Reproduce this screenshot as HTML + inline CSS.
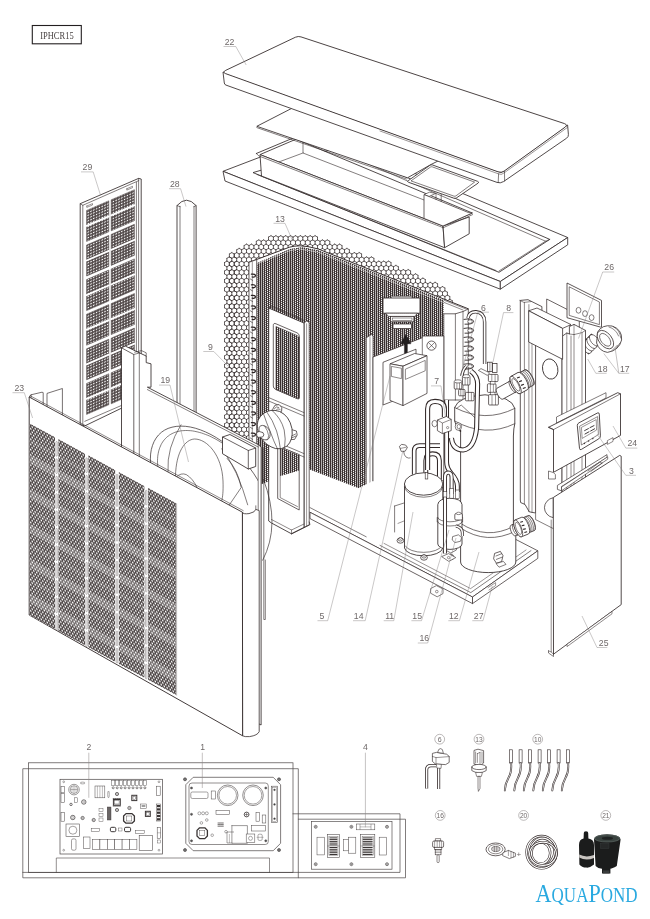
<!DOCTYPE html>
<html><head><meta charset="utf-8"><title>IPHCR15</title>
<style>
html,body{margin:0;padding:0;background:#fff;}
body{width:650px;height:919px;overflow:hidden;font-family:"Liberation Sans",sans-serif;}
svg{display:block;will-change:transform;}
svg text{font-family:"Liberation Sans",sans-serif;}
</style></head><body>
<svg width="650" height="919" viewBox="0 0 650 919">
<defs>
<pattern id="hex" width="4.9" height="8.487" patternUnits="userSpaceOnUse" patternTransform="translate(226,233)">
<path d="M2.45,0 L4.9,1.415 L4.9,4.244 L2.45,5.658 L0,4.244 L0,1.415 Z M2.45,5.658 L2.45,8.487" fill="none" stroke="#3a3131" stroke-width="0.62"/>
</pattern>
<pattern id="meshL" width="2" height="2" patternUnits="userSpaceOnUse" patternTransform="skewY(-23)">
<rect width="2" height="2" fill="#3d3434"/><rect x="0.55" y="0.55" width="0.95" height="0.95" fill="#fff"/>
</pattern>
<pattern id="meshR" width="2" height="2" patternUnits="userSpaceOnUse" patternTransform="skewY(21)">
<rect width="2" height="2" fill="#3d3434"/><rect x="0.55" y="0.55" width="0.95" height="0.95" fill="#fff"/>
</pattern>
<pattern id="grillF" width="3" height="5.2" patternUnits="userSpaceOnUse" patternTransform="skewY(28.6)">
<rect width="3" height="5.2" fill="#4f4848"/>
<circle cx="0.75" cy="1.3" r="0.9" fill="#fff"/><circle cx="2.25" cy="3.9" r="0.9" fill="#fff"/>
</pattern>
<pattern id="grillS" width="2.8" height="2.8" patternUnits="userSpaceOnUse" patternTransform="skewY(-23.4)">
<rect width="2.8" height="2.8" fill="#524a4a"/>
<ellipse cx="1.4" cy="1.4" rx="0.9" ry="0.7" fill="#fff"/>
</pattern>
</defs>
<rect width="650" height="919" fill="#fff"/>
<rect x="32.3" y="25.5" width="49.0" height="18.3" rx="0" fill="#fff" stroke="#231f20" stroke-width="1.1" />
<text x="40.2" y="38.6" font-family="Liberation Serif" font-size="10.6" fill="#4a4444" textLength="33.5" lengthAdjust="spacingAndGlyphs" style="font-family:'Liberation Serif',serif">IPHCR15</text>
<polygon points="223.0,171.3 320.7,134.0 567.7,237.5 500.3,281.5" fill="#fff" stroke="#332a2a" stroke-width="0.85" stroke-linejoin="round" />
<polygon points="223.0,171.3 500.3,281.5 500.3,289.2 225.0,181.0" fill="#fff" stroke="#332a2a" stroke-width="0.85" stroke-linejoin="round" />
<polygon points="500.3,281.5 567.7,237.5 567.7,244.8 500.3,289.2" fill="#fff" stroke="#332a2a" stroke-width="0.85" stroke-linejoin="round" />
<polygon points="253.0,172.6 338.0,147.5 549.8,239.4 499.0,272.3" fill="#fff" stroke="#332a2a" stroke-width="0.85" stroke-linejoin="round" />
<polyline points="257.0,174.5 496.0,270.5" fill="none" stroke="#332a2a" stroke-width="0.61" stroke-linejoin="round" stroke-linecap="round" />
<polyline points="341.0,152.0 545.5,241.2 499.0,271.0" fill="none" stroke="#332a2a" stroke-width="0.61" stroke-linejoin="round" stroke-linecap="round" />
<polyline points="545.5,241.2 549.8,239.4" fill="none" stroke="#332a2a" stroke-width="0.61" stroke-linejoin="round" stroke-linecap="round" />
<polygon points="260.0,154.6 296.0,139.2 472.3,213.0 443.0,226.0" fill="#fff" stroke="#332a2a" stroke-width="0.85" stroke-linejoin="round" />
<polyline points="303.0,141.5 303.0,153.0 455.0,212.0" fill="none" stroke="#332a2a" stroke-width="0.61" stroke-linejoin="round" stroke-linecap="round" />
<polyline points="303.0,153.0 268.0,166.0" fill="none" stroke="#332a2a" stroke-width="0.61" stroke-linejoin="round" stroke-linecap="round" />
<polygon points="260.0,154.6 443.0,226.0 444.6,247.7 261.5,176.0" fill="#fff" stroke="#332a2a" stroke-width="0.85" stroke-linejoin="round" />
<polygon points="443.0,226.0 469.2,217.0 469.2,233.8 444.6,247.7" fill="#fff" stroke="#332a2a" stroke-width="0.85" stroke-linejoin="round" />
<polyline points="256.3,153.5 259.0,156.0 443.0,227.6" fill="none" stroke="#332a2a" stroke-width="0.61" stroke-linejoin="round" stroke-linecap="round" />
<polyline points="256.3,153.5 292.0,138.5" fill="none" stroke="#332a2a" stroke-width="0.85" stroke-linejoin="round" stroke-linecap="round" />
<polyline points="443.0,227.8 472.6,214.6" fill="none" stroke="#332a2a" stroke-width="0.61" stroke-linejoin="round" stroke-linecap="round" />
<polygon points="424.0,194.6 429.5,192.2 435.7,193.4 429.0,196.5" fill="#fff" stroke="#332a2a" stroke-width="0.61" stroke-linejoin="round" />
<polygon points="424.0,194.6 429.0,196.5 468.3,212.5 472.3,213.0 443.0,226.0 424.0,218.4" fill="#fff" stroke="#332a2a" stroke-width="0.73" stroke-linejoin="round" />
<polyline points="441.2,194.0 441.2,201.4" fill="none" stroke="#332a2a" stroke-width="0.61" stroke-linejoin="round" stroke-linecap="round" />
<polyline points="436.0,193.6 436.0,199.4" fill="none" stroke="#332a2a" stroke-width="0.55" stroke-linejoin="round" stroke-linecap="round" />
<polygon points="256.8,126.3 330.0,88.7 480.0,140.0 430.8,164.6 407.5,177.8" fill="#fff" stroke="#332a2a" stroke-width="0.85" stroke-linejoin="round" />
<polyline points="256.8,127.6 406.5,179.0" fill="none" stroke="#332a2a" stroke-width="0.61" stroke-linejoin="round" stroke-linecap="round" />
<path d="M408.3,180.6 L429.8,165.4 Q431,164.4 432.6,165 L477.5,181.3 Q479.6,182.1 478,183.2 L456.6,197.8 Q455.3,198.7 453.6,198.1 L408.8,182.4 Q406.6,181.6 408.3,180.6 Z" fill="#fff" stroke="#332a2a" stroke-width="0.85"/>
<path d="M411,180.9 L430.4,167.1 Q431.2,166.5 432.4,166.9 L474.6,182.1 L455.9,195.9 Q455,196.5 453.9,196.1 Z" fill="none" stroke="#332a2a" stroke-width="0.61"/>
<path d="M223,72 L224.3,83 Q224.5,84.6 226,85.1 L497,182.4 Q500.3,183.6 503.5,181.6 L566.6,138.2 Q568.6,136.8 568.4,134.5 L567.6,125 L501.3,172.6 Z" fill="#fff" stroke="#332a2a" stroke-width="0.85" stroke-linejoin="round"/>
<polyline points="498.6,173.8 498.2,182.6" fill="none" stroke="#332a2a" stroke-width="0.61" stroke-linejoin="round" stroke-linecap="round" />
<polyline points="504.5,171.2 504.6,181.0" fill="none" stroke="#332a2a" stroke-width="0.61" stroke-linejoin="round" stroke-linecap="round" />
<path d="M225.8,70.3 L295.5,37.2 Q298.3,36 301,36.9 L564.5,123.6 Q568,125 565.3,127 L504,171.2 Q501.3,173 498,171.8 L225.5,73.6 Q222,72.2 225.8,70.3 Z" fill="#fff" stroke="#332a2a" stroke-width="0.88" stroke-linejoin="round"/>
<polyline points="380.0,131.0 498.3,173.8 501.4,174.4 504.5,172.6 567.2,127.6" fill="none" stroke="#332a2a" stroke-width="0.49" stroke-linejoin="round" stroke-linecap="round" />
<polygon points="80.2,203.7 138.6,178.4 141.2,179.0 141.2,398.7 84.8,425.9 80.2,424.5" fill="#fff" stroke="#332a2a" stroke-width="0.85" stroke-linejoin="round" />
<polyline points="80.2,203.7 82.8,205.3 138.8,180.6" fill="none" stroke="#332a2a" stroke-width="0.61" stroke-linejoin="round" stroke-linecap="round" />
<polyline points="82.8,205.3 82.8,425.0" fill="none" stroke="#332a2a" stroke-width="0.61" stroke-linejoin="round" stroke-linecap="round" />
<polyline points="136.4,182.4 136.4,401.2" fill="none" stroke="#332a2a" stroke-width="0.61" stroke-linejoin="round" stroke-linecap="round" />
<polyline points="138.6,178.4 138.6,400.7" fill="none" stroke="#332a2a" stroke-width="0.61" stroke-linejoin="round" stroke-linecap="round" />
<polyline points="84.8,421.3 136.4,399.0" fill="none" stroke="#332a2a" stroke-width="0.61" stroke-linejoin="round" stroke-linecap="round" />
<polyline points="86.8,206.0 92.5,203.6 92.5,205.0 86.8,207.4 86.8,206.0" fill="none" stroke="#332a2a" stroke-width="0.49" stroke-linejoin="round" stroke-linecap="round" />
<polyline points="126.8,188.7 132.5,186.3 132.5,187.7 126.8,190.1 126.8,188.7" fill="none" stroke="#332a2a" stroke-width="0.49" stroke-linejoin="round" stroke-linecap="round" />
<polygon points="86.6,210.4 108.8,200.8 108.8,231.8 86.6,241.4" fill="url(#grillS)" stroke="#4a4242" stroke-width="0.5" stroke-linejoin="round" />
<polyline points="86.6,225.9 108.8,216.3" fill="none" stroke="#fff" stroke-width="1.8" stroke-linejoin="round" stroke-linecap="round" />
<polygon points="111.2,199.8 134.4,189.7 134.4,220.7 111.2,230.8" fill="url(#grillS)" stroke="#4a4242" stroke-width="0.5" stroke-linejoin="round" />
<polyline points="111.2,215.3 134.4,205.2" fill="none" stroke="#fff" stroke-width="1.8" stroke-linejoin="round" stroke-linecap="round" />
<polygon points="86.6,245.0 108.8,235.4 108.8,266.4 86.6,276.0" fill="url(#grillS)" stroke="#4a4242" stroke-width="0.5" stroke-linejoin="round" />
<polyline points="86.6,260.5 108.8,250.9" fill="none" stroke="#fff" stroke-width="1.8" stroke-linejoin="round" stroke-linecap="round" />
<polygon points="111.2,234.4 134.4,224.3 134.4,255.3 111.2,265.4" fill="url(#grillS)" stroke="#4a4242" stroke-width="0.5" stroke-linejoin="round" />
<polyline points="111.2,249.9 134.4,239.8" fill="none" stroke="#fff" stroke-width="1.8" stroke-linejoin="round" stroke-linecap="round" />
<polygon points="86.6,279.6 108.8,270.0 108.8,301.0 86.6,310.6" fill="url(#grillS)" stroke="#4a4242" stroke-width="0.5" stroke-linejoin="round" />
<polyline points="86.6,295.1 108.8,285.5" fill="none" stroke="#fff" stroke-width="1.8" stroke-linejoin="round" stroke-linecap="round" />
<polygon points="111.2,269.0 134.4,258.9 134.4,289.9 111.2,300.0" fill="url(#grillS)" stroke="#4a4242" stroke-width="0.5" stroke-linejoin="round" />
<polyline points="111.2,284.5 134.4,274.4" fill="none" stroke="#fff" stroke-width="1.8" stroke-linejoin="round" stroke-linecap="round" />
<polygon points="86.6,314.2 108.8,304.6 108.8,335.6 86.6,345.2" fill="url(#grillS)" stroke="#4a4242" stroke-width="0.5" stroke-linejoin="round" />
<polyline points="86.6,329.7 108.8,320.1" fill="none" stroke="#fff" stroke-width="1.8" stroke-linejoin="round" stroke-linecap="round" />
<polygon points="111.2,303.6 134.4,293.5 134.4,324.5 111.2,334.6" fill="url(#grillS)" stroke="#4a4242" stroke-width="0.5" stroke-linejoin="round" />
<polyline points="111.2,319.1 134.4,309.0" fill="none" stroke="#fff" stroke-width="1.8" stroke-linejoin="round" stroke-linecap="round" />
<polygon points="86.6,348.8 108.8,339.2 108.8,370.2 86.6,379.8" fill="url(#grillS)" stroke="#4a4242" stroke-width="0.5" stroke-linejoin="round" />
<polyline points="86.6,364.3 108.8,354.7" fill="none" stroke="#fff" stroke-width="1.8" stroke-linejoin="round" stroke-linecap="round" />
<polygon points="111.2,338.2 134.4,328.1 134.4,359.1 111.2,369.2" fill="url(#grillS)" stroke="#4a4242" stroke-width="0.5" stroke-linejoin="round" />
<polyline points="111.2,353.7 134.4,343.6" fill="none" stroke="#fff" stroke-width="1.8" stroke-linejoin="round" stroke-linecap="round" />
<polygon points="86.6,383.4 108.8,373.8 108.8,404.8 86.6,414.4" fill="url(#grillS)" stroke="#4a4242" stroke-width="0.5" stroke-linejoin="round" />
<polyline points="86.6,398.9 108.8,389.3" fill="none" stroke="#fff" stroke-width="1.8" stroke-linejoin="round" stroke-linecap="round" />
<polygon points="111.2,372.8 134.4,362.7 134.4,393.7 111.2,403.8" fill="url(#grillS)" stroke="#4a4242" stroke-width="0.5" stroke-linejoin="round" />
<polyline points="111.2,388.3 134.4,378.2" fill="none" stroke="#fff" stroke-width="1.8" stroke-linejoin="round" stroke-linecap="round" />
<path d="M177,560 L177,205.6 Q186.5,194.8 196.1,205.6 L196.1,560 Z" fill="#fff" stroke="#332a2a" stroke-width="0.85"/>
<polyline points="180.0,206.3 180.0,560.0" fill="none" stroke="#332a2a" stroke-width="0.61" stroke-linejoin="round" stroke-linecap="round" />
<polyline points="194.0,206.3 194.0,560.0" fill="none" stroke="#332a2a" stroke-width="0.61" stroke-linejoin="round" stroke-linecap="round" />
<polyline points="177.0,205.6 180.0,206.6" fill="none" stroke="#332a2a" stroke-width="0.61" stroke-linejoin="round" stroke-linecap="round" />
<polyline points="196.1,205.6 194.0,206.6" fill="none" stroke="#332a2a" stroke-width="0.61" stroke-linejoin="round" stroke-linecap="round" />
<path d="M224.5,262.5L224.5,265.4M224.5,262.5L226.9,261.1M224.5,265.4L226.9,266.8M224.5,271.0L224.5,273.8M224.5,271.0L226.9,269.6M224.5,273.8L226.9,275.3M224.5,279.5L224.5,282.3M224.5,279.5L226.9,278.1M224.5,282.3L226.9,283.8M224.5,288.0L224.5,290.8M224.5,288.0L226.9,286.6M224.5,290.8L226.9,292.2M224.5,296.5L224.5,299.3M224.5,296.5L226.9,295.1M224.5,299.3L226.9,300.7M224.5,305.0L224.5,307.8M224.5,305.0L226.9,303.6M224.5,307.8L226.9,309.2M224.5,313.5L224.5,316.3M224.5,313.5L226.9,312.0M224.5,316.3L226.9,317.7M224.5,321.9L224.5,324.8M224.5,321.9L226.9,320.5M224.5,324.8L226.9,326.2M224.5,330.4L224.5,333.3M224.5,330.4L226.9,329.0M224.5,333.3L226.9,334.7M224.5,338.9L224.5,341.7M224.5,338.9L226.9,337.5M224.5,341.7L226.9,343.2M224.5,347.4L224.5,350.2M224.5,347.4L226.9,346.0M224.5,350.2L226.9,351.6M224.5,355.9L224.5,358.7M224.5,355.9L226.9,354.5M224.5,358.7L226.9,360.1M224.5,364.4L224.5,367.2M224.5,364.4L226.9,363.0M224.5,367.2L226.9,368.6M224.5,372.9L224.5,375.7M224.5,372.9L226.9,371.5M224.5,375.7L226.9,377.1M224.5,381.4L224.5,384.2M224.5,381.4L226.9,379.9M224.5,384.2L226.9,385.6M224.5,389.8L224.5,392.7M224.5,389.8L226.9,388.4M224.5,392.7L226.9,394.1M224.5,398.3L224.5,401.2M224.5,398.3L226.9,396.9M224.5,401.2L226.9,402.6M224.5,406.8L224.5,409.6M224.5,406.8L226.9,405.4M224.5,409.6L226.9,411.1M224.5,415.3L224.5,418.1M224.5,415.3L226.9,413.9M224.5,418.1L226.9,419.5M224.5,423.8L224.5,426.6M224.5,423.8L226.9,422.4M224.5,426.6L226.9,428.0M224.5,432.3L224.5,435.1M224.5,432.3L226.9,430.9M224.5,435.1L226.9,436.5M224.5,440.8L224.5,443.6M224.5,440.8L226.9,439.3M224.5,443.6L226.9,445.0M226.9,258.3L226.9,261.1M226.9,258.3L229.3,256.9M226.9,261.1L229.3,262.5M226.9,266.8L226.9,269.6M226.9,266.8L229.3,265.4M226.9,269.6L229.3,271.0M226.9,275.3L226.9,278.1M226.9,275.3L229.3,273.8M226.9,278.1L229.3,279.5M226.9,283.8L226.9,286.6M226.9,283.8L229.3,282.3M226.9,286.6L229.3,288.0M226.9,292.2L226.9,295.1M226.9,292.2L229.3,290.8M226.9,295.1L229.3,296.5M226.9,300.7L226.9,303.6M226.9,300.7L229.3,299.3M226.9,303.6L229.3,305.0M226.9,309.2L226.9,312.0M226.9,309.2L229.3,307.8M226.9,312.0L229.3,313.5M226.9,317.7L226.9,320.5M226.9,317.7L229.3,316.3M226.9,320.5L229.3,321.9M226.9,326.2L226.9,329.0M226.9,326.2L229.3,324.8M226.9,329.0L229.3,330.4M226.9,334.7L226.9,337.5M226.9,334.7L229.3,333.3M226.9,337.5L229.3,338.9M226.9,343.2L226.9,346.0M226.9,343.2L229.3,341.7M226.9,346.0L229.3,347.4M226.9,351.6L226.9,354.5M226.9,351.6L229.3,350.2M226.9,354.5L229.3,355.9M226.9,360.1L226.9,363.0M226.9,360.1L229.3,358.7M226.9,363.0L229.3,364.4M226.9,368.6L226.9,371.5M226.9,368.6L229.3,367.2M226.9,371.5L229.3,372.9M226.9,377.1L226.9,379.9M226.9,377.1L229.3,375.7M226.9,379.9L229.3,381.4M226.9,385.6L226.9,388.4M226.9,385.6L229.3,384.2M226.9,388.4L229.3,389.8M226.9,394.1L226.9,396.9M226.9,394.1L229.3,392.7M226.9,396.9L229.3,398.3M226.9,402.6L226.9,405.4M226.9,402.6L229.3,401.2M226.9,405.4L229.3,406.8M226.9,411.1L226.9,413.9M226.9,411.1L229.3,409.6M226.9,413.9L229.3,415.3M226.9,419.5L226.9,422.4M226.9,419.5L229.3,418.1M226.9,422.4L229.3,423.8M226.9,428.0L226.9,430.9M226.9,428.0L229.3,426.6M226.9,430.9L229.3,432.3M226.9,436.5L226.9,439.3M226.9,436.5L229.3,435.1M226.9,439.3L229.3,440.8M226.9,445.0L226.9,447.8M226.9,445.0L229.3,443.6M226.9,447.8L229.3,449.2M229.3,256.9L231.8,258.3M229.3,262.5L229.3,265.4M229.3,262.5L231.8,261.1M229.3,265.4L231.8,266.8M229.3,271.0L229.3,273.8M229.3,271.0L231.8,269.6M229.3,273.8L231.8,275.3M229.3,279.5L229.3,282.3M229.3,279.5L231.8,278.1M229.3,282.3L231.8,283.8M229.3,288.0L229.3,290.8M229.3,288.0L231.8,286.6M229.3,290.8L231.8,292.2M229.3,296.5L229.3,299.3M229.3,296.5L231.8,295.1M229.3,299.3L231.8,300.7M229.3,305.0L229.3,307.8M229.3,305.0L231.8,303.6M229.3,307.8L231.8,309.2M229.3,313.5L229.3,316.3M229.3,313.5L231.8,312.0M229.3,316.3L231.8,317.7M229.3,321.9L229.3,324.8M229.3,321.9L231.8,320.5M229.3,324.8L231.8,326.2M229.3,330.4L229.3,333.3M229.3,330.4L231.8,329.0M229.3,333.3L231.8,334.7M229.3,338.9L229.3,341.7M229.3,338.9L231.8,337.5M229.3,341.7L231.8,343.2M229.3,347.4L229.3,350.2M229.3,347.4L231.8,346.0M229.3,350.2L231.8,351.6M229.3,355.9L229.3,358.7M229.3,355.9L231.8,354.5M229.3,358.7L231.8,360.1M229.3,364.4L229.3,367.2M229.3,364.4L231.8,363.0M229.3,367.2L231.8,368.6M229.3,372.9L229.3,375.7M229.3,372.9L231.8,371.5M229.3,375.7L231.8,377.1M229.3,381.4L229.3,384.2M229.3,381.4L231.8,379.9M229.3,384.2L231.8,385.6M229.3,389.8L229.3,392.7M229.3,389.8L231.8,388.4M229.3,392.7L231.8,394.1M229.3,398.3L229.3,401.2M229.3,398.3L231.8,396.9M229.3,401.2L231.8,402.6M229.3,406.8L229.3,409.6M229.3,406.8L231.8,405.4M229.3,409.6L231.8,411.1M229.3,415.3L229.3,418.1M229.3,415.3L231.8,413.9M229.3,418.1L231.8,419.5M229.3,423.8L229.3,426.6M229.3,423.8L231.8,422.4M229.3,426.6L231.8,428.0M229.3,432.3L229.3,435.1M229.3,432.3L231.8,430.9M229.3,435.1L231.8,436.5M229.3,440.8L229.3,443.6M229.3,440.8L231.8,439.3M229.3,443.6L231.8,445.0M229.3,449.2L231.8,447.8M229.4,254.0L229.4,256.9M229.4,254.0L231.8,252.6M229.4,256.9L231.8,258.3M229.4,262.5L229.4,265.4M229.4,262.5L231.8,261.1M229.4,265.4L231.8,266.8M229.4,271.0L229.4,273.8M229.4,271.0L231.8,269.6M229.4,273.8L231.8,275.3M229.4,279.5L229.4,282.3M229.4,279.5L231.8,278.1M229.4,282.3L231.8,283.8M229.4,288.0L229.4,290.8M229.4,288.0L231.8,286.6M229.4,290.8L231.8,292.2M229.4,296.5L229.4,299.3M229.4,296.5L231.8,295.1M229.4,299.3L231.8,300.7M229.4,305.0L229.4,307.8M229.4,305.0L231.8,303.6M229.4,307.8L231.8,309.2M229.4,313.5L229.4,316.3M229.4,313.5L231.8,312.0M229.4,316.3L231.8,317.7M229.4,321.9L229.4,324.8M229.4,321.9L231.8,320.5M229.4,324.8L231.8,326.2M229.4,330.4L229.4,333.3M229.4,330.4L231.8,329.0M229.4,333.3L231.8,334.7M229.4,338.9L229.4,341.7M229.4,338.9L231.8,337.5M229.4,341.7L231.8,343.2M229.4,347.4L229.4,350.2M229.4,347.4L231.8,346.0M229.4,350.2L231.8,351.6M229.4,355.9L229.4,358.7M229.4,355.9L231.8,354.5M229.4,358.7L231.8,360.1M229.4,364.4L229.4,367.2M229.4,364.4L231.8,363.0M229.4,367.2L231.8,368.6M229.4,372.9L229.4,375.7M229.4,372.9L231.8,371.5M229.4,375.7L231.8,377.1M229.4,381.4L229.4,384.2M229.4,381.4L231.8,379.9M229.4,384.2L231.8,385.6M229.4,389.8L229.4,392.7M229.4,389.8L231.8,388.4M229.4,392.7L231.8,394.1M229.4,398.3L229.4,401.2M229.4,398.3L231.8,396.9M229.4,401.2L231.8,402.6M229.4,406.8L229.4,409.6M229.4,406.8L231.8,405.4M229.4,409.6L231.8,411.1M229.4,415.3L229.4,418.1M229.4,415.3L231.8,413.9M229.4,418.1L231.8,419.5M229.4,423.8L229.4,426.6M229.4,423.8L231.8,422.4M229.4,426.6L231.8,428.0M229.4,432.3L229.4,435.1M229.4,432.3L231.8,430.9M229.4,435.1L231.8,436.5M229.4,440.8L229.4,443.6M229.4,440.8L231.8,439.3M229.4,443.6L231.8,445.0M231.8,252.6L234.2,254.0M231.8,258.3L231.8,261.1M231.8,258.3L234.2,256.9M231.8,261.1L234.2,262.5M231.8,266.8L231.8,269.6M231.8,266.8L234.2,265.4M231.8,269.6L234.2,271.0M231.8,275.3L231.8,278.1M231.8,275.3L234.2,273.8M231.8,278.1L234.2,279.5M231.8,283.8L231.8,286.6M231.8,283.8L234.2,282.3M231.8,286.6L234.2,288.0M231.8,292.2L231.8,295.1M231.8,292.2L234.2,290.8M231.8,295.1L234.2,296.5M231.8,300.7L231.8,303.6M231.8,300.7L234.2,299.3M231.8,303.6L234.2,305.0M231.8,309.2L231.8,312.0M231.8,309.2L234.2,307.8M231.8,312.0L234.2,313.5M231.8,317.7L231.8,320.5M231.8,317.7L234.2,316.3M231.8,320.5L234.2,321.9M231.8,326.2L231.8,329.0M231.8,326.2L234.2,324.8M231.8,329.0L234.2,330.4M231.8,334.7L231.8,337.5M231.8,334.7L234.2,333.3M231.8,337.5L234.2,338.9M231.8,343.2L231.8,346.0M231.8,343.2L234.2,341.7M231.8,346.0L234.2,347.4M231.8,351.6L231.8,354.5M231.8,351.6L234.2,350.2M231.8,354.5L234.2,355.9M231.8,360.1L231.8,363.0M231.8,360.1L234.2,358.7M231.8,363.0L234.2,364.4M231.8,368.6L231.8,371.5M231.8,368.6L234.2,367.2M231.8,371.5L234.2,372.9M231.8,377.1L231.8,379.9M231.8,377.1L234.2,375.7M231.8,379.9L234.2,381.4M231.8,385.6L231.8,388.4M231.8,385.6L234.2,384.2M231.8,388.4L234.2,389.8M231.8,394.1L231.8,396.9M231.8,394.1L234.2,392.7M231.8,396.9L234.2,398.3M231.8,402.6L231.8,405.4M231.8,402.6L234.2,401.2M231.8,405.4L234.2,406.8M231.8,411.1L231.8,413.9M231.8,411.1L234.2,409.6M231.8,413.9L234.2,415.3M231.8,419.5L231.8,422.4M231.8,419.5L234.2,418.1M231.8,422.4L234.2,423.8M231.8,428.0L231.8,430.9M231.8,428.0L234.2,426.6M231.8,430.9L234.2,432.3M231.8,436.5L231.8,439.3M231.8,436.5L234.2,435.1M231.8,439.3L234.2,440.8M231.8,445.0L231.8,447.8M231.8,445.0L234.2,443.6M231.8,447.8L234.2,449.2M234.2,254.0L234.2,256.9M234.2,256.9L236.7,258.3M234.2,262.5L234.2,265.4M234.2,262.5L236.7,261.1M234.2,265.4L236.7,266.8M234.2,271.0L234.2,273.8M234.2,271.0L236.7,269.6M234.2,273.8L236.7,275.3M234.2,279.5L234.2,282.3M234.2,279.5L236.7,278.1M234.2,282.3L236.7,283.8M234.2,288.0L234.2,290.8M234.2,288.0L236.7,286.6M234.2,290.8L236.7,292.2M234.2,296.5L234.2,299.3M234.2,296.5L236.7,295.1M234.2,299.3L236.7,300.7M234.2,305.0L234.2,307.8M234.2,305.0L236.7,303.6M234.2,307.8L236.7,309.2M234.2,313.5L234.2,316.3M234.2,313.5L236.7,312.0M234.2,316.3L236.7,317.7M234.2,321.9L234.2,324.8M234.2,321.9L236.7,320.5M234.2,324.8L236.7,326.2M234.2,330.4L234.2,333.3M234.2,330.4L236.7,329.0M234.2,333.3L236.7,334.7M234.2,338.9L234.2,341.7M234.2,338.9L236.7,337.5M234.2,341.7L236.7,343.2M234.2,347.4L234.2,350.2M234.2,347.4L236.7,346.0M234.2,350.2L236.7,351.6M234.2,355.9L234.2,358.7M234.2,355.9L236.7,354.5M234.2,358.7L236.7,360.1M234.2,364.4L234.2,367.2M234.2,364.4L236.7,363.0M234.2,367.2L236.7,368.6M234.2,372.9L234.2,375.7M234.2,372.9L236.7,371.5M234.2,375.7L236.7,377.1M234.2,381.4L234.2,384.2M234.2,381.4L236.7,379.9M234.2,384.2L236.7,385.6M234.2,389.8L234.2,392.7M234.2,389.8L236.7,388.4M234.2,392.7L236.7,394.1M234.2,398.3L234.2,401.2M234.2,398.3L236.7,396.9M234.2,401.2L236.7,402.6M234.2,406.8L234.2,409.6M234.2,406.8L236.7,405.4M234.2,409.6L236.7,411.1M234.2,415.3L234.2,418.1M234.2,415.3L236.7,413.9M234.2,418.1L236.7,419.5M234.2,423.8L234.2,426.6M234.2,423.8L236.7,422.4M234.2,426.6L236.7,428.0M234.2,432.3L234.2,435.1M234.2,432.3L236.7,430.9M234.2,435.1L236.7,436.5M234.2,440.8L234.2,443.6M234.2,440.8L236.7,439.3M234.2,443.6L236.7,445.0M234.2,449.2L236.7,447.8M234.3,254.0L234.3,256.9M234.3,254.0L236.7,252.6M234.3,256.9L236.7,258.3M234.3,262.5L234.3,265.4M234.3,262.5L236.7,261.1M234.3,265.4L236.7,266.8M234.3,271.0L234.3,273.8M234.3,271.0L236.7,269.6M234.3,273.8L236.7,275.3M234.3,279.5L234.3,282.3M234.3,279.5L236.7,278.1M234.3,282.3L236.7,283.8M234.3,288.0L234.3,290.8M234.3,288.0L236.7,286.6M234.3,290.8L236.7,292.2M234.3,296.5L234.3,299.3M234.3,296.5L236.7,295.1M234.3,299.3L236.7,300.7M234.3,305.0L234.3,307.8M234.3,305.0L236.7,303.6M234.3,307.8L236.7,309.2M234.3,313.5L234.3,316.3M234.3,313.5L236.7,312.0M234.3,316.3L236.7,317.7M234.3,321.9L234.3,324.8M234.3,321.9L236.7,320.5M234.3,324.8L236.7,326.2M234.3,330.4L234.3,333.3M234.3,330.4L236.7,329.0M234.3,333.3L236.7,334.7M234.3,338.9L234.3,341.7M234.3,338.9L236.7,337.5M234.3,341.7L236.7,343.2M234.3,347.4L234.3,350.2M234.3,347.4L236.7,346.0M234.3,350.2L236.7,351.6M234.3,355.9L234.3,358.7M234.3,355.9L236.7,354.5M234.3,358.7L236.7,360.1M234.3,364.4L234.3,367.2M234.3,364.4L236.7,363.0M234.3,367.2L236.7,368.6M234.3,372.9L234.3,375.7M234.3,372.9L236.7,371.5M234.3,375.7L236.7,377.1M234.3,381.4L234.3,384.2M234.3,381.4L236.7,379.9M234.3,384.2L236.7,385.6M234.3,389.8L234.3,392.7M234.3,389.8L236.7,388.4M234.3,392.7L236.7,394.1M234.3,398.3L234.3,401.2M234.3,398.3L236.7,396.9M234.3,401.2L236.7,402.6M234.3,406.8L234.3,409.6M234.3,406.8L236.7,405.4M234.3,409.6L236.7,411.1M234.3,415.3L234.3,418.1M234.3,415.3L236.7,413.9M234.3,418.1L236.7,419.5M234.3,423.8L234.3,426.6M234.3,423.8L236.7,422.4M234.3,426.6L236.7,428.0M234.3,432.3L234.3,435.1M234.3,432.3L236.7,430.9M234.3,435.1L236.7,436.5M234.3,440.8L234.3,443.6M234.3,440.8L236.7,439.3M234.3,443.6L236.7,445.0M236.7,249.8L236.7,252.6M236.7,249.8L239.2,248.4M236.7,252.6L239.2,254.0M236.7,258.3L236.7,261.1M236.7,258.3L239.2,256.9M236.7,261.1L239.2,262.5M236.7,266.8L236.7,269.6M236.7,266.8L239.2,265.4M236.7,269.6L239.2,271.0M236.7,275.3L236.7,278.1M236.7,275.3L239.2,273.8M236.7,278.1L239.2,279.5M236.7,283.8L236.7,286.6M236.7,283.8L239.2,282.3M236.7,286.6L239.2,288.0M236.7,292.2L236.7,295.1M236.7,292.2L239.2,290.8M236.7,295.1L239.2,296.5M236.7,300.7L236.7,303.6M236.7,300.7L239.2,299.3M236.7,303.6L239.2,305.0M236.7,309.2L236.7,312.0M236.7,309.2L239.2,307.8M236.7,312.0L239.2,313.5M236.7,317.7L236.7,320.5M236.7,317.7L239.2,316.3M236.7,320.5L239.2,321.9M236.7,326.2L236.7,329.0M236.7,326.2L239.2,324.8M236.7,329.0L239.2,330.4M236.7,334.7L236.7,337.5M236.7,334.7L239.2,333.3M236.7,337.5L239.2,338.9M236.7,343.2L236.7,346.0M236.7,343.2L239.2,341.7M236.7,346.0L239.2,347.4M236.7,351.6L236.7,354.5M236.7,351.6L239.2,350.2M236.7,354.5L239.2,355.9M236.7,360.1L236.7,363.0M236.7,360.1L239.2,358.7M236.7,363.0L239.2,364.4M236.7,368.6L236.7,371.5M236.7,368.6L239.2,367.2M236.7,371.5L239.2,372.9M236.7,377.1L236.7,379.9M236.7,377.1L239.2,375.7M236.7,379.9L239.2,381.4M236.7,385.6L236.7,388.4M236.7,385.6L239.2,384.2M236.7,388.4L239.2,389.8M236.7,394.1L236.7,396.9M236.7,394.1L239.2,392.7M236.7,396.9L239.2,398.3M236.7,402.6L236.7,405.4M236.7,402.6L239.2,401.2M236.7,405.4L239.2,406.8M236.7,411.1L236.7,413.9M236.7,411.1L239.2,409.6M236.7,413.9L239.2,415.3M236.7,419.5L236.7,422.4M236.7,419.5L239.2,418.1M236.7,422.4L239.2,423.8M236.7,428.0L236.7,430.9M236.7,428.0L239.2,426.6M236.7,430.9L239.2,432.3M236.7,436.5L236.7,439.3M236.7,436.5L239.2,435.1M236.7,439.3L239.2,440.8M236.7,445.0L236.7,447.8M236.7,445.0L239.2,443.6M236.7,447.8L239.2,449.2M239.2,248.4L241.6,249.8M239.2,254.0L239.2,256.9M239.2,254.0L241.6,252.6M239.2,256.9L241.6,258.3M239.2,262.5L239.2,265.4M239.2,262.5L241.6,261.1M239.2,265.4L241.6,266.8M239.2,271.0L239.2,273.8M239.2,271.0L241.6,269.6M239.2,273.8L241.6,275.3M239.2,279.5L239.2,282.3M239.2,279.5L241.6,278.1M239.2,282.3L241.6,283.8M239.2,288.0L239.2,290.8M239.2,288.0L241.6,286.6M239.2,290.8L241.6,292.2M239.2,296.5L239.2,299.3M239.2,296.5L241.6,295.1M239.2,299.3L241.6,300.7M239.2,305.0L239.2,307.8M239.2,305.0L241.6,303.6M239.2,307.8L241.6,309.2M239.2,313.5L239.2,316.3M239.2,313.5L241.6,312.0M239.2,316.3L241.6,317.7M239.2,321.9L239.2,324.8M239.2,321.9L241.6,320.5M239.2,324.8L241.6,326.2M239.2,330.4L239.2,333.3M239.2,330.4L241.6,329.0M239.2,333.3L241.6,334.7M239.2,338.9L239.2,341.7M239.2,338.9L241.6,337.5M239.2,341.7L241.6,343.2M239.2,347.4L239.2,350.2M239.2,347.4L241.6,346.0M239.2,350.2L241.6,351.6M239.2,355.9L239.2,358.7M239.2,355.9L241.6,354.5M239.2,358.7L241.6,360.1M239.2,364.4L239.2,367.2M239.2,364.4L241.6,363.0M239.2,367.2L241.6,368.6M239.2,372.9L239.2,375.7M239.2,372.9L241.6,371.5M239.2,375.7L241.6,377.1M239.2,381.4L239.2,384.2M239.2,381.4L241.6,379.9M239.2,384.2L241.6,385.6M239.2,389.8L239.2,392.7M239.2,389.8L241.6,388.4M239.2,392.7L241.6,394.1M239.2,398.3L239.2,401.2M239.2,398.3L241.6,396.9M239.2,401.2L241.6,402.6M239.2,406.8L239.2,409.6M239.2,406.8L241.6,405.4M239.2,409.6L241.6,411.1M239.2,415.3L239.2,418.1M239.2,415.3L241.6,413.9M239.2,418.1L241.6,419.5M239.2,423.8L239.2,426.6M239.2,423.8L241.6,422.4M239.2,426.6L241.6,428.0M239.2,432.3L239.2,435.1M239.2,432.3L241.6,430.9M239.2,435.1L241.6,436.5M239.2,440.8L239.2,443.6M239.2,440.8L241.6,439.3M239.2,443.6L241.6,445.0M239.2,449.2L241.6,447.8M241.6,249.8L241.6,252.6M241.6,249.8L244.1,248.4M241.6,252.6L244.1,254.0M241.6,258.3L241.6,261.1M241.6,258.3L244.1,256.9M241.6,261.1L244.1,262.5M241.6,266.8L241.6,269.6M241.6,266.8L244.1,265.4M241.6,269.6L244.1,271.0M241.6,275.3L241.6,278.1M241.6,275.3L244.1,273.8M241.6,278.1L244.1,279.5M241.6,283.8L241.6,286.6M241.6,283.8L244.1,282.3M241.6,286.6L244.1,288.0M241.6,292.2L241.6,295.1M241.6,292.2L244.1,290.8M241.6,295.1L244.1,296.5M241.6,300.7L241.6,303.6M241.6,300.7L244.1,299.3M241.6,303.6L244.1,305.0M241.6,309.2L241.6,312.0M241.6,309.2L244.1,307.8M241.6,312.0L244.1,313.5M241.6,317.7L241.6,320.5M241.6,317.7L244.1,316.3M241.6,320.5L244.1,321.9M241.6,326.2L241.6,329.0M241.6,326.2L244.1,324.8M241.6,329.0L244.1,330.4M241.6,334.7L241.6,337.5M241.6,334.7L244.1,333.3M241.6,337.5L244.1,338.9M241.6,343.2L241.6,346.0M241.6,343.2L244.1,341.7M241.6,346.0L244.1,347.4M241.6,351.6L241.6,354.5M241.6,351.6L244.1,350.2M241.6,354.5L244.1,355.9M241.6,360.1L241.6,363.0M241.6,360.1L244.1,358.7M241.6,363.0L244.1,364.4M241.6,368.6L241.6,371.5M241.6,368.6L244.1,367.2M241.6,371.5L244.1,372.9M241.6,377.1L241.6,379.9M241.6,377.1L244.1,375.7M241.6,379.9L244.1,381.4M241.6,385.6L241.6,388.4M241.6,385.6L244.1,384.2M241.6,388.4L244.1,389.8M241.6,394.1L241.6,396.9M241.6,394.1L244.1,392.7M241.6,396.9L244.1,398.3M241.6,402.6L241.6,405.4M241.6,402.6L244.1,401.2M241.6,405.4L244.1,406.8M241.6,411.1L241.6,413.9M241.6,411.1L244.1,409.6M241.6,413.9L244.1,415.3M241.6,419.5L241.6,422.4M241.6,419.5L244.1,418.1M241.6,422.4L244.1,423.8M241.6,428.0L241.6,430.9M241.6,428.0L244.1,426.6M241.6,430.9L244.1,432.3M241.6,436.5L241.6,439.3M241.6,436.5L244.1,435.1M241.6,439.3L244.1,440.8M241.6,445.0L241.6,447.8M241.6,445.0L244.1,443.6M241.6,447.8L244.1,449.2M244.1,245.6L244.1,248.4M244.1,245.6L246.5,244.1M244.1,248.4L246.5,249.8M244.1,254.0L244.1,256.9M244.1,254.0L246.5,252.6M244.1,256.9L246.5,258.3M244.1,262.5L244.1,265.4M244.1,262.5L246.5,261.1M244.1,265.4L246.5,266.8M244.1,271.0L244.1,273.8M244.1,271.0L246.5,269.6M244.1,273.8L246.5,275.3M244.1,279.5L244.1,282.3M244.1,279.5L246.5,278.1M244.1,282.3L246.5,283.8M244.1,288.0L244.1,290.8M244.1,288.0L246.5,286.6M244.1,290.8L246.5,292.2M244.1,296.5L244.1,299.3M244.1,296.5L246.5,295.1M244.1,299.3L246.5,300.7M244.1,305.0L244.1,307.8M244.1,305.0L246.5,303.6M244.1,307.8L246.5,309.2M244.1,313.5L244.1,316.3M244.1,313.5L246.5,312.0M244.1,316.3L246.5,317.7M244.1,321.9L244.1,324.8M244.1,321.9L246.5,320.5M244.1,324.8L246.5,326.2M244.1,330.4L244.1,333.3M244.1,330.4L246.5,329.0M244.1,333.3L246.5,334.7M244.1,338.9L244.1,341.7M244.1,338.9L246.5,337.5M244.1,341.7L246.5,343.2M244.1,347.4L244.1,350.2M244.1,347.4L246.5,346.0M244.1,350.2L246.5,351.6M244.1,355.9L244.1,358.7M244.1,355.9L246.5,354.5M244.1,358.7L246.5,360.1M244.1,364.4L244.1,367.2M244.1,364.4L246.5,363.0M244.1,367.2L246.5,368.6M244.1,372.9L244.1,375.7M244.1,372.9L246.5,371.5M244.1,375.7L246.5,377.1M244.1,381.4L244.1,384.2M244.1,381.4L246.5,379.9M244.1,384.2L246.5,385.6M244.1,389.8L244.1,392.7M244.1,389.8L246.5,388.4M244.1,392.7L246.5,394.1M244.1,398.3L244.1,401.2M244.1,398.3L246.5,396.9M244.1,401.2L246.5,402.6M244.1,406.8L244.1,409.6M244.1,406.8L246.5,405.4M244.1,409.6L246.5,411.1M244.1,415.3L244.1,418.1M244.1,415.3L246.5,413.9M244.1,418.1L246.5,419.5M244.1,423.8L244.1,426.6M244.1,423.8L246.5,422.4M244.1,426.6L246.5,428.0M244.1,432.3L244.1,435.1M244.1,432.3L246.5,430.9M244.1,435.1L246.5,436.5M244.1,440.8L244.1,443.6M244.1,440.8L246.5,439.3M244.1,443.6L246.5,445.0M244.1,449.2L246.5,447.8M246.5,244.1L249.0,245.6M246.5,249.8L246.5,252.6M246.5,249.8L249.0,248.4M246.5,252.6L249.0,254.0M246.5,258.3L246.5,261.1M246.5,258.3L249.0,256.9M246.5,261.1L249.0,262.5M246.5,266.8L246.5,269.6M246.5,266.8L249.0,265.4M246.5,269.6L249.0,271.0M246.5,275.3L246.5,278.1M246.5,275.3L249.0,273.8M246.5,278.1L249.0,279.5M246.5,283.8L246.5,286.6M246.5,283.8L249.0,282.3M246.5,286.6L249.0,288.0M246.5,292.2L246.5,295.1M246.5,292.2L249.0,290.8M246.5,295.1L249.0,296.5M246.5,300.7L246.5,303.6M246.5,300.7L249.0,299.3M246.5,303.6L249.0,305.0M246.5,309.2L246.5,312.0M246.5,309.2L249.0,307.8M246.5,312.0L249.0,313.5M246.5,317.7L246.5,320.5M246.5,317.7L249.0,316.3M246.5,320.5L249.0,321.9M246.5,326.2L246.5,329.0M246.5,326.2L249.0,324.8M246.5,329.0L249.0,330.4M246.5,334.7L246.5,337.5M246.5,334.7L249.0,333.3M246.5,337.5L249.0,338.9M246.5,343.2L246.5,346.0M246.5,343.2L249.0,341.7M246.5,346.0L249.0,347.4M246.5,351.6L246.5,354.5M246.5,351.6L249.0,350.2M246.5,354.5L249.0,355.9M246.5,360.1L246.5,363.0M246.5,360.1L249.0,358.7M246.5,363.0L249.0,364.4M246.5,368.6L246.5,371.5M246.5,368.6L249.0,367.2M246.5,371.5L249.0,372.9M246.5,377.1L246.5,379.9M246.5,377.1L249.0,375.7M246.5,379.9L249.0,381.4M246.5,385.6L246.5,388.4M246.5,385.6L249.0,384.2M246.5,388.4L249.0,389.8M246.5,394.1L246.5,396.9M246.5,394.1L249.0,392.7M246.5,396.9L249.0,398.3M246.5,402.6L246.5,405.4M246.5,402.6L249.0,401.2M246.5,405.4L249.0,406.8M246.5,411.1L246.5,413.9M246.5,411.1L249.0,409.6M246.5,413.9L249.0,415.3M246.5,419.5L246.5,422.4M246.5,419.5L249.0,418.1M246.5,422.4L249.0,423.8M246.5,428.0L246.5,430.9M246.5,428.0L249.0,426.6M246.5,430.9L249.0,432.3M246.5,436.5L246.5,439.3M246.5,436.5L249.0,435.1M246.5,439.3L249.0,440.8M246.5,445.0L246.5,447.8M246.5,445.0L249.0,443.6M246.5,447.8L249.0,449.2M249.0,245.6L249.0,248.4M249.0,245.6L251.4,244.1M249.0,248.4L251.4,249.8M249.0,254.0L249.0,256.9M249.0,254.0L251.4,252.6M249.0,256.9L251.4,258.3M249.0,262.5L249.0,265.4M249.0,262.5L251.4,261.1M249.0,265.4L251.4,266.8M249.0,271.0L249.0,273.8M249.0,271.0L251.4,269.6M249.0,273.8L251.4,275.3M249.0,279.5L249.0,282.3M249.0,279.5L251.4,278.1M249.0,282.3L251.4,283.8M249.0,288.0L249.0,290.8M249.0,288.0L251.4,286.6M249.0,290.8L251.4,292.2M249.0,296.5L249.0,299.3M249.0,296.5L251.4,295.1M249.0,299.3L251.4,300.7M249.0,305.0L249.0,307.8M249.0,305.0L251.4,303.6M249.0,307.8L251.4,309.2M249.0,313.5L249.0,316.3M249.0,313.5L251.4,312.0M249.0,316.3L251.4,317.7M249.0,321.9L249.0,324.8M249.0,321.9L251.4,320.5M249.0,324.8L251.4,326.2M249.0,330.4L249.0,333.3M249.0,330.4L251.4,329.0M249.0,333.3L251.4,334.7M249.0,338.9L249.0,341.7M249.0,338.9L251.4,337.5M249.0,341.7L251.4,343.2M249.0,347.4L249.0,350.2M249.0,347.4L251.4,346.0M249.0,350.2L251.4,351.6M249.0,355.9L249.0,358.7M249.0,355.9L251.4,354.5M249.0,358.7L251.4,360.1M249.0,364.4L249.0,367.2M249.0,364.4L251.4,363.0M249.0,367.2L251.4,368.6M249.0,372.9L249.0,375.7M249.0,372.9L251.4,371.5M249.0,375.7L251.4,377.1M249.0,381.4L249.0,384.2M249.0,381.4L251.4,379.9M249.0,384.2L251.4,385.6M249.0,389.8L249.0,392.7M249.0,389.8L251.4,388.4M249.0,392.7L251.4,394.1M249.0,398.3L249.0,401.2M249.0,398.3L251.4,396.9M249.0,401.2L251.4,402.6M249.0,406.8L249.0,409.6M249.0,406.8L251.4,405.4M249.0,409.6L251.4,411.1M249.0,415.3L249.0,418.1M249.0,415.3L251.4,413.9M249.0,418.1L251.4,419.5M249.0,423.8L249.0,426.6M249.0,423.8L251.4,422.4M249.0,426.6L251.4,428.0M249.0,432.3L249.0,435.1M249.0,432.3L251.4,430.9M249.0,435.1L251.4,436.5M249.0,440.8L249.0,443.6M249.0,440.8L251.4,439.3M249.0,443.6L251.4,445.0M249.0,449.2L251.4,447.8M251.4,244.1L253.9,245.6M251.4,249.8L251.4,252.6M251.4,249.8L253.9,248.4M251.4,252.6L253.9,254.0M251.4,258.3L251.4,261.1M251.4,258.3L253.9,256.9M251.4,261.1L253.9,262.5M251.4,266.8L251.4,269.6M251.4,266.8L253.9,265.4M251.4,269.6L253.9,271.0M251.4,275.3L251.4,278.1M251.4,275.3L253.9,273.8M251.4,278.1L253.9,279.5M251.4,283.8L251.4,286.6M251.4,283.8L253.9,282.3M251.4,286.6L253.9,288.0M251.4,292.2L251.4,295.1M251.4,292.2L253.9,290.8M251.4,295.1L253.9,296.5M251.4,300.7L251.4,303.6M251.4,300.7L253.9,299.3M251.4,303.6L253.9,305.0M251.4,309.2L251.4,312.0M251.4,309.2L253.9,307.8M251.4,312.0L253.9,313.5M251.4,317.7L251.4,320.5M251.4,317.7L253.9,316.3M251.4,320.5L253.9,321.9M251.4,326.2L251.4,329.0M251.4,326.2L253.9,324.8M251.4,329.0L253.9,330.4M251.4,334.7L251.4,337.5M251.4,334.7L253.9,333.3M251.4,337.5L253.9,338.9M251.4,343.2L251.4,346.0M251.4,343.2L253.9,341.7M251.4,346.0L253.9,347.4M251.4,351.6L251.4,354.5M251.4,351.6L253.9,350.2M251.4,354.5L253.9,355.9M251.4,360.1L251.4,363.0M251.4,360.1L253.9,358.7M251.4,363.0L253.9,364.4M251.4,368.6L251.4,371.5M251.4,368.6L253.9,367.2M251.4,371.5L253.9,372.9M251.4,377.1L251.4,379.9M251.4,377.1L253.9,375.7M251.4,379.9L253.9,381.4M251.4,385.6L251.4,388.4M251.4,385.6L253.9,384.2M251.4,388.4L253.9,389.8M251.4,394.1L251.4,396.9M251.4,394.1L253.9,392.7M251.4,396.9L253.9,398.3M251.4,402.6L251.4,405.4M251.4,402.6L253.9,401.2M251.4,405.4L253.9,406.8M251.4,411.1L251.4,413.9M251.4,411.1L253.9,409.6M251.4,413.9L253.9,415.3M251.4,419.5L251.4,422.4M251.4,419.5L253.9,418.1M251.4,422.4L253.9,423.8M251.4,428.0L251.4,430.9M251.4,428.0L253.9,426.6M251.4,430.9L253.9,432.3M251.4,436.5L251.4,439.3M251.4,436.5L253.9,435.1M251.4,439.3L253.9,440.8M251.4,445.0L251.4,447.8M251.4,445.0L253.9,443.6M251.4,447.8L253.9,449.2M253.9,245.6L253.9,248.4M253.9,245.6L256.3,244.1M253.9,248.4L256.3,249.8M253.9,254.0L253.9,256.9M253.9,254.0L256.3,252.6M253.9,256.9L256.3,258.3M253.9,262.5L253.9,265.4M253.9,262.5L256.3,261.1M253.9,265.4L256.3,266.8M253.9,271.0L253.9,273.8M253.9,271.0L256.3,269.6M253.9,273.8L256.3,275.3M253.9,279.5L253.9,282.3M253.9,279.5L256.3,278.1M253.9,282.3L256.3,283.8M253.9,288.0L253.9,290.8M253.9,288.0L256.3,286.6M253.9,290.8L256.3,292.2M253.9,296.5L253.9,299.3M253.9,296.5L256.3,295.1M253.9,299.3L256.3,300.7M253.9,305.0L253.9,307.8M253.9,305.0L256.3,303.6M253.9,307.8L256.3,309.2M253.9,313.5L253.9,316.3M253.9,313.5L256.3,312.0M253.9,316.3L256.3,317.7M253.9,321.9L253.9,324.8M253.9,321.9L256.3,320.5M253.9,324.8L256.3,326.2M253.9,330.4L253.9,333.3M253.9,330.4L256.3,329.0M253.9,333.3L256.3,334.7M253.9,338.9L253.9,341.7M253.9,338.9L256.3,337.5M253.9,341.7L256.3,343.2M253.9,347.4L253.9,350.2M253.9,347.4L256.3,346.0M253.9,350.2L256.3,351.6M253.9,355.9L253.9,358.7M253.9,355.9L256.3,354.5M253.9,358.7L256.3,360.1M253.9,364.4L253.9,367.2M253.9,364.4L256.3,363.0M253.9,367.2L256.3,368.6M253.9,372.9L253.9,375.7M253.9,372.9L256.3,371.5M253.9,375.7L256.3,377.1M253.9,381.4L253.9,384.2M253.9,381.4L256.3,379.9M253.9,384.2L256.3,385.6M253.9,389.8L253.9,392.7M253.9,389.8L256.3,388.4M253.9,392.7L256.3,394.1M253.9,398.3L253.9,401.2M253.9,398.3L256.3,396.9M253.9,401.2L256.3,402.6M253.9,406.8L253.9,409.6M253.9,406.8L256.3,405.4M253.9,409.6L256.3,411.1M253.9,415.3L253.9,418.1M253.9,415.3L256.3,413.9M253.9,418.1L256.3,419.5M253.9,423.8L253.9,426.6M253.9,423.8L256.3,422.4M253.9,426.6L256.3,428.0M253.9,432.3L253.9,435.1M253.9,432.3L256.3,430.9M253.9,435.1L256.3,436.5M253.9,440.8L253.9,443.6M253.9,440.8L256.3,439.3M253.9,443.6L256.3,445.0M253.9,449.2L256.3,447.8M256.3,241.3L256.3,244.1M256.3,241.3L258.8,239.9M256.3,244.1L258.8,245.6M256.3,249.8L256.3,252.6M256.3,249.8L258.8,248.4M256.3,252.6L258.8,254.0M256.3,258.3L256.3,261.1M256.3,258.3L258.8,256.9M256.3,261.1L258.8,262.5M256.3,266.8L256.3,269.6M256.3,266.8L258.8,265.4M256.3,269.6L258.8,271.0M256.3,275.3L256.3,278.1M256.3,275.3L258.8,273.8M256.3,278.1L258.8,279.5M256.3,283.8L256.3,286.6M256.3,283.8L258.8,282.3M256.3,286.6L258.8,288.0M256.3,292.2L256.3,295.1M256.3,292.2L258.8,290.8M256.3,295.1L258.8,296.5M256.3,300.7L256.3,303.6M256.3,300.7L258.8,299.3M256.3,303.6L258.8,305.0M256.3,309.2L256.3,312.0M256.3,309.2L258.8,307.8M256.3,312.0L258.8,313.5M256.3,317.7L256.3,320.5M256.3,317.7L258.8,316.3M256.3,320.5L258.8,321.9M256.3,326.2L256.3,329.0M256.3,326.2L258.8,324.8M256.3,329.0L258.8,330.4M256.3,334.7L256.3,337.5M256.3,334.7L258.8,333.3M256.3,337.5L258.8,338.9M256.3,343.2L256.3,346.0M256.3,343.2L258.8,341.7M256.3,346.0L258.8,347.4M256.3,351.6L256.3,354.5M256.3,351.6L258.8,350.2M256.3,354.5L258.8,355.9M256.3,360.1L256.3,363.0M256.3,360.1L258.8,358.7M256.3,363.0L258.8,364.4M256.3,368.6L256.3,371.5M256.3,368.6L258.8,367.2M256.3,371.5L258.8,372.9M256.3,377.1L256.3,379.9M256.3,377.1L258.8,375.7M256.3,379.9L258.8,381.4M256.3,385.6L256.3,388.4M256.3,385.6L258.8,384.2M256.3,388.4L258.8,389.8M256.3,394.1L256.3,396.9M256.3,394.1L258.8,392.7M256.3,396.9L258.8,398.3M256.3,402.6L256.3,405.4M256.3,402.6L258.8,401.2M256.3,405.4L258.8,406.8M256.3,411.1L256.3,413.9M256.3,411.1L258.8,409.6M256.3,413.9L258.8,415.3M256.3,419.5L256.3,422.4M256.3,419.5L258.8,418.1M256.3,422.4L258.8,423.8M256.3,428.0L256.3,430.9M256.3,428.0L258.8,426.6M256.3,430.9L258.8,432.3M256.3,436.5L256.3,439.3M256.3,436.5L258.8,435.1M256.3,439.3L258.8,440.8M256.3,445.0L256.3,447.8M256.3,445.0L258.8,443.6M258.8,239.9L261.2,241.3M258.8,245.6L258.8,248.4M258.8,245.6L261.2,244.1M258.8,248.4L261.2,249.8M258.8,254.0L258.8,256.9M258.8,254.0L261.2,252.6M258.8,256.9L261.2,258.3M258.8,262.5L258.8,265.4M258.8,262.5L261.2,261.1M258.8,265.4L261.2,266.8M258.8,271.0L258.8,273.8M258.8,271.0L261.2,269.6M258.8,279.5L258.8,282.3M258.8,288.0L258.8,290.8M258.8,296.5L258.8,299.3M258.8,305.0L258.8,307.8M258.8,313.5L258.8,316.3M258.8,321.9L258.8,324.8M258.8,330.4L258.8,333.3M258.8,338.9L258.8,341.7M258.8,347.4L258.8,350.2M258.8,355.9L258.8,358.7M258.8,364.4L258.8,367.2M258.8,372.9L258.8,375.7M258.8,381.4L258.8,384.2M258.8,389.8L258.8,392.7M258.8,398.3L258.8,401.2M258.8,406.8L258.8,409.6M258.8,415.3L258.8,418.1M258.8,423.8L258.8,426.6M258.8,432.3L258.8,435.1M258.8,440.8L258.8,443.6M261.2,241.3L261.2,244.1M261.2,241.3L263.6,239.9M261.2,244.1L263.6,245.6M261.2,249.8L261.2,252.6M261.2,249.8L263.6,248.4M261.2,252.6L263.6,254.0M261.2,258.3L261.2,261.1M261.2,258.3L263.6,256.9M261.2,261.1L263.6,262.5M261.2,266.8L261.2,269.6M261.2,266.8L263.6,265.4M261.2,269.6L263.6,271.0M263.6,239.9L266.1,241.3M263.6,245.6L263.6,248.4M263.6,245.6L266.1,244.1M263.6,248.4L266.1,249.8M263.6,254.0L263.6,256.9M263.6,254.0L266.1,252.6M263.6,256.9L266.1,258.3M263.6,262.5L263.6,265.4M263.6,262.5L266.1,261.1M263.6,265.4L266.1,266.8M263.6,271.0L266.1,269.6M266.1,241.3L266.1,244.1M266.1,241.3L268.5,239.9M266.1,244.1L268.5,245.6M266.1,249.8L266.1,252.6M266.1,249.8L268.5,248.4M266.1,252.6L268.5,254.0M266.1,258.3L266.1,261.1M266.1,258.3L268.5,256.9M266.1,261.1L268.5,262.5M266.1,266.8L266.1,269.6M266.1,266.8L268.5,265.4M266.1,269.6L268.5,271.0M268.5,237.1L268.5,239.9M268.5,237.1L271.0,235.7M268.5,239.9L271.0,241.3M268.5,245.6L268.5,248.4M268.5,245.6L271.0,244.1M268.5,248.4L271.0,249.8M268.5,254.0L268.5,256.9M268.5,254.0L271.0,252.6M268.5,256.9L271.0,258.3M268.5,262.5L268.5,265.4M268.5,262.5L271.0,261.1M268.5,265.4L271.0,266.8M268.5,271.0L271.0,269.6M271.0,235.7L273.4,237.1M271.0,241.3L271.0,244.1M271.0,241.3L273.4,239.9M271.0,244.1L273.4,245.6M271.0,249.8L271.0,252.6M271.0,249.8L273.4,248.4M271.0,252.6L273.4,254.0M271.0,258.3L271.0,261.1M271.0,258.3L273.4,256.9M271.0,261.1L273.4,262.5M271.0,266.8L271.0,269.6M271.0,266.8L273.4,265.4M271.0,269.6L273.4,271.0M273.4,237.1L273.4,239.9M273.4,237.1L275.9,235.7M273.4,239.9L275.9,241.3M273.4,245.6L273.4,248.4M273.4,245.6L275.9,244.1M273.4,248.4L275.9,249.8M273.4,254.0L273.4,256.9M273.4,254.0L275.9,252.6M273.4,256.9L275.9,258.3M273.4,262.5L273.4,265.4M273.4,262.5L275.9,261.1M273.4,265.4L275.9,266.8M273.4,271.0L275.9,269.6M275.9,235.7L278.3,237.1M275.9,241.3L275.9,244.1M275.9,241.3L278.3,239.9M275.9,244.1L278.3,245.6M275.9,249.8L275.9,252.6M275.9,249.8L278.3,248.4M275.9,252.6L278.3,254.0M275.9,258.3L275.9,261.1M275.9,258.3L278.3,256.9M275.9,261.1L278.3,262.5M275.9,266.8L275.9,269.6M275.9,266.8L278.3,265.4M278.3,237.1L278.3,239.9M278.3,237.1L280.8,235.7M278.3,239.9L280.8,241.3M278.3,245.6L278.3,248.4M278.3,245.6L280.8,244.1M278.3,248.4L280.8,249.8M278.3,254.0L278.3,256.9M278.3,254.0L280.8,252.6M278.3,256.9L280.8,258.3M278.3,262.5L278.3,265.4M278.3,262.5L280.8,261.1M278.3,265.4L280.8,266.8M280.8,235.7L283.2,237.1M280.8,241.3L280.8,244.1M280.8,241.3L283.2,239.9M280.8,244.1L283.2,245.6M280.8,249.8L280.8,252.6M280.8,249.8L283.2,248.4M280.8,252.6L283.2,254.0M280.8,258.3L280.8,261.1M280.8,258.3L283.2,256.9M280.8,261.1L283.2,262.5M280.8,266.8L283.2,265.4M283.2,237.1L283.2,239.9M283.2,237.1L285.7,235.7M283.2,239.9L285.7,241.3M283.2,245.6L283.2,248.4M283.2,245.6L285.7,244.1M283.2,248.4L285.7,249.8M283.2,254.0L283.2,256.9M283.2,254.0L285.7,252.6M283.2,256.9L285.7,258.3M283.2,262.5L283.2,265.4M283.2,262.5L285.7,261.1M283.2,265.4L285.7,266.8M285.7,235.7L288.1,237.1M285.7,241.3L285.7,244.1M285.7,241.3L288.1,239.9M285.7,244.1L288.1,245.6M285.7,249.8L285.7,252.6M285.7,249.8L288.1,248.4M285.7,252.6L288.1,254.0M285.7,258.3L285.7,261.1M285.7,258.3L288.1,256.9M285.7,261.1L288.1,262.5M285.7,266.8L288.1,265.4M288.1,237.1L288.1,239.9M288.1,237.1L290.6,235.7M288.1,239.9L290.6,241.3M288.1,245.6L288.1,248.4M288.1,245.6L290.6,244.1M288.1,248.4L290.6,249.8M288.1,254.0L288.1,256.9M288.1,254.0L290.6,252.6M288.1,256.9L290.6,258.3M288.1,262.5L288.1,265.4M288.1,262.5L290.6,261.1M288.1,265.4L290.6,266.8M290.6,235.7L293.0,237.1M290.6,241.3L290.6,244.1M290.6,241.3L293.0,239.9M290.6,244.1L293.0,245.6M290.6,249.8L290.6,252.6M290.6,249.8L293.0,248.4M290.6,252.6L293.0,254.0M290.6,258.3L290.6,261.1M290.6,258.3L293.0,256.9M290.6,261.1L293.0,262.5M290.6,266.8L293.0,265.4M293.0,237.1L293.0,239.9M293.0,237.1L295.5,235.7M293.0,239.9L295.5,241.3M293.0,245.6L293.0,248.4M293.0,245.6L295.5,244.1M293.0,248.4L295.5,249.8M293.0,254.0L293.0,256.9M293.0,254.0L295.5,252.6M293.0,256.9L295.5,258.3M293.0,262.5L293.0,265.4M293.0,262.5L295.5,261.1M295.5,235.7L297.9,237.1M295.5,241.3L295.5,244.1M295.5,241.3L297.9,239.9M295.5,244.1L297.9,245.6M295.5,249.8L295.5,252.6M295.5,249.8L297.9,248.4M295.5,252.6L297.9,254.0M295.5,258.3L295.5,261.1M295.5,258.3L297.9,256.9M295.5,261.1L297.9,262.5M297.9,237.1L297.9,239.9M297.9,237.1L300.4,235.7M297.9,239.9L300.4,241.3M297.9,245.6L297.9,248.4M297.9,245.6L300.4,244.1M297.9,248.4L300.4,249.8M297.9,254.0L297.9,256.9M297.9,254.0L300.4,252.6M297.9,256.9L300.4,258.3M297.9,262.5L300.4,261.1M300.4,235.7L302.8,237.1M300.4,241.3L300.4,244.1M300.4,241.3L302.8,239.9M300.4,244.1L302.8,245.6M300.4,249.8L300.4,252.6M300.4,249.8L302.8,248.4M300.4,252.6L302.8,254.0M300.4,258.3L300.4,261.1M300.4,258.3L302.8,256.9M300.4,261.1L302.8,262.5M302.8,237.1L302.8,239.9M302.8,237.1L305.3,235.7M302.8,239.9L305.3,241.3M302.8,245.6L302.8,248.4M302.8,245.6L305.3,244.1M302.8,248.4L305.3,249.8M302.8,254.0L302.8,256.9M302.8,254.0L305.3,252.6M302.8,256.9L305.3,258.3M302.8,262.5L305.3,261.1M305.3,235.7L307.7,237.1M305.3,241.3L305.3,244.1M305.3,241.3L307.7,239.9M305.3,244.1L307.7,245.6M305.3,249.8L305.3,252.6M305.3,249.8L307.7,248.4M305.3,252.6L307.7,254.0M305.3,258.3L305.3,261.1M305.3,258.3L307.7,256.9M305.3,261.1L307.7,262.5M307.7,237.1L307.7,239.9M307.7,237.1L310.2,235.7M307.7,239.9L310.2,241.3M307.7,245.6L307.7,248.4M307.7,245.6L310.2,244.1M307.7,248.4L310.2,249.8M307.7,254.0L307.7,256.9M307.7,254.0L310.2,252.6M307.7,256.9L310.2,258.3M307.7,262.5L307.7,265.4M307.7,262.5L310.2,261.1M307.7,265.4L310.2,266.8M310.2,235.7L312.6,237.1M310.2,241.3L310.2,244.1M310.2,241.3L312.6,239.9M310.2,244.1L312.6,245.6M310.2,249.8L310.2,252.6M310.2,249.8L312.6,248.4M310.2,252.6L312.6,254.0M310.2,258.3L310.2,261.1M310.2,258.3L312.6,256.9M310.2,261.1L312.6,262.5M310.2,266.8L312.6,265.4M312.6,237.1L312.6,239.9M312.6,237.1L315.1,235.7M312.6,239.9L315.1,241.3M312.6,245.6L312.6,248.4M312.6,245.6L315.1,244.1M312.6,248.4L315.1,249.8M312.6,254.0L312.6,256.9M312.6,254.0L315.1,252.6M312.6,256.9L315.1,258.3M312.6,262.5L312.6,265.4M312.6,262.5L315.1,261.1M312.6,265.4L315.1,266.8M315.1,235.7L317.5,237.1M315.1,241.3L315.1,244.1M315.1,241.3L317.5,239.9M315.1,244.1L317.5,245.6M315.1,249.8L315.1,252.6M315.1,249.8L317.5,248.4M315.1,252.6L317.5,254.0M315.1,258.3L315.1,261.1M315.1,258.3L317.5,256.9M315.1,261.1L317.5,262.5M315.1,266.8L317.5,265.4M317.5,237.1L317.5,239.9M317.5,239.9L320.0,241.3M317.5,245.6L317.5,248.4M317.5,245.6L320.0,244.1M317.5,248.4L320.0,249.8M317.5,254.0L317.5,256.9M317.5,254.0L320.0,252.6M317.5,256.9L320.0,258.3M317.5,262.5L317.5,265.4M317.5,262.5L320.0,261.1M317.5,265.4L320.0,266.8M320.0,241.3L320.0,244.1M320.0,241.3L322.4,239.9M320.0,244.1L322.4,245.6M320.0,249.8L320.0,252.6M320.0,249.8L322.4,248.4M320.0,252.6L322.4,254.0M320.0,258.3L320.0,261.1M320.0,258.3L322.4,256.9M320.0,261.1L322.4,262.5M320.0,266.8L320.0,269.6M320.0,266.8L322.4,265.4M320.0,269.6L322.4,271.0M322.4,239.9L324.9,241.3M322.4,245.6L322.4,248.4M322.4,245.6L324.9,244.1M322.4,248.4L324.9,249.8M322.4,254.0L322.4,256.9M322.4,254.0L324.9,252.6M322.4,256.9L324.9,258.3M322.4,262.5L322.4,265.4M322.4,262.5L324.9,261.1M322.4,265.4L324.9,266.8M322.4,271.0L324.9,269.6M324.9,241.3L324.9,244.1M324.9,241.3L327.3,239.9M324.9,244.1L327.3,245.6M324.9,249.8L324.9,252.6M324.9,249.8L327.3,248.4M324.9,252.6L327.3,254.0M324.9,258.3L324.9,261.1M324.9,258.3L327.3,256.9M324.9,261.1L327.3,262.5M324.9,266.8L324.9,269.6M324.9,266.8L327.3,265.4M324.9,269.6L327.3,271.0M327.3,239.9L329.8,241.3M327.3,245.6L327.3,248.4M327.3,245.6L329.8,244.1M327.3,248.4L329.8,249.8M327.3,254.0L327.3,256.9M327.3,254.0L329.8,252.6M327.3,256.9L329.8,258.3M327.3,262.5L327.3,265.4M327.3,262.5L329.8,261.1M327.3,265.4L329.8,266.8M327.3,271.0L329.8,269.6M329.8,241.3L329.8,244.1M329.8,244.1L332.2,245.6M329.8,249.8L329.8,252.6M329.8,249.8L332.2,248.4M329.8,252.6L332.2,254.0M329.8,258.3L329.8,261.1M329.8,258.3L332.2,256.9M329.8,261.1L332.2,262.5M329.8,266.8L329.8,269.6M329.8,266.8L332.2,265.4M329.8,269.6L332.2,271.0M332.2,245.6L332.2,248.4M332.2,245.6L334.7,244.1M332.2,248.4L334.7,249.8M332.2,254.0L332.2,256.9M332.2,254.0L334.7,252.6M332.2,256.9L334.7,258.3M332.2,262.5L332.2,265.4M332.2,262.5L334.7,261.1M332.2,265.4L334.7,266.8M332.2,271.0L334.7,269.6M334.7,244.1L337.1,245.6M334.7,249.8L334.7,252.6M334.7,249.8L337.1,248.4M334.7,252.6L337.1,254.0M334.7,258.3L334.7,261.1M334.7,258.3L337.1,256.9M334.7,261.1L337.1,262.5M334.7,266.8L334.7,269.6M334.7,266.8L337.1,265.4M334.7,269.6L337.1,271.0M337.1,245.6L337.1,248.4M337.1,245.6L339.6,244.1M337.1,248.4L339.6,249.8M337.1,254.0L337.1,256.9M337.1,254.0L339.6,252.6M337.1,256.9L339.6,258.3M337.1,262.5L337.1,265.4M337.1,262.5L339.6,261.1M337.1,265.4L339.6,266.8M337.1,271.0L337.1,273.8M337.1,271.0L339.6,269.6M337.1,273.8L339.6,275.3M339.6,244.1L342.0,245.6M339.6,249.8L339.6,252.6M339.6,249.8L342.0,248.4M339.6,252.6L342.0,254.0M339.6,258.3L339.6,261.1M339.6,258.3L342.0,256.9M339.6,261.1L342.0,262.5M339.6,266.8L339.6,269.6M339.6,266.8L342.0,265.4M339.6,269.6L342.0,271.0M339.6,275.3L342.0,273.8M342.0,245.6L342.0,248.4M342.0,248.4L344.5,249.8M342.0,254.0L342.0,256.9M342.0,254.0L344.5,252.6M342.0,256.9L344.5,258.3M342.0,262.5L342.0,265.4M342.0,262.5L344.5,261.1M342.0,265.4L344.5,266.8M342.0,271.0L342.0,273.8M342.0,271.0L344.5,269.6M342.0,273.8L344.5,275.3M344.5,249.8L344.5,252.6M344.5,249.8L346.9,248.4M344.5,252.6L346.9,254.0M344.5,258.3L344.5,261.1M344.5,258.3L346.9,256.9M344.5,261.1L346.9,262.5M344.5,266.8L344.5,269.6M344.5,266.8L346.9,265.4M344.5,269.6L346.9,271.0M344.5,275.3L346.9,273.8M346.9,248.4L349.4,249.8M346.9,254.0L346.9,256.9M346.9,254.0L349.4,252.6M346.9,256.9L349.4,258.3M346.9,262.5L346.9,265.4M346.9,262.5L349.4,261.1M346.9,265.4L349.4,266.8M346.9,271.0L346.9,273.8M346.9,271.0L349.4,269.6M346.9,273.8L349.4,275.3M349.4,249.8L349.4,252.6M349.4,252.6L351.8,254.0M349.4,258.3L349.4,261.1M349.4,258.3L351.8,256.9M349.4,261.1L351.8,262.5M349.4,266.8L349.4,269.6M349.4,266.8L351.8,265.4M349.4,269.6L351.8,271.0M349.4,275.3L351.8,273.8M351.8,254.0L351.8,256.9M351.8,254.0L354.3,252.6M351.8,256.9L354.3,258.3M351.8,262.5L351.8,265.4M351.8,262.5L354.3,261.1M351.8,265.4L354.3,266.8M351.8,271.0L351.8,273.8M351.8,271.0L354.3,269.6M351.8,273.8L354.3,275.3M354.3,252.6L356.7,254.0M354.3,258.3L354.3,261.1M354.3,258.3L356.7,256.9M354.3,261.1L356.7,262.5M354.3,266.8L354.3,269.6M354.3,266.8L356.7,265.4M354.3,269.6L356.7,271.0M354.3,275.3L354.3,278.1M354.3,275.3L356.7,273.8M354.3,278.1L356.7,279.5M356.7,254.0L356.7,256.9M356.7,254.0L359.2,252.6M356.7,256.9L359.2,258.3M356.7,262.5L356.7,265.4M356.7,262.5L359.2,261.1M356.7,265.4L359.2,266.8M356.7,271.0L356.7,273.8M356.7,271.0L359.2,269.6M356.7,273.8L359.2,275.3M356.7,279.5L359.2,278.1M359.2,252.6L361.6,254.0M359.2,258.3L359.2,261.1M359.2,258.3L361.6,256.9M359.2,261.1L361.6,262.5M359.2,266.8L359.2,269.6M359.2,266.8L361.6,265.4M359.2,269.6L361.6,271.0M359.2,275.3L359.2,278.1M359.2,275.3L361.6,273.8M359.2,278.1L361.6,279.5M361.6,254.0L361.6,256.9M361.6,256.9L364.1,258.3M361.6,262.5L361.6,265.4M361.6,262.5L364.1,261.1M361.6,265.4L364.1,266.8M361.6,271.0L361.6,273.8M361.6,271.0L364.1,269.6M361.6,273.8L364.1,275.3M361.6,279.5L364.1,278.1M364.1,258.3L364.1,261.1M364.1,258.3L366.5,256.9M364.1,261.1L366.5,262.5M364.1,266.8L364.1,269.6M364.1,266.8L366.5,265.4M364.1,269.6L366.5,271.0M364.1,275.3L364.1,278.1M364.1,275.3L366.5,273.8M364.1,278.1L366.5,279.5M366.5,256.9L369.0,258.3M366.5,262.5L366.5,265.4M366.5,262.5L369.0,261.1M366.5,265.4L369.0,266.8M366.5,271.0L366.5,273.8M366.5,271.0L369.0,269.6M366.5,273.8L369.0,275.3M366.5,279.5L366.5,282.3M366.5,279.5L369.0,278.1M366.5,282.3L369.0,283.8M369.0,258.3L369.0,261.1M369.0,258.3L371.4,256.9M369.0,261.1L371.4,262.5M369.0,266.8L369.0,269.6M369.0,266.8L371.4,265.4M369.0,269.6L371.4,271.0M369.0,275.3L369.0,278.1M369.0,275.3L371.4,273.8M369.0,278.1L371.4,279.5M369.0,283.8L371.4,282.3M371.4,256.9L373.9,258.3M371.4,262.5L371.4,265.4M371.4,262.5L373.9,261.1M371.4,265.4L373.9,266.8M371.4,271.0L371.4,273.8M371.4,271.0L373.9,269.6M371.4,273.8L373.9,275.3M371.4,279.5L371.4,282.3M371.4,279.5L373.9,278.1M371.4,282.3L373.9,283.8M373.9,258.3L373.9,261.1M373.9,261.1L376.3,262.5M373.9,266.8L373.9,269.6M373.9,266.8L376.3,265.4M373.9,269.6L376.3,271.0M373.9,275.3L373.9,278.1M373.9,275.3L376.3,273.8M373.9,278.1L376.3,279.5M373.9,283.8L376.3,282.3M376.3,262.5L376.3,265.4M376.3,262.5L378.8,261.1M376.3,265.4L378.8,266.8M376.3,271.0L376.3,273.8M376.3,271.0L378.8,269.6M376.3,273.8L378.8,275.3M376.3,279.5L376.3,282.3M376.3,279.5L378.8,278.1M376.3,282.3L378.8,283.8M378.8,261.1L381.2,262.5M378.8,266.8L378.8,269.6M378.8,266.8L381.2,265.4M378.8,269.6L381.2,271.0M378.8,275.3L378.8,278.1M378.8,275.3L381.2,273.8M378.8,278.1L381.2,279.5M378.8,283.8L381.2,282.3M381.2,262.5L381.2,265.4M381.2,262.5L383.7,261.1M381.2,265.4L383.7,266.8M381.2,271.0L381.2,273.8M381.2,271.0L383.7,269.6M381.2,273.8L383.7,275.3M381.2,279.5L381.2,282.3M381.2,279.5L383.7,278.1M381.2,282.3L383.7,283.8M383.7,261.1L386.1,262.5M383.7,266.8L383.7,269.6M383.7,266.8L386.1,265.4M383.7,269.6L386.1,271.0M383.7,275.3L383.7,278.1M383.7,275.3L386.1,273.8M383.7,278.1L386.1,279.5M383.7,283.8L383.7,286.6M383.7,283.8L386.1,282.3M383.7,286.6L386.1,288.0M386.1,262.5L386.1,265.4M386.1,262.5L388.6,261.1M386.1,265.4L388.6,266.8M386.1,271.0L386.1,273.8M386.1,271.0L388.6,269.6M386.1,273.8L388.6,275.3M386.1,279.5L386.1,282.3M386.1,279.5L388.6,278.1M386.1,282.3L388.6,283.8M386.1,288.0L388.6,286.6M388.6,261.1L391.0,262.5M388.6,266.8L388.6,269.6M388.6,266.8L391.0,265.4M388.6,269.6L391.0,271.0M388.6,275.3L388.6,278.1M388.6,275.3L391.0,273.8M388.6,278.1L391.0,279.5M388.6,283.8L388.6,286.6M388.6,283.8L391.0,282.3M388.6,286.6L391.0,288.0M391.0,262.5L391.0,265.4M391.0,265.4L393.5,266.8M391.0,271.0L391.0,273.8M391.0,271.0L393.5,269.6M391.0,273.8L393.5,275.3M391.0,279.5L391.0,282.3M391.0,279.5L393.5,278.1M391.0,282.3L393.5,283.8M391.0,288.0L393.5,286.6M393.5,266.8L393.5,269.6M393.5,266.8L395.9,265.4M393.5,269.6L395.9,271.0M393.5,275.3L393.5,278.1M393.5,275.3L395.9,273.8M393.5,278.1L395.9,279.5M393.5,283.8L393.5,286.6M393.5,283.8L395.9,282.3M393.5,286.6L395.9,288.0M395.9,265.4L398.4,266.8M395.9,271.0L395.9,273.8M395.9,271.0L398.4,269.6M395.9,273.8L398.4,275.3M395.9,279.5L395.9,282.3M395.9,279.5L398.4,278.1M395.9,282.3L398.4,283.8M395.9,288.0L395.9,290.8M395.9,288.0L398.4,286.6M395.9,290.8L398.4,292.2M398.4,266.8L398.4,269.6M398.4,269.6L400.8,271.0M398.4,275.3L398.4,278.1M398.4,275.3L400.8,273.8M398.4,278.1L400.8,279.5M398.4,283.8L398.4,286.6M398.4,283.8L400.8,282.3M398.4,286.6L400.8,288.0M398.4,292.2L400.8,290.8M400.8,271.0L400.8,273.8M400.8,271.0L403.3,269.6M400.8,273.8L403.3,275.3M400.8,279.5L400.8,282.3M400.8,279.5L403.3,278.1M400.8,282.3L403.3,283.8M400.8,288.0L400.8,290.8M400.8,288.0L403.3,286.6M400.8,290.8L403.3,292.2M403.3,269.6L405.7,271.0M403.3,275.3L403.3,278.1M403.3,275.3L405.7,273.8M403.3,278.1L405.7,279.5M403.3,283.8L403.3,286.6M403.3,283.8L405.7,282.3M403.3,286.6L405.7,288.0M403.3,292.2L405.7,290.8M405.7,271.0L405.7,273.8M405.7,271.0L408.2,269.6M405.7,273.8L408.2,275.3M405.7,279.5L405.7,282.3M405.7,279.5L408.2,278.1M405.7,282.3L408.2,283.8M405.7,288.0L405.7,290.8M405.7,288.0L408.2,286.6M405.7,290.8L408.2,292.2M408.2,269.6L410.6,271.0M408.2,275.3L408.2,278.1M408.2,275.3L410.6,273.8M408.2,278.1L410.6,279.5M408.2,283.8L408.2,286.6M408.2,283.8L410.6,282.3M408.2,286.6L410.6,288.0M408.2,292.2L410.6,290.8M410.6,271.0L410.6,273.8M410.6,273.8L413.1,275.3M410.6,279.5L410.6,282.3M410.6,279.5L413.1,278.1M410.6,282.3L413.1,283.8M410.6,288.0L410.6,290.8M410.6,288.0L413.1,286.6M410.6,290.8L413.1,292.2M413.1,275.3L413.1,278.1M413.1,275.3L415.5,273.8M413.1,278.1L415.5,279.5M413.1,283.8L413.1,286.6M413.1,283.8L415.5,282.3M413.1,286.6L415.5,288.0M413.1,292.2L413.1,295.1M413.1,292.2L415.5,290.8M413.1,295.1L415.5,296.5M415.5,273.8L418.0,275.3M415.5,279.5L415.5,282.3M415.5,279.5L418.0,278.1M415.5,282.3L418.0,283.8M415.5,288.0L415.5,290.8M415.5,288.0L418.0,286.6M415.5,290.8L418.0,292.2M415.5,296.5L418.0,295.1M418.0,275.3L418.0,278.1M418.0,278.1L420.4,279.5M418.0,283.8L418.0,286.6M418.0,283.8L420.4,282.3M418.0,286.6L420.4,288.0M418.0,292.2L418.0,295.1M418.0,292.2L420.4,290.8M418.0,295.1L420.4,296.5M420.4,279.5L420.4,282.3M420.4,279.5L422.9,278.1M420.4,282.3L422.9,283.8M420.4,288.0L420.4,290.8M420.4,288.0L422.9,286.6M420.4,290.8L422.9,292.2M420.4,296.5L422.9,295.1M422.9,278.1L425.3,279.5M422.9,283.8L422.9,286.6M422.9,283.8L425.3,282.3M422.9,286.6L425.3,288.0M422.9,292.2L422.9,295.1M422.9,292.2L425.3,290.8M422.9,295.1L425.3,296.5M425.3,279.5L425.3,282.3M425.3,282.3L427.8,283.8M425.3,288.0L425.3,290.8M425.3,288.0L427.8,286.6M425.3,290.8L427.8,292.2M425.3,296.5L427.8,295.1M427.8,283.8L427.8,286.6M427.8,283.8L430.2,282.3M427.8,286.6L430.2,288.0M427.8,292.2L427.8,295.1M427.8,292.2L430.2,290.8M427.8,295.1L430.2,296.5M430.2,282.3L432.7,283.8M430.2,288.0L430.2,290.8M430.2,288.0L432.7,286.6M430.2,290.8L432.7,292.2M430.2,296.5L430.2,299.3M430.2,296.5L432.7,295.1M430.2,299.3L432.7,300.7M432.7,283.8L432.7,286.6M432.7,283.8L435.1,282.3M432.7,286.6L435.1,288.0M432.7,292.2L432.7,295.1M432.7,292.2L435.1,290.8M432.7,295.1L435.1,296.5M432.7,300.7L435.1,299.3M435.1,282.3L437.6,283.8M435.1,288.0L435.1,290.8M435.1,288.0L437.6,286.6M435.1,290.8L437.6,292.2M435.1,296.5L435.1,299.3M435.1,296.5L437.6,295.1M435.1,299.3L437.6,300.7M437.6,283.8L437.6,286.6M437.6,286.6L440.0,288.0M437.6,292.2L437.6,295.1M437.6,292.2L440.0,290.8M437.6,295.1L440.0,296.5M437.6,300.7L440.0,299.3M440.0,288.0L440.0,290.8M440.0,288.0L442.5,286.6M440.0,290.8L442.5,292.2M440.0,296.5L440.0,299.3M440.0,296.5L442.5,295.1M440.0,299.3L442.5,300.7M442.5,286.6L444.9,288.0M442.5,292.2L442.5,295.1M442.5,292.2L444.9,290.8M442.5,295.1L444.9,296.5M442.5,300.7L442.5,303.6M442.5,300.7L444.9,299.3M442.5,303.6L444.9,305.0M444.9,288.0L444.9,290.8M444.9,290.8L447.4,292.2M444.9,296.5L444.9,299.3M444.9,296.5L447.4,295.1M444.9,299.3L447.4,300.7M444.9,305.0L447.4,303.6M447.4,292.2L447.4,295.1M447.4,295.1L449.8,296.5M447.4,300.7L447.4,303.6M447.4,300.7L449.8,299.3M447.4,303.6L449.8,305.0M449.8,296.5L449.8,299.3M449.8,299.3L452.3,300.7M449.8,305.0L452.3,303.6M452.3,300.7L452.3,303.6" fill="none" stroke="#3a3131" stroke-width="0.75" stroke-linecap="round"/>
<polygon points="249.0,262.3 289.2,247.3 300.0,245.8 318.3,249.0 468.3,308.8 468.3,495.0 301.0,470.0 249.0,488.0" fill="#fff" stroke="none" stroke-width="0.0" stroke-linejoin="round" />
<clipPath id="cL"><polygon points="256.7,262.9 290.0,249.0 302.0,247.2 302.0,468.0 256.7,486.0"/></clipPath>
<g clip-path="url(#cL)">
<polygon points="256.7,262.9 290.0,249.0 302.0,247.2 302.0,468.0 256.7,486.0" fill="#fff"/>
<path d="M256.5,246V490M258.5,246V490M260.5,246V490M262.5,246V490M264.5,246V490M266.5,246V490M268.5,246V490M270.5,246V490M272.5,246V490M274.5,246V490M276.5,246V490M278.5,246V490M280.5,246V490M282.5,246V490M284.5,246V490M286.5,246V490M288.5,246V490M290.5,246V490M292.5,246V490M294.5,246V490M296.5,246V490M298.5,246V490M300.5,246V490M302.5,246V490" stroke="#3a3131" stroke-width="1.0" fill="none"/>
<path d="M256.5,222.2L302.5,202.4M256.5,224.2L302.5,204.4M256.5,226.2L302.5,206.4M256.5,228.2L302.5,208.4M256.5,230.2L302.5,210.4M256.5,232.2L302.5,212.4M256.5,234.2L302.5,214.4M256.5,236.2L302.5,216.4M256.5,238.2L302.5,218.4M256.5,240.2L302.5,220.4M256.5,242.2L302.5,222.4M256.5,244.2L302.5,224.4M256.5,246.2L302.5,226.4M256.5,248.2L302.5,228.4M256.5,250.2L302.5,230.4M256.5,252.2L302.5,232.4M256.5,254.2L302.5,234.4M256.5,256.2L302.5,236.4M256.5,258.2L302.5,238.4M256.5,260.2L302.5,240.4M256.5,262.2L302.5,242.4M256.5,264.2L302.5,244.4M256.5,266.2L302.5,246.4M256.5,268.2L302.5,248.4M256.5,270.2L302.5,250.4M256.5,272.2L302.5,252.4M256.5,274.2L302.5,254.4M256.5,276.2L302.5,256.4M256.5,278.2L302.5,258.4M256.5,280.2L302.5,260.4M256.5,282.2L302.5,262.4M256.5,284.2L302.5,264.4M256.5,286.2L302.5,266.4M256.5,288.2L302.5,268.4M256.5,290.2L302.5,270.4M256.5,292.2L302.5,272.4M256.5,294.2L302.5,274.4M256.5,296.2L302.5,276.4M256.5,298.2L302.5,278.4M256.5,300.2L302.5,280.4M256.5,302.2L302.5,282.4M256.5,304.2L302.5,284.4M256.5,306.2L302.5,286.4M256.5,308.2L302.5,288.4M256.5,310.2L302.5,290.4M256.5,312.2L302.5,292.4M256.5,314.2L302.5,294.4M256.5,316.2L302.5,296.4M256.5,318.2L302.5,298.4M256.5,320.2L302.5,300.4M256.5,322.2L302.5,302.4M256.5,324.2L302.5,304.4M256.5,326.2L302.5,306.4M256.5,328.2L302.5,308.4M256.5,330.2L302.5,310.4M256.5,332.2L302.5,312.4M256.5,334.2L302.5,314.4M256.5,336.2L302.5,316.4M256.5,338.2L302.5,318.4M256.5,340.2L302.5,320.4M256.5,342.2L302.5,322.4M256.5,344.2L302.5,324.4M256.5,346.2L302.5,326.4M256.5,348.2L302.5,328.4M256.5,350.2L302.5,330.4M256.5,352.2L302.5,332.4M256.5,354.2L302.5,334.4M256.5,356.2L302.5,336.4M256.5,358.2L302.5,338.4M256.5,360.2L302.5,340.4M256.5,362.2L302.5,342.4M256.5,364.2L302.5,344.4M256.5,366.2L302.5,346.4M256.5,368.2L302.5,348.4M256.5,370.2L302.5,350.4M256.5,372.2L302.5,352.4M256.5,374.2L302.5,354.4M256.5,376.2L302.5,356.4M256.5,378.2L302.5,358.4M256.5,380.2L302.5,360.4M256.5,382.2L302.5,362.4M256.5,384.2L302.5,364.4M256.5,386.2L302.5,366.4M256.5,388.2L302.5,368.4M256.5,390.2L302.5,370.4M256.5,392.2L302.5,372.4M256.5,394.2L302.5,374.4M256.5,396.2L302.5,376.4M256.5,398.2L302.5,378.4M256.5,400.2L302.5,380.4M256.5,402.2L302.5,382.4M256.5,404.2L302.5,384.4M256.5,406.2L302.5,386.4M256.5,408.2L302.5,388.4M256.5,410.2L302.5,390.4M256.5,412.2L302.5,392.4M256.5,414.2L302.5,394.4M256.5,416.2L302.5,396.4M256.5,418.2L302.5,398.4M256.5,420.2L302.5,400.4M256.5,422.2L302.5,402.4M256.5,424.2L302.5,404.4M256.5,426.2L302.5,406.4M256.5,428.2L302.5,408.4M256.5,430.2L302.5,410.4M256.5,432.2L302.5,412.4M256.5,434.2L302.5,414.4M256.5,436.2L302.5,416.4M256.5,438.2L302.5,418.4M256.5,440.2L302.5,420.4M256.5,442.2L302.5,422.4M256.5,444.2L302.5,424.4M256.5,446.2L302.5,426.4M256.5,448.2L302.5,428.4M256.5,450.2L302.5,430.4M256.5,452.2L302.5,432.4M256.5,454.2L302.5,434.4M256.5,456.2L302.5,436.4M256.5,458.2L302.5,438.4M256.5,460.2L302.5,440.4M256.5,462.2L302.5,442.4M256.5,464.2L302.5,444.4M256.5,466.2L302.5,446.4M256.5,468.2L302.5,448.4M256.5,470.2L302.5,450.4M256.5,472.2L302.5,452.4M256.5,474.2L302.5,454.4M256.5,476.2L302.5,456.4M256.5,478.2L302.5,458.4M256.5,480.2L302.5,460.4M256.5,482.2L302.5,462.4M256.5,484.2L302.5,464.4M256.5,486.2L302.5,466.4M256.5,488.2L302.5,468.4M256.5,490.2L302.5,470.4M256.5,492.2L302.5,472.4M256.5,494.2L302.5,474.4M256.5,496.2L302.5,476.4M256.5,498.2L302.5,478.4M256.5,500.2L302.5,480.4M256.5,502.2L302.5,482.4M256.5,504.2L302.5,484.4M256.5,506.2L302.5,486.4M256.5,508.2L302.5,488.4M256.5,510.2L302.5,490.4M256.5,512.2L302.5,492.4" stroke="#3a3131" stroke-width="0.78" fill="none"/>
</g>
<clipPath id="cR"><polygon points="302.0,247.2 318.0,250.2 443.8,300.2 443.8,340.0 373.0,362.0 366.2,362.0 366.2,491.0 302.0,466.5"/></clipPath>
<g clip-path="url(#cR)">
<polygon points="302.0,247.2 318.0,250.2 443.8,300.2 443.8,340.0 373.0,362.0 366.2,362.0 366.2,491.0 302.0,466.5" fill="#fff"/>
<path d="M302.5,246V496M304.5,246V496M306.5,246V496M308.5,246V496M310.5,246V496M312.5,246V496M314.5,246V496M316.5,246V496M318.5,246V496M320.5,246V496M322.5,246V496M324.5,246V496M326.5,246V496M328.5,246V496M330.5,246V496M332.5,246V496M334.5,246V496M336.5,246V496M338.5,246V496M340.5,246V496M342.5,246V496M344.5,246V496M346.5,246V496M348.5,246V496M350.5,246V496M352.5,246V496M354.5,246V496M356.5,246V496M358.5,246V496M360.5,246V496M362.5,246V496M364.5,246V496M366.5,246V496M368.5,246V496M370.5,246V496M372.5,246V496M374.5,246V496M376.5,246V496M378.5,246V496M380.5,246V496M382.5,246V496M384.5,246V496M386.5,246V496M388.5,246V496M390.5,246V496M392.5,246V496M394.5,246V496M396.5,246V496M398.5,246V496M400.5,246V496M402.5,246V496M404.5,246V496M406.5,246V496M408.5,246V496M410.5,246V496M412.5,246V496M414.5,246V496M416.5,246V496M418.5,246V496M420.5,246V496M422.5,246V496M424.5,246V496M426.5,246V496M428.5,246V496M430.5,246V496M432.5,246V496M434.5,246V496M436.5,246V496M438.5,246V496M440.5,246V496M442.5,246V496M444.5,246V496" stroke="#3a3131" stroke-width="1.0" fill="none"/>
<path d="M302.5,186.6L444.5,242.0M302.5,188.6L444.5,244.0M302.5,190.6L444.5,246.0M302.5,192.6L444.5,248.0M302.5,194.6L444.5,250.0M302.5,196.6L444.5,252.0M302.5,198.6L444.5,254.0M302.5,200.6L444.5,256.0M302.5,202.6L444.5,258.0M302.5,204.6L444.5,260.0M302.5,206.6L444.5,262.0M302.5,208.6L444.5,264.0M302.5,210.6L444.5,266.0M302.5,212.6L444.5,268.0M302.5,214.6L444.5,270.0M302.5,216.6L444.5,272.0M302.5,218.6L444.5,274.0M302.5,220.6L444.5,276.0M302.5,222.6L444.5,278.0M302.5,224.6L444.5,280.0M302.5,226.6L444.5,282.0M302.5,228.6L444.5,284.0M302.5,230.6L444.5,286.0M302.5,232.6L444.5,288.0M302.5,234.6L444.5,290.0M302.5,236.6L444.5,292.0M302.5,238.6L444.5,294.0M302.5,240.6L444.5,296.0M302.5,242.6L444.5,298.0M302.5,244.6L444.5,300.0M302.5,246.6L444.5,302.0M302.5,248.6L444.5,304.0M302.5,250.6L444.5,306.0M302.5,252.6L444.5,308.0M302.5,254.6L444.5,310.0M302.5,256.6L444.5,312.0M302.5,258.6L444.5,314.0M302.5,260.6L444.5,316.0M302.5,262.6L444.5,318.0M302.5,264.6L444.5,320.0M302.5,266.6L444.5,322.0M302.5,268.6L444.5,324.0M302.5,270.6L444.5,326.0M302.5,272.6L444.5,328.0M302.5,274.6L444.5,330.0M302.5,276.6L444.5,332.0M302.5,278.6L444.5,334.0M302.5,280.6L444.5,336.0M302.5,282.6L444.5,338.0M302.5,284.6L444.5,340.0M302.5,286.6L444.5,342.0M302.5,288.6L444.5,344.0M302.5,290.6L444.5,346.0M302.5,292.6L444.5,348.0M302.5,294.6L444.5,350.0M302.5,296.6L444.5,352.0M302.5,298.6L444.5,354.0M302.5,300.6L444.5,356.0M302.5,302.6L444.5,358.0M302.5,304.6L444.5,360.0M302.5,306.6L444.5,362.0M302.5,308.6L444.5,364.0M302.5,310.6L444.5,366.0M302.5,312.6L444.5,368.0M302.5,314.6L444.5,370.0M302.5,316.6L444.5,372.0M302.5,318.6L444.5,374.0M302.5,320.6L444.5,376.0M302.5,322.6L444.5,378.0M302.5,324.6L444.5,380.0M302.5,326.6L444.5,382.0M302.5,328.6L444.5,384.0M302.5,330.6L444.5,386.0M302.5,332.6L444.5,388.0M302.5,334.6L444.5,390.0M302.5,336.6L444.5,392.0M302.5,338.6L444.5,394.0M302.5,340.6L444.5,396.0M302.5,342.6L444.5,398.0M302.5,344.6L444.5,400.0M302.5,346.6L444.5,402.0M302.5,348.6L444.5,404.0M302.5,350.6L444.5,406.0M302.5,352.6L444.5,408.0M302.5,354.6L444.5,410.0M302.5,356.6L444.5,412.0M302.5,358.6L444.5,414.0M302.5,360.6L444.5,416.0M302.5,362.6L444.5,418.0M302.5,364.6L444.5,420.0M302.5,366.6L444.5,422.0M302.5,368.6L444.5,424.0M302.5,370.6L444.5,426.0M302.5,372.6L444.5,428.0M302.5,374.6L444.5,430.0M302.5,376.6L444.5,432.0M302.5,378.6L444.5,434.0M302.5,380.6L444.5,436.0M302.5,382.6L444.5,438.0M302.5,384.6L444.5,440.0M302.5,386.6L444.5,442.0M302.5,388.6L444.5,444.0M302.5,390.6L444.5,446.0M302.5,392.6L444.5,448.0M302.5,394.6L444.5,450.0M302.5,396.6L444.5,452.0M302.5,398.6L444.5,454.0M302.5,400.6L444.5,456.0M302.5,402.6L444.5,458.0M302.5,404.6L444.5,460.0M302.5,406.6L444.5,462.0M302.5,408.6L444.5,464.0M302.5,410.6L444.5,466.0M302.5,412.6L444.5,468.0M302.5,414.6L444.5,470.0M302.5,416.6L444.5,472.0M302.5,418.6L444.5,474.0M302.5,420.6L444.5,476.0M302.5,422.6L444.5,478.0M302.5,424.6L444.5,480.0M302.5,426.6L444.5,482.0M302.5,428.6L444.5,484.0M302.5,430.6L444.5,486.0M302.5,432.6L444.5,488.0M302.5,434.6L444.5,490.0M302.5,436.6L444.5,492.0M302.5,438.6L444.5,494.0M302.5,440.6L444.5,496.0M302.5,442.6L444.5,498.0M302.5,444.6L444.5,500.0M302.5,446.6L444.5,502.0M302.5,448.6L444.5,504.0M302.5,450.6L444.5,506.0M302.5,452.6L444.5,508.0M302.5,454.6L444.5,510.0M302.5,456.6L444.5,512.0M302.5,458.6L444.5,514.0M302.5,460.6L444.5,516.0M302.5,462.6L444.5,518.0M302.5,464.6L444.5,520.0M302.5,466.6L444.5,522.0M302.5,468.6L444.5,524.0M302.5,470.6L444.5,526.0M302.5,472.6L444.5,528.0M302.5,474.6L444.5,530.0M302.5,476.6L444.5,532.0M302.5,478.6L444.5,534.0M302.5,480.6L444.5,536.0M302.5,482.6L444.5,538.0M302.5,484.6L444.5,540.0M302.5,486.6L444.5,542.0M302.5,488.6L444.5,544.0M302.5,490.6L444.5,546.0M302.5,492.6L444.5,548.0M302.5,494.6L444.5,550.0M302.5,496.6L444.5,552.0M302.5,498.6L444.5,554.0M302.5,500.6L444.5,556.0M302.5,502.6L444.5,558.0M302.5,504.6L444.5,560.0M302.5,506.6L444.5,562.0M302.5,508.6L444.5,564.0M302.5,510.6L444.5,566.0M302.5,512.6L444.5,568.0M302.5,514.6L444.5,570.0M302.5,516.6L444.5,572.0M302.5,518.6L444.5,574.0M302.5,520.6L444.5,576.0M302.5,522.6L444.5,578.0M302.5,524.6L444.5,580.0M302.5,526.6L444.5,582.0M302.5,528.6L444.5,584.0M302.5,530.6L444.5,586.0M302.5,532.6L444.5,588.0M302.5,534.6L444.5,590.0M302.5,536.6L444.5,592.0M302.5,538.6L444.5,594.0M302.5,540.6L444.5,596.0M302.5,542.6L444.5,598.0M302.5,544.6L444.5,600.0M302.5,546.6L444.5,602.0M302.5,548.6L444.5,604.0M302.5,550.6L444.5,606.0M302.5,552.6L444.5,608.0M302.5,554.6L444.5,610.0" stroke="#3a3131" stroke-width="0.78" fill="none"/>
</g>
<polyline points="249.0,262.3 289.2,247.3 294.0,246.2 300.0,245.8 308.0,246.6 318.3,249.0 468.3,308.8" fill="none" stroke="#332a2a" stroke-width="0.98" stroke-linejoin="round" stroke-linecap="round" />
<polyline points="256.7,263.9 290.0,250.6 300.0,249.0 317.6,252.0 444.0,302.6" fill="none" stroke="#fff" stroke-width="0.5" stroke-linejoin="round" stroke-linecap="round" />
<polyline points="444.0,300.2 466.0,309.0" fill="none" stroke="#332a2a" stroke-width="0.55" stroke-linejoin="round" stroke-linecap="round" />
<polyline points="444.0,302.4 463.0,310.0" fill="none" stroke="#332a2a" stroke-width="0.55" stroke-linejoin="round" stroke-linecap="round" />
<polygon points="249.0,262.3 256.7,259.6 256.7,488.0 249.0,488.0" fill="#fff" stroke="#332a2a" stroke-width="0.73" stroke-linejoin="round" />
<line x1="252.3" y1="261.5" x2="252.3" y2="488.0" stroke="#332a2a" stroke-width="0.49"/>
<path d="M251.4,274.2 Q255.6,273.8 255.4,275.8 Q255,277.6 252.2,277.0" fill="none" stroke="#2a2222" stroke-width="1.25" stroke-linejoin="round" stroke-linecap="round" />
<path d="M250.4,279.0 L252.6,280.4" fill="none" stroke="#2e2626" stroke-width="0.6" stroke-linejoin="round" stroke-linecap="round" />
<path d="M251.4,284.8 Q255.6,284.4 255.4,286.4 Q255,288.2 252.2,287.6" fill="none" stroke="#2a2222" stroke-width="1.25" stroke-linejoin="round" stroke-linecap="round" />
<path d="M250.4,289.6 L252.6,291.0" fill="none" stroke="#2e2626" stroke-width="0.6" stroke-linejoin="round" stroke-linecap="round" />
<path d="M251.4,295.4 Q255.6,295.0 255.4,297.0 Q255,298.8 252.2,298.2" fill="none" stroke="#2a2222" stroke-width="1.25" stroke-linejoin="round" stroke-linecap="round" />
<path d="M250.4,300.2 L252.6,301.6" fill="none" stroke="#2e2626" stroke-width="0.6" stroke-linejoin="round" stroke-linecap="round" />
<path d="M251.4,306.0 Q255.6,305.6 255.4,307.6 Q255,309.4 252.2,308.8" fill="none" stroke="#2a2222" stroke-width="1.25" stroke-linejoin="round" stroke-linecap="round" />
<path d="M250.4,310.8 L252.6,312.2" fill="none" stroke="#2e2626" stroke-width="0.6" stroke-linejoin="round" stroke-linecap="round" />
<path d="M251.4,316.6 Q255.6,316.2 255.4,318.2 Q255,320.0 252.2,319.4" fill="none" stroke="#2a2222" stroke-width="1.25" stroke-linejoin="round" stroke-linecap="round" />
<path d="M250.4,321.4 L252.6,322.8" fill="none" stroke="#2e2626" stroke-width="0.6" stroke-linejoin="round" stroke-linecap="round" />
<path d="M251.4,327.2 Q255.6,326.8 255.4,328.8 Q255,330.6 252.2,330.0" fill="none" stroke="#2a2222" stroke-width="1.25" stroke-linejoin="round" stroke-linecap="round" />
<path d="M250.4,332.0 L252.6,333.4" fill="none" stroke="#2e2626" stroke-width="0.6" stroke-linejoin="round" stroke-linecap="round" />
<path d="M251.4,337.8 Q255.6,337.4 255.4,339.4 Q255,341.2 252.2,340.6" fill="none" stroke="#2a2222" stroke-width="1.25" stroke-linejoin="round" stroke-linecap="round" />
<path d="M250.4,342.6 L252.6,344.0" fill="none" stroke="#2e2626" stroke-width="0.6" stroke-linejoin="round" stroke-linecap="round" />
<path d="M251.4,348.4 Q255.6,348.0 255.4,350.0 Q255,351.8 252.2,351.2" fill="none" stroke="#2a2222" stroke-width="1.25" stroke-linejoin="round" stroke-linecap="round" />
<path d="M250.4,353.2 L252.6,354.6" fill="none" stroke="#2e2626" stroke-width="0.6" stroke-linejoin="round" stroke-linecap="round" />
<path d="M251.4,359.0 Q255.6,358.6 255.4,360.6 Q255,362.4 252.2,361.8" fill="none" stroke="#2a2222" stroke-width="1.25" stroke-linejoin="round" stroke-linecap="round" />
<path d="M250.4,363.8 L252.6,365.2" fill="none" stroke="#2e2626" stroke-width="0.6" stroke-linejoin="round" stroke-linecap="round" />
<path d="M251.4,369.6 Q255.6,369.2 255.4,371.2 Q255,373.0 252.2,372.4" fill="none" stroke="#2a2222" stroke-width="1.25" stroke-linejoin="round" stroke-linecap="round" />
<path d="M250.4,374.4 L252.6,375.8" fill="none" stroke="#2e2626" stroke-width="0.6" stroke-linejoin="round" stroke-linecap="round" />
<path d="M251.4,380.2 Q255.6,379.8 255.4,381.8 Q255,383.6 252.2,383.0" fill="none" stroke="#2a2222" stroke-width="1.25" stroke-linejoin="round" stroke-linecap="round" />
<path d="M250.4,385.0 L252.6,386.4" fill="none" stroke="#2e2626" stroke-width="0.6" stroke-linejoin="round" stroke-linecap="round" />
<path d="M251.4,390.8 Q255.6,390.4 255.4,392.4 Q255,394.2 252.2,393.6" fill="none" stroke="#2a2222" stroke-width="1.25" stroke-linejoin="round" stroke-linecap="round" />
<path d="M250.4,395.6 L252.6,397.0" fill="none" stroke="#2e2626" stroke-width="0.6" stroke-linejoin="round" stroke-linecap="round" />
<path d="M251.4,401.4 Q255.6,401.0 255.4,403.0 Q255,404.8 252.2,404.2" fill="none" stroke="#2a2222" stroke-width="1.25" stroke-linejoin="round" stroke-linecap="round" />
<path d="M250.4,406.2 L252.6,407.6" fill="none" stroke="#2e2626" stroke-width="0.6" stroke-linejoin="round" stroke-linecap="round" />
<path d="M251.4,412.0 Q255.6,411.6 255.4,413.6 Q255,415.4 252.2,414.8" fill="none" stroke="#2a2222" stroke-width="1.25" stroke-linejoin="round" stroke-linecap="round" />
<path d="M250.4,416.8 L252.6,418.2" fill="none" stroke="#2e2626" stroke-width="0.6" stroke-linejoin="round" stroke-linecap="round" />
<path d="M251.4,422.6 Q255.6,422.2 255.4,424.2 Q255,426.0 252.2,425.4" fill="none" stroke="#2a2222" stroke-width="1.25" stroke-linejoin="round" stroke-linecap="round" />
<path d="M250.4,427.4 L252.6,428.8" fill="none" stroke="#2e2626" stroke-width="0.6" stroke-linejoin="round" stroke-linecap="round" />
<path d="M251.4,433.2 Q255.6,432.8 255.4,434.8 Q255,436.6 252.2,436.0" fill="none" stroke="#2a2222" stroke-width="1.25" stroke-linejoin="round" stroke-linecap="round" />
<path d="M250.4,438.0 L252.6,439.4" fill="none" stroke="#2e2626" stroke-width="0.6" stroke-linejoin="round" stroke-linecap="round" />
<path d="M251.4,443.8 Q255.6,443.4 255.4,445.4 Q255,447.2 252.2,446.6" fill="none" stroke="#2a2222" stroke-width="1.25" stroke-linejoin="round" stroke-linecap="round" />
<path d="M250.4,448.6 L252.6,450.0" fill="none" stroke="#2e2626" stroke-width="0.6" stroke-linejoin="round" stroke-linecap="round" />
<path d="M251.4,454.4 Q255.6,454.0 255.4,456.0 Q255,457.8 252.2,457.2" fill="none" stroke="#2a2222" stroke-width="1.25" stroke-linejoin="round" stroke-linecap="round" />
<path d="M250.4,459.2 L252.6,460.6" fill="none" stroke="#2e2626" stroke-width="0.6" stroke-linejoin="round" stroke-linecap="round" />
<path d="M251.4,465.0 Q255.6,464.6 255.4,466.6 Q255,468.4 252.2,467.8" fill="none" stroke="#2a2222" stroke-width="1.25" stroke-linejoin="round" stroke-linecap="round" />
<path d="M250.4,469.8 L252.6,471.2" fill="none" stroke="#2e2626" stroke-width="0.6" stroke-linejoin="round" stroke-linecap="round" />
<polygon points="304.0,323.0 306.6,321.0 309.2,322.4 309.2,525.0 304.0,527.5" fill="#fff" stroke="#332a2a" stroke-width="0.73" stroke-linejoin="round" />
<line x1="306.6" y1="323.4" x2="306.6" y2="526.0" stroke="#332a2a" stroke-width="0.49"/>
<polygon points="268.7,308.0 304.0,323.0 304.0,527.5 291.5,533.8 271.5,523.0 268.7,521.0" fill="#fff" stroke="#332a2a" stroke-width="0.85" stroke-linejoin="round" />
<polyline points="268.7,308.0 271.6,306.2 274.6,307.4 304.4,320.6" fill="none" stroke="#332a2a" stroke-width="0.61" stroke-linejoin="round" stroke-linecap="round" />
<path d="M273.3,325.5 Q273.3,322.6 276,323.8 L297,332.8 Q299.4,333.9 299.4,336.5 L299.4,397.5 Q299.4,399.6 297.2,398.6 L275.6,389.4 Q273.3,388.4 273.3,386 Z" fill="#fff" stroke="#332a2a" stroke-width="0.73"/>
<clipPath id="cW1"><polygon points="275.9,326.5 297.0,335.4 299.4,338.0 299.4,398.5 297.2,398.6 275.9,389.5"/></clipPath>
<g clip-path="url(#cW1)">
<polygon points="275.9,326.5 297.0,335.4 299.4,338.0 299.4,398.5 297.2,398.6 275.9,389.5" fill="#fff"/>
<path d="M276.5,322V402M278.5,322V402M280.5,322V402M282.5,322V402M284.5,322V402M286.5,322V402M288.5,322V402M290.5,322V402M292.5,322V402M294.5,322V402M296.5,322V402M298.5,322V402" stroke="#3a3131" stroke-width="1.0" fill="none"/>
<path d="M276.5,309.0L299.5,318.0M276.5,311.0L299.5,320.0M276.5,313.0L299.5,322.0M276.5,315.0L299.5,324.0M276.5,317.0L299.5,326.0M276.5,319.0L299.5,328.0M276.5,321.0L299.5,330.0M276.5,323.0L299.5,332.0M276.5,325.0L299.5,334.0M276.5,327.0L299.5,336.0M276.5,329.0L299.5,338.0M276.5,331.0L299.5,340.0M276.5,333.0L299.5,342.0M276.5,335.0L299.5,344.0M276.5,337.0L299.5,346.0M276.5,339.0L299.5,348.0M276.5,341.0L299.5,350.0M276.5,343.0L299.5,352.0M276.5,345.0L299.5,354.0M276.5,347.0L299.5,356.0M276.5,349.0L299.5,358.0M276.5,351.0L299.5,360.0M276.5,353.0L299.5,362.0M276.5,355.0L299.5,364.0M276.5,357.0L299.5,366.0M276.5,359.0L299.5,368.0M276.5,361.0L299.5,370.0M276.5,363.0L299.5,372.0M276.5,365.0L299.5,374.0M276.5,367.0L299.5,376.0M276.5,369.0L299.5,378.0M276.5,371.0L299.5,380.0M276.5,373.0L299.5,382.0M276.5,375.0L299.5,384.0M276.5,377.0L299.5,386.0M276.5,379.0L299.5,388.0M276.5,381.0L299.5,390.0M276.5,383.0L299.5,392.0M276.5,385.0L299.5,394.0M276.5,387.0L299.5,396.0M276.5,389.0L299.5,398.0M276.5,391.0L299.5,400.0M276.5,393.0L299.5,402.0M276.5,395.0L299.5,404.0M276.5,397.0L299.5,406.0M276.5,399.0L299.5,408.0M276.5,401.0L299.5,410.0M276.5,403.0L299.5,412.0M276.5,405.0L299.5,414.0M276.5,407.0L299.5,416.0M276.5,409.0L299.5,418.0M276.5,411.0L299.5,420.0M276.5,413.0L299.5,422.0" stroke="#3a3131" stroke-width="0.78" fill="none"/>
</g>
<path d="M275.9,326.5 L297,335.4 Q299.4,336.4 299.4,338 L299.4,397.5 Q299.4,399.6 297.2,398.6 L275.9,389.5 Z" fill="none" stroke="#332a2a" stroke-width="0.49"/>
<polyline points="268.7,397.6 304.0,412.6" fill="none" stroke="#332a2a" stroke-width="0.61" stroke-linejoin="round" stroke-linecap="round" />
<polyline points="268.7,401.0 304.0,416.0" fill="none" stroke="#332a2a" stroke-width="0.61" stroke-linejoin="round" stroke-linecap="round" />
<polyline points="268.7,438.6 304.0,453.6" fill="none" stroke="#332a2a" stroke-width="0.61" stroke-linejoin="round" stroke-linecap="round" />
<polyline points="268.7,442.0 304.0,457.0" fill="none" stroke="#332a2a" stroke-width="0.61" stroke-linejoin="round" stroke-linecap="round" />
<polygon points="277.7,446.0 299.2,454.6 299.2,510.0 277.7,498.5" fill="#fff" stroke="#332a2a" stroke-width="0.73" stroke-linejoin="round" />
<clipPath id="cW2"><polygon points="280.2,447.6 299.2,455.2 299.2,470.5 280.2,476.0"/></clipPath>
<g clip-path="url(#cW2)">
<polygon points="280.2,447.6 299.2,455.2 299.2,470.5 280.2,476.0" fill="#fff"/>
<path d="M280.5,444V480M282.5,444V480M284.5,444V480M286.5,444V480M288.5,444V480M290.5,444V480M292.5,444V480M294.5,444V480M296.5,444V480M298.5,444V480" stroke="#3a3131" stroke-width="1.0" fill="none"/>
<path d="M280.5,432.6L299.5,440.0M280.5,434.6L299.5,442.0M280.5,436.6L299.5,444.0M280.5,438.6L299.5,446.0M280.5,440.6L299.5,448.0M280.5,442.6L299.5,450.0M280.5,444.6L299.5,452.0M280.5,446.6L299.5,454.0M280.5,448.6L299.5,456.0M280.5,450.6L299.5,458.0M280.5,452.6L299.5,460.0M280.5,454.6L299.5,462.0M280.5,456.6L299.5,464.0M280.5,458.6L299.5,466.0M280.5,460.6L299.5,468.0M280.5,462.6L299.5,470.0M280.5,464.6L299.5,472.0M280.5,466.6L299.5,474.0M280.5,468.6L299.5,476.0M280.5,470.6L299.5,478.0M280.5,472.6L299.5,480.0M280.5,474.6L299.5,482.0M280.5,476.6L299.5,484.0M280.5,478.6L299.5,486.0M280.5,480.6L299.5,488.0M280.5,482.6L299.5,490.0M280.5,484.6L299.5,492.0M280.5,486.6L299.5,494.0M280.5,488.6L299.5,496.0M280.5,490.6L299.5,498.0" stroke="#3a3131" stroke-width="0.78" fill="none"/>
</g>
<polyline points="280.2,447.6 280.2,497.6 297.5,506.6" fill="none" stroke="#332a2a" stroke-width="0.55" stroke-linejoin="round" stroke-linecap="round" />
<polyline points="271.5,519.5 291.5,530.0 304.0,524.0" fill="none" stroke="#332a2a" stroke-width="0.55" stroke-linejoin="round" stroke-linecap="round" />
<polyline points="291.5,530.0 291.5,533.8" fill="none" stroke="#332a2a" stroke-width="0.55" stroke-linejoin="round" stroke-linecap="round" />
<polyline points="291.5,533.8 310.0,524.6 309.2,522.0" fill="none" stroke="#332a2a" stroke-width="0.73" stroke-linejoin="round" stroke-linecap="round" />
<polygon points="272.6,409.4 275.0,405.2 279.2,404.6 281.8,407.6 281.6,411.4 277.0,414.0" fill="#fff" stroke="#332a2a" stroke-width="0.73" stroke-linejoin="round" />
<path d="M274.4,408.6 Q276.2,405.6 278.8,407.4 M275.4,411 Q277.6,407.4 280.2,409.6" fill="none" stroke="#332a2a" stroke-width="0.61" stroke-linejoin="round" stroke-linecap="round" />
<polygon points="289.4,432.6 292.2,429.8 296.4,431.0 297.2,435.0 294.6,439.4 290.2,439.6" fill="#fff" stroke="#332a2a" stroke-width="0.73" stroke-linejoin="round" />
<path d="M290.4,436.6 L295.6,434 M290.6,438.4 L296,436" fill="none" stroke="#332a2a" stroke-width="0.61" stroke-linejoin="round" stroke-linecap="round" />
<path d="M263.4,413.6 Q270.4,408.4 279.4,411.4 Q289.4,415.6 292,428.8 Q293.4,440.2 286.8,446.2 Q281.4,450 275.6,448.6 Q266,445.8 260.6,437.4 Q255.4,428 258.2,420 Q260,416 263.4,413.6 Z" fill="#fff" stroke="#332a2a" stroke-width="0.85"/>
<path d="M263.4,413.6 Q266.6,423 270.4,432 Q273.6,441 277.4,448.8" fill="none" stroke="#332a2a" stroke-width="0.61" stroke-linejoin="round" stroke-linecap="round" />
<path d="M266.8,412 Q272.8,420 276.6,431 Q279.4,440 280.4,449" fill="none" stroke="#332a2a" stroke-width="0.61" stroke-linejoin="round" stroke-linecap="round" />
<path d="M272,410.4 Q281,418 284.2,430 Q286,439 284.6,447.4" fill="none" stroke="#332a2a" stroke-width="0.61" stroke-linejoin="round" stroke-linecap="round" />
<path d="M259,429.6 Q258.6,425.6 262.6,425.4 Q267.6,426 269.8,431.4 Q271.2,437.6 267.2,439.8 Q262,440.4 259.6,436.2 Z" fill="#fff" stroke="#332a2a" stroke-width="0.73"/>
<path d="M264.6,426 Q268,430.6 268.6,435.6 Q268.6,438.6 267,439.8" fill="none" stroke="#332a2a" stroke-width="0.55" stroke-linejoin="round" stroke-linecap="round" />
<path d="M256.6,433.2 Q257.6,431.2 259.6,431.6 L263,432.6 Q265,435 262.6,437 L258.4,437.4 Q256.2,436 256.6,433.2 Z" fill="#fff" stroke="#332a2a" stroke-width="0.73"/>
<polygon points="121.5,347.8 125.2,346.0 139.3,352.8 146.2,356.0 146.2,362.6 151.0,363.8 151.0,387.2 147.4,387.2 258.2,444.6 261.1,447.0 261.1,725.0 121.5,655.0" fill="#fff" stroke="#332a2a" stroke-width="0.85" stroke-linejoin="round" />
<polyline points="121.5,347.8 133.8,354.5 133.8,660.0" fill="none" stroke="#332a2a" stroke-width="0.73" stroke-linejoin="round" stroke-linecap="round" />
<polyline points="133.8,354.5 139.6,352.9" fill="none" stroke="#332a2a" stroke-width="0.61" stroke-linejoin="round" stroke-linecap="round" />
<polyline points="139.3,352.8 139.3,660.0" fill="none" stroke="#332a2a" stroke-width="0.61" stroke-linejoin="round" stroke-linecap="round" />
<polyline points="134.6,352.2 141.5,350.6 146.2,352.8 146.2,356.0" fill="none" stroke="#332a2a" stroke-width="0.61" stroke-linejoin="round" stroke-linecap="round" />
<polyline points="147.4,389.6 258.2,447.0" fill="none" stroke="#332a2a" stroke-width="0.61" stroke-linejoin="round" stroke-linecap="round" />
<polyline points="258.2,444.6 258.2,720.0" fill="none" stroke="#332a2a" stroke-width="0.61" stroke-linejoin="round" stroke-linecap="round" />
<polyline points="263.8,448.0 263.8,619.5 265.3,619.5 265.3,560.0" fill="none" stroke="#332a2a" stroke-width="0.61" stroke-linejoin="round" stroke-linecap="round" />
<clipPath id="fanclip"><rect x="100" y="380" width="158" height="400"/></clipPath>
<polyline points="271.6,523.1 271.4,527.9 270.7,532.4 269.5,536.6 267.9,540.5 265.9,543.9 263.5,547.0 260.6,549.7 257.4,551.9 253.9,553.6 250.0,554.8 245.8,555.6 241.3,555.9 236.6,555.7 231.7,555.0 226.7,553.8 221.5,552.1 216.3,550.0 211.0,547.4 205.7,544.4 200.5,541.0 195.3,537.2 190.3,533.0 185.4,528.5 180.7,523.8 176.2,518.8 172.0,513.6 168.1,508.2 164.6,502.6 161.4,497.0 158.5,491.4 156.1,485.7 154.1,480.1 152.5,474.6 151.3,469.2 150.6,463.9 150.4,458.9 150.6,454.1 151.3,449.6 152.5,445.4 154.1,441.5 156.1,438.1 158.5,435.0 161.4,432.3 164.6,430.1 168.1,428.4 172.0,427.2 176.2,426.4 180.7,426.1 185.4,426.3 190.3,427.0 195.3,428.2 200.5,429.9 205.7,432.0 211.0,434.6 216.3,437.6 221.5,441.0 226.7,444.8 231.7,449.0 236.6,453.5 241.3,458.2 245.8,463.2 250.0,468.4 253.9,473.8 257.4,479.4 260.6,485.0 263.5,490.6 265.9,496.3 267.9,501.9 269.5,507.4 270.7,512.8 271.4,518.1 271.6,523.1" fill="none" stroke="#332a2a" stroke-width="0.73" stroke-linejoin="round" stroke-linecap="round" clip-path="url(#fanclip)"/>
<path d="M263.5,479.6 Q281,525 262.7,560.2" fill="none" stroke="#332a2a" stroke-width="0.67" stroke-linejoin="round" stroke-linecap="round" />
<polyline points="165.1,491.8 164.2,489.8 163.3,487.7 162.5,485.6 161.7,483.6 161.0,481.5 160.4,479.5 159.8,477.5 159.3,475.5 158.9,473.5 158.5,471.5 158.1,469.6 157.9,467.6 157.7,465.8 157.6,463.9 157.5,462.1 157.5,460.3 157.6,458.5 157.7,456.8 157.9,455.1 158.2,453.5 158.5,451.9 158.9,450.3 159.4,448.8 159.9,447.4 160.5,446.0 161.1,444.6 161.8,443.3 162.6,442.1 163.4,440.9 164.3,439.8 165.3,438.7 166.3,437.7 167.3,436.7 168.5,435.9 169.6,435.0 170.8,434.3 172.1,433.6 173.4,433.0 174.8,432.4 176.2,431.9 177.6,431.5 179.1,431.2 180.7,430.9 182.3,430.7 183.9,430.6 185.5,430.5 187.2,430.5 188.9,430.6 190.7,430.7 192.4,430.9 194.2,431.2 196.0,431.6 197.9,432.0 199.7,432.5 201.6,433.0 203.5,433.7 205.4,434.4 207.3,435.1 209.3,435.9 211.2,436.8 213.1,437.8 215.1,438.8 217.0,439.9 218.9,441.0 220.8,442.2 222.8,443.4 224.7,444.7 226.6,446.1 228.5,447.5 230.3,449.0 232.2,450.5 234.0,452.0" fill="none" stroke="#332a2a" stroke-width="0.61" stroke-linejoin="round" stroke-linecap="round" />
<path d="M168,471.4 Q166.5,448 181,424.8" fill="none" stroke="#332a2a" stroke-width="0.61" stroke-linejoin="round" stroke-linecap="round" />
<path d="M175.5,475.7 C176,452 185,439.4 194.6,439 C207,439 222,455 223,481 C223.4,492 222.6,497 221.8,500.5" fill="none" stroke="#332a2a" stroke-width="0.61" stroke-linejoin="round" stroke-linecap="round" />
<path d="M176.6,476.8 Q181,472.4 186.3,474.6 Q193,478.6 197,487.5" fill="none" stroke="#332a2a" stroke-width="0.61" stroke-linejoin="round" stroke-linecap="round" />
<path d="M227.2,458.5 Q238,470 241.2,487.5 L229.4,504.8" fill="none" stroke="#332a2a" stroke-width="0.61" stroke-linejoin="round" stroke-linecap="round" />
<path d="M221.8,448.8 Q238,470 247.7,504.8" fill="none" stroke="#332a2a" stroke-width="0.61" stroke-linejoin="round" stroke-linecap="round" />
<polygon points="222.5,437.0 229.9,434.5 255.7,448.0 255.7,466.5 248.3,469.0 222.5,453.7" fill="#fff" stroke="#332a2a" stroke-width="0.85" stroke-linejoin="round" />
<polyline points="222.5,437.0 248.3,450.5 248.3,469.0" fill="none" stroke="#332a2a" stroke-width="0.73" stroke-linejoin="round" stroke-linecap="round" />
<polyline points="248.3,450.5 255.7,448.0" fill="none" stroke="#332a2a" stroke-width="0.73" stroke-linejoin="round" stroke-linecap="round" />
<polygon points="443.8,313.8 455.4,313.8 463.0,311.5 468.3,309.0 468.3,400.0 443.8,400.0" fill="#fff" stroke="#332a2a" stroke-width="0.73" stroke-linejoin="round" />
<polyline points="455.4,313.8 455.4,400.0" fill="none" stroke="#332a2a" stroke-width="0.61" stroke-linejoin="round" stroke-linecap="round" />
<polyline points="463.0,311.5 463.0,400.0" fill="none" stroke="#332a2a" stroke-width="0.61" stroke-linejoin="round" stroke-linecap="round" />
<path d="M464,319.4 Q472.4,317.8 473.6,321.2 Q473.6,324.6 465,324.2" fill="none" stroke="#2e2626" stroke-width="0.9" stroke-linejoin="round" stroke-linecap="round" />
<ellipse cx="470.0" cy="321.6" rx="2.2" ry="1.8" fill="#fff" stroke="#2e2626" stroke-width="0.55" />
<path d="M464,328.4 Q472.4,326.8 473.6,330.2 Q473.6,333.6 465,333.2" fill="none" stroke="#2e2626" stroke-width="0.9" stroke-linejoin="round" stroke-linecap="round" />
<ellipse cx="470.0" cy="330.6" rx="2.2" ry="1.8" fill="#fff" stroke="#2e2626" stroke-width="0.55" />
<path d="M464,337.4 Q472.4,335.8 473.6,339.2 Q473.6,342.6 465,342.2" fill="none" stroke="#2e2626" stroke-width="0.9" stroke-linejoin="round" stroke-linecap="round" />
<ellipse cx="470.0" cy="339.6" rx="2.2" ry="1.8" fill="#fff" stroke="#2e2626" stroke-width="0.55" />
<path d="M464,346.4 Q472.4,344.8 473.6,348.2 Q473.6,351.6 465,351.2" fill="none" stroke="#2e2626" stroke-width="0.9" stroke-linejoin="round" stroke-linecap="round" />
<ellipse cx="470.0" cy="348.6" rx="2.2" ry="1.8" fill="#fff" stroke="#2e2626" stroke-width="0.55" />
<path d="M464,355.4 Q472.4,353.8 473.6,357.2 Q473.6,360.6 465,360.2" fill="none" stroke="#2e2626" stroke-width="0.9" stroke-linejoin="round" stroke-linecap="round" />
<ellipse cx="470.0" cy="357.6" rx="2.2" ry="1.8" fill="#fff" stroke="#2e2626" stroke-width="0.55" />
<path d="M464,364.2 Q472.4,362.6 473.6,366.0 Q473.6,369.4 465,369.0" fill="none" stroke="#2e2626" stroke-width="0.9" stroke-linejoin="round" stroke-linecap="round" />
<ellipse cx="470.0" cy="366.4" rx="2.2" ry="1.8" fill="#fff" stroke="#2e2626" stroke-width="0.55" />
<polygon points="366.2,337.7 371.5,334.6 373.0,336.0 373.0,542.0 366.2,541.5" fill="#fff" stroke="#332a2a" stroke-width="0.73" stroke-linejoin="round" />
<line x1="370.0" y1="336.4" x2="370.0" y2="541.8" stroke="#332a2a" stroke-width="0.49"/>
<polygon points="373.0,357.0 422.3,337.7 422.3,336.0 443.8,336.0 443.8,480.0 404.0,503.0 394.6,506.0 394.6,532.0 373.0,542.0" fill="#fff" stroke="#332a2a" stroke-width="0.73" stroke-linejoin="round" />
<line x1="422.3" y1="337.7" x2="422.3" y2="357.7" stroke="#332a2a" stroke-width="0.61"/>
<circle cx="431.5" cy="345.6" r="4.6" fill="#fff" stroke="#332a2a" stroke-width="0.73"/>
<line x1="428.3" y1="342.4" x2="434.7" y2="348.8" stroke="#332a2a" stroke-width="0.61"/>
<line x1="428.3" y1="348.8" x2="434.7" y2="342.4" stroke="#332a2a" stroke-width="0.61"/>
<polygon points="388.0,300.0 392.6,296.2 410.6,296.2 415.6,300.0" fill="#fff" stroke="#332a2a" stroke-width="0.61" stroke-linejoin="round" />
<rect x="383.0" y="298.0" width="37.0" height="15.2" rx="0" fill="#fff" stroke="#332a2a" stroke-width="0.85" />
<polygon points="385.6,313.2 417.4,313.2 414.6,316.4 388.6,316.4" fill="#fff" stroke="#332a2a" stroke-width="0.61" stroke-linejoin="round" />
<rect x="390.5" y="316.4" width="23.4" height="5.4" rx="0" fill="#fff" stroke="#332a2a" stroke-width="0.73" />
<rect x="392.2" y="318.0" width="19.8" height="2.4" rx="0" fill="#fff" stroke="#332a2a" stroke-width="0.49" />
<rect x="393.0" y="324.0" width="18.4" height="4.6" rx="0" fill="#fff" stroke="#332a2a" stroke-width="0.73" />
<path d="M404.4,357 L404.4,343.8 L400.6,343.8 L405.8,334.4 L411,343.8 L407.4,343.8 L407.4,357 Z" fill="#231f20" stroke="#231f20" stroke-width="0.4"/>
<polygon points="383.0,362.3 416.0,349.2 416.0,392.0 383.0,405.0" fill="#fff" stroke="#332a2a" stroke-width="0.73" stroke-linejoin="round" />
<polygon points="390.0,363.8 414.6,353.5 427.0,355.7 403.0,366.2" fill="#fff" stroke="#332a2a" stroke-width="0.73" stroke-linejoin="round" />
<polygon points="390.0,363.8 403.0,366.2 403.0,405.6 390.0,400.4" fill="#fff" stroke="#332a2a" stroke-width="0.73" stroke-linejoin="round" />
<polygon points="403.0,366.2 427.0,355.7 427.0,393.4 403.0,405.6" fill="#fff" stroke="#332a2a" stroke-width="0.73" stroke-linejoin="round" />
<polygon points="391.4,366.4 401.4,368.2 401.4,378.6 391.4,376.4" fill="#fff" stroke="#332a2a" stroke-width="0.55" stroke-linejoin="round" />
<polygon points="405.4,369.2 425.2,360.4 425.2,370.8 405.4,379.4" fill="#fff" stroke="#332a2a" stroke-width="0.55" stroke-linejoin="round" />
<polygon points="310.0,512.3 373.0,481.0 537.8,550.8 472.5,597.0" fill="#fff" stroke="none" stroke-width="0.0" stroke-linejoin="round" />
<polyline points="310.0,512.3 472.5,597.0 537.8,550.8 513.0,538.0" fill="none" stroke="#332a2a" stroke-width="0.73" stroke-linejoin="round" stroke-linecap="round" />
<polygon points="310.0,512.3 472.5,597.0 472.5,603.6 310.0,518.6" fill="#fff" stroke="#332a2a" stroke-width="0.73" stroke-linejoin="round" />
<polygon points="472.5,597.0 537.8,550.8 537.8,558.4 472.5,603.6" fill="#fff" stroke="#332a2a" stroke-width="0.73" stroke-linejoin="round" />
<polyline points="380.0,545.4 470.8,592.6 531.0,550.6" fill="none" stroke="#332a2a" stroke-width="0.61" stroke-linejoin="round" stroke-linecap="round" />
<polyline points="384.0,543.4 470.6,588.6 526.0,550.0" fill="none" stroke="#332a2a" stroke-width="0.49" stroke-linejoin="round" stroke-linecap="round" />
<polyline points="310.0,507.6 366.2,536.8" fill="none" stroke="#332a2a" stroke-width="0.61" stroke-linejoin="round" stroke-linecap="round" />
<polygon points="430.6,588.6 436.4,585.6 443.0,589.0 443.0,593.6 437.2,596.8 430.6,593.2" fill="#fff" stroke="#332a2a" stroke-width="0.61" stroke-linejoin="round" />
<circle cx="436.8" cy="591.6" r="1.3" fill="#fff" stroke="#332a2a" stroke-width="0.49"/>
<polygon points="444.8,545.6 450.4,543.0 456.4,546.0 456.4,550.0 450.8,553.0 444.8,549.6" fill="#fff" stroke="#332a2a" stroke-width="0.61" stroke-linejoin="round" />
<polyline points="488.0,587.6 495.6,582.6 495.6,585.6 489.0,590.0" fill="none" stroke="#332a2a" stroke-width="0.49" stroke-linejoin="round" stroke-linecap="round" />
<polyline points="394.6,506.0 394.6,532.0" fill="none" stroke="#332a2a" stroke-width="0.61" stroke-linejoin="round" stroke-linecap="round" />
<path d="M414.2,476 L414.2,451 Q414.2,445.6 419.6,445.6 L440,445.6" fill="none" stroke="#332a2a" stroke-width="4.64" stroke-linecap="butt" stroke-linejoin="round"/>
<path d="M414.2,476 L414.2,451 Q414.2,445.6 419.6,445.6 L440,445.6" fill="none" stroke="#fff" stroke-width="2.6" stroke-linecap="butt" stroke-linejoin="round"/>
<path d="M446.6,400 L446.6,462 Q446.6,468 451,473 Q457.4,480 457.4,486 L457.4,492" fill="none" stroke="#332a2a" stroke-width="4.88" stroke-linecap="butt" stroke-linejoin="round"/>
<path d="M446.6,400 L446.6,462 Q446.6,468 451,473 Q457.4,480 457.4,486 L457.4,492" fill="none" stroke="#fff" stroke-width="2.8" stroke-linecap="butt" stroke-linejoin="round"/>
<path d="M425.8,474 L425.8,460.6 Q425.8,453.8 432.6,453.8 Q439.4,453.8 439.4,460.6 L439.4,500" fill="none" stroke="#332a2a" stroke-width="4.88" stroke-linecap="butt" stroke-linejoin="round"/>
<path d="M425.8,474 L425.8,460.6 Q425.8,453.8 432.6,453.8 Q439.4,453.8 439.4,460.6 L439.4,500" fill="none" stroke="#fff" stroke-width="2.8" stroke-linecap="butt" stroke-linejoin="round"/>
<path d="M404.5,484 L404.5,548 A19.2,8.4 0 0 0 442.8,548 L442.8,484 Z" fill="#fff" stroke="#332a2a" stroke-width="0.85"/>
<ellipse cx="423.6" cy="484.0" rx="19.2" ry="11.2" fill="#fff" stroke="#332a2a" stroke-width="0.85" />
<path d="M404.5,487 A19.2,11 0 0 0 442.8,487" fill="none" stroke="#332a2a" stroke-width="0.61" stroke-linejoin="round" stroke-linecap="round" />
<path d="M405.4,546 A18.6,8 0 0 0 441.8,546" fill="none" stroke="#332a2a" stroke-width="0.61" stroke-linejoin="round" stroke-linecap="round" />
<rect x="425.2" y="472.6" width="2.6" height="6.4" rx="0" fill="#fff" stroke="#332a2a" stroke-width="0.61" />
<ellipse cx="400.4" cy="540.6" rx="3.4" ry="2.6" fill="#fff" stroke="#332a2a" stroke-width="0.73" />
<ellipse cx="400.4" cy="539.4" rx="2.2" ry="1.7" fill="#fff" stroke="#332a2a" stroke-width="0.61" />
<ellipse cx="400.4" cy="538.4" rx="1.2" ry="0.9" fill="#fff" stroke="#332a2a" stroke-width="0.49" />
<ellipse cx="424.0" cy="557.6" rx="3.4" ry="2.6" fill="#fff" stroke="#332a2a" stroke-width="0.73" />
<ellipse cx="424.0" cy="556.4" rx="2.2" ry="1.7" fill="#fff" stroke="#332a2a" stroke-width="0.61" />
<ellipse cx="424.0" cy="555.4" rx="1.2" ry="0.9" fill="#fff" stroke="#332a2a" stroke-width="0.49" />
<ellipse cx="450.6" cy="557.2" rx="3.4" ry="2.6" fill="#fff" stroke="#332a2a" stroke-width="0.73" />
<ellipse cx="450.6" cy="556.0" rx="2.2" ry="1.7" fill="#fff" stroke="#332a2a" stroke-width="0.61" />
<ellipse cx="450.6" cy="555.0" rx="1.2" ry="0.9" fill="#fff" stroke="#332a2a" stroke-width="0.49" />
<polyline points="394.6,506.0 404.0,503.0" fill="none" stroke="#332a2a" stroke-width="0.61" stroke-linejoin="round" stroke-linecap="round" />
<polyline points="398.0,523.4 404.0,521.0" fill="none" stroke="#332a2a" stroke-width="0.49" stroke-linejoin="round" stroke-linecap="round" />
<path d="M460.6,430 L460.6,562 A27.6,10.6 0 0 0 515.8,562 L515.8,531 L513.4,528 L513.4,436 Q513.6,428 514.8,423.7 L514.8,408.4 Q512,396.6 485,394.8 Q458,396.6 454.7,407.5 L454.7,421 Q456,428 460.6,432 Z" fill="#fff" stroke="#332a2a" stroke-width="0.85"/>
<path d="M454.7,407.5 Q485,423.4 514.8,408.4" fill="none" stroke="#332a2a" stroke-width="0.67" stroke-linejoin="round" stroke-linecap="round" />
<path d="M454.7,421 Q485,438 514.8,423.7" fill="none" stroke="#332a2a" stroke-width="0.67" stroke-linejoin="round" stroke-linecap="round" />
<path d="M456.4,408.6 L461.2,405 L474.8,417.6" fill="none" stroke="#332a2a" stroke-width="0.61" stroke-linejoin="round" stroke-linecap="round" />
<path d="M460.6,523.4 Q487,540.6 513.4,526.4" fill="none" stroke="#332a2a" stroke-width="0.67" stroke-linejoin="round" stroke-linecap="round" />
<path d="M460.6,528 Q487,545.6 515.8,531" fill="none" stroke="#332a2a" stroke-width="0.67" stroke-linejoin="round" stroke-linecap="round" />
<polygon points="494.6,553.4 500.4,551.4 503.0,555.6 501.6,561.6 496.4,563.2 493.6,558.8" fill="#fff" stroke="#332a2a" stroke-width="0.73" stroke-linejoin="round" />
<path d="M496,556 L501.4,553.8 M496.4,559.4 L502,557.2" fill="none" stroke="#332a2a" stroke-width="0.61" stroke-linejoin="round" stroke-linecap="round" />
<polygon points="496.0,563.6 503.4,561.4 506.0,564.4 499.0,567.2" fill="#fff" stroke="#332a2a" stroke-width="0.61" stroke-linejoin="round" />
<path d="M437.8,504.6 Q438.4,498.6 449.8,498.2 Q461.4,498.6 462,504.6 L462,544 A12.1,5.4 0 0 1 437.8,544 Z" fill="#fff" stroke="#332a2a" stroke-width="0.85"/>
<path d="M437.8,517.6 A12.1,4.2 0 0 0 462,517.6 M437.8,521.8 A12.1,4.2 0 0 0 462,521.8" fill="none" stroke="#332a2a" stroke-width="0.61" stroke-linejoin="round" stroke-linecap="round" />
<path d="M437.2,517.6 L437.2,521.8 M462.6,517.6 L462.6,521.8" fill="none" stroke="#332a2a" stroke-width="0.61" stroke-linejoin="round" stroke-linecap="round" />
<rect x="454.8" y="513.6" width="7.6" height="6.4" rx="1.2" fill="#fff" stroke="#332a2a" stroke-width="0.73" />
<ellipse cx="458.6" cy="513.4" rx="2.4" ry="1.2" fill="#fff" stroke="#332a2a" stroke-width="0.55" />
<path d="M445,553.6 L445,477.4 Q445,472.6 448.3,472.6 Q451.6,472.6 451.6,477.4 L451.6,494" fill="none" stroke="#332a2a" stroke-width="4.03" stroke-linecap="butt" stroke-linejoin="round"/>
<path d="M445,553.6 L445,477.4 Q445,472.6 448.3,472.6 Q451.6,472.6 451.6,477.4 L451.6,494" fill="none" stroke="#fff" stroke-width="2.2" stroke-linecap="butt" stroke-linejoin="round"/>
<rect x="443.2" y="491.6" width="3.6" height="5.4" rx="0" fill="#fff" stroke="#332a2a" stroke-width="0.55" />
<rect x="449.8" y="488.6" width="3.6" height="9.6" rx="0" fill="#fff" stroke="#332a2a" stroke-width="0.55" />
<rect x="455.6" y="490.0" width="3.6" height="8.6" rx="0" fill="#fff" stroke="#332a2a" stroke-width="0.55" />
<path d="M456,526 Q462.4,527.6 462.4,533 L462.4,536" fill="none" stroke="#332a2a" stroke-width="3.05" stroke-linecap="butt" stroke-linejoin="round"/>
<path d="M456,526 Q462.4,527.6 462.4,533 L462.4,536" fill="none" stroke="#fff" stroke-width="1.6" stroke-linecap="butt" stroke-linejoin="round"/>
<polygon points="452.6,536.6 458.4,534.8 461.6,537.6 460.6,541.2 455.0,542.6 452.2,540.0" fill="#fff" stroke="#332a2a" stroke-width="0.61" stroke-linejoin="round" />
<polygon points="441.6,556.6 448.6,553.6 455.8,557.6 448.8,561.4" fill="#fff" stroke="#332a2a" stroke-width="0.61" stroke-linejoin="round" />
<circle cx="448.6" cy="557.6" r="1.2" fill="#fff" stroke="#332a2a" stroke-width="0.49"/>
<polygon points="399.4,446.4 401.6,444.4 405.6,445.0 407.4,447.4 405.2,451.2 401.2,451.4" fill="#fff" stroke="#332a2a" stroke-width="0.67" stroke-linejoin="round" />
<path d="M400.6,448.4 L406.4,447.2" fill="none" stroke="#332a2a" stroke-width="0.49" stroke-linejoin="round" stroke-linecap="round" />
<path d="M403.6,451.4 Q404,455.6 406.2,457.2 Q408.6,458.6 410.2,458" fill="none" stroke="#332a2a" stroke-width="0.61" stroke-linejoin="round" stroke-linecap="round" />
<path d="M427.6,470 L427.6,409 Q427.6,401.4 435,401.4 Q444.4,401.4 444.4,409 L444.4,417" fill="none" stroke="#332a2a" stroke-width="5.12" stroke-linecap="butt" stroke-linejoin="round"/>
<path d="M427.6,470 L427.6,409 Q427.6,401.4 435,401.4 Q444.4,401.4 444.4,409 L444.4,417" fill="none" stroke="#fff" stroke-width="3.0" stroke-linecap="butt" stroke-linejoin="round"/>
<polygon points="437.4,420.0 446.4,416.4 451.2,419.4 451.2,430.6 442.4,433.6 437.4,430.6" fill="#fff" stroke="#332a2a" stroke-width="0.73" stroke-linejoin="round" />
<polyline points="437.4,420.0 442.4,423.0 451.2,419.4" fill="none" stroke="#332a2a" stroke-width="0.55" stroke-linejoin="round" stroke-linecap="round" />
<line x1="442.4" y1="423.0" x2="442.4" y2="433.6" stroke="#332a2a" stroke-width="0.55"/>
<ellipse cx="434.6" cy="423.6" rx="2.6" ry="3.2" fill="#fff" stroke="#332a2a" stroke-width="0.61" />
<circle cx="447.6" cy="427.6" r="1.1" fill="#fff" stroke="#332a2a" stroke-width="0.49"/>
<ellipse cx="458.4" cy="426.6" rx="3.2" ry="3.8" fill="#fff" stroke="#332a2a" stroke-width="0.61" />
<ellipse cx="458.8" cy="426.6" rx="1.7" ry="2.2" fill="#fff" stroke="#332a2a" stroke-width="0.55" />
<path d="M470.8,371 Q477.6,376 477.6,384 L476.6,428 Q474.4,448.6 463,450 Q452.4,449.4 451.4,438" fill="none" stroke="#332a2a" stroke-width="5.12" stroke-linecap="butt" stroke-linejoin="round"/>
<path d="M470.8,371 Q477.6,376 477.6,384 L476.6,428 Q474.4,448.6 463,450 Q452.4,449.4 451.4,438" fill="none" stroke="#fff" stroke-width="3.0" stroke-linecap="butt" stroke-linejoin="round"/>
<rect x="454.2" y="381.6" width="7.6" height="7.4" rx="1" fill="#fff" stroke="#332a2a" stroke-width="0.73" />
<line x1="456.9" y1="381.6" x2="456.9" y2="389.0" stroke="#332a2a" stroke-width="0.49"/>
<line x1="459.5" y1="381.6" x2="459.5" y2="389.0" stroke="#332a2a" stroke-width="0.49"/>
<rect x="462.4" y="376.4" width="7.6" height="8.6" rx="1" fill="#fff" stroke="#332a2a" stroke-width="0.73" />
<line x1="465.1" y1="376.4" x2="465.1" y2="385.0" stroke="#332a2a" stroke-width="0.49"/>
<line x1="467.7" y1="376.4" x2="467.7" y2="385.0" stroke="#332a2a" stroke-width="0.49"/>
<rect x="465.4" y="392.4" width="8.6" height="8.4" rx="1" fill="#fff" stroke="#332a2a" stroke-width="0.73" />
<line x1="468.4" y1="392.4" x2="468.4" y2="400.8" stroke="#332a2a" stroke-width="0.49"/>
<line x1="471.4" y1="392.4" x2="471.4" y2="400.8" stroke="#332a2a" stroke-width="0.49"/>
<rect x="458.6" y="389.4" width="6.4" height="6.4" rx="1" fill="#fff" stroke="#332a2a" stroke-width="0.73" />
<line x1="460.8" y1="389.4" x2="460.8" y2="395.8" stroke="#332a2a" stroke-width="0.49"/>
<line x1="463.1" y1="389.4" x2="463.1" y2="395.8" stroke="#332a2a" stroke-width="0.49"/>
<ellipse cx="458.0" cy="381.4" rx="3.8" ry="1.6" fill="#fff" stroke="#332a2a" stroke-width="0.61" />
<ellipse cx="466.2" cy="376.2" rx="3.8" ry="1.6" fill="#fff" stroke="#332a2a" stroke-width="0.61" />
<path d="M466.4,366 Q462.6,370 461.8,376" fill="none" stroke="#332a2a" stroke-width="3.17" stroke-linecap="butt" stroke-linejoin="round"/>
<path d="M466.4,366 Q462.6,370 461.8,376" fill="none" stroke="#fff" stroke-width="1.6" stroke-linecap="butt" stroke-linejoin="round"/>
<rect x="487.6" y="362.2" width="4.6" height="9.4" rx="0" fill="#fff" stroke="#332a2a" stroke-width="0.73" />
<rect x="492.6" y="363.4" width="4.4" height="9.0" rx="0" fill="#fff" stroke="#332a2a" stroke-width="0.73" />
<line x1="489.9" y1="362.2" x2="489.9" y2="371.6" stroke="#332a2a" stroke-width="0.49"/>
<polygon points="478.4,370.4 481.0,368.6 489.6,372.8 487.4,375.4" fill="#fff" stroke="#332a2a" stroke-width="0.61" stroke-linejoin="round" />
<rect x="488.4" y="374.4" width="9.6" height="7.2" rx="1" fill="#fff" stroke="#332a2a" stroke-width="0.73" />
<line x1="491.8" y1="374.4" x2="491.8" y2="381.6" stroke="#332a2a" stroke-width="0.49"/>
<line x1="495.1" y1="374.4" x2="495.1" y2="381.6" stroke="#332a2a" stroke-width="0.49"/>
<rect x="487.4" y="383.8" width="8.6" height="8.6" rx="1" fill="#fff" stroke="#332a2a" stroke-width="0.73" />
<line x1="490.4" y1="383.8" x2="490.4" y2="392.4" stroke="#332a2a" stroke-width="0.49"/>
<line x1="493.4" y1="383.8" x2="493.4" y2="392.4" stroke="#332a2a" stroke-width="0.49"/>
<rect x="488.6" y="394.6" width="9.8" height="10.4" rx="1" fill="#fff" stroke="#332a2a" stroke-width="0.73" />
<line x1="492.0" y1="394.6" x2="492.0" y2="405.0" stroke="#332a2a" stroke-width="0.49"/>
<line x1="495.5" y1="394.6" x2="495.5" y2="405.0" stroke="#332a2a" stroke-width="0.49"/>
<rect x="490.4" y="381.4" width="4.6" height="2.6" rx="0" fill="#fff" stroke="#332a2a" stroke-width="0.49" />
<rect x="490.4" y="392.2" width="4.6" height="2.6" rx="0" fill="#fff" stroke="#332a2a" stroke-width="0.49" />
<polygon points="546.7,299.0 579.3,315.6 579.3,330.0 546.7,314.0" fill="#fff" stroke="#332a2a" stroke-width="0.73" stroke-linejoin="round" />
<polygon points="567.0,283.0 601.5,300.4 601.5,327.4 567.0,317.7" fill="#fff" stroke="#332a2a" stroke-width="0.79" stroke-linejoin="round" />
<polygon points="569.2,286.8 599.4,302.0 599.4,324.6 569.2,315.4" fill="#fff" stroke="#332a2a" stroke-width="0.61" stroke-linejoin="round" />
<ellipse cx="578.5" cy="310.3" rx="2.4" ry="2.9" fill="#fff" stroke="#332a2a" stroke-width="0.61" />
<ellipse cx="585.0" cy="313.6" rx="2.4" ry="2.9" fill="#fff" stroke="#332a2a" stroke-width="0.61" />
<ellipse cx="591.6" cy="317.6" rx="2.4" ry="2.9" fill="#fff" stroke="#332a2a" stroke-width="0.61" />
<path d="M584,350 L596,338" fill="none" stroke="#332a2a" stroke-width="13.05" stroke-linecap="butt" stroke-linejoin="round"/>
<path d="M584,350 L596,338" fill="none" stroke="#fff" stroke-width="9.5" stroke-linecap="butt" stroke-linejoin="round"/>
<ellipse cx="586.6" cy="347.8" rx="3.6" ry="6.6" fill="#fff" stroke="#332a2a" stroke-width="0.61" transform="rotate(-38 586.6 347.8)"/>
<ellipse cx="589.2" cy="345.3" rx="3.6" ry="6.6" fill="#fff" stroke="#332a2a" stroke-width="0.61" transform="rotate(-38 589.2 345.3)"/>
<ellipse cx="591.8" cy="342.8" rx="3.6" ry="6.6" fill="#fff" stroke="#332a2a" stroke-width="0.61" transform="rotate(-38 591.8 342.8)"/>
<ellipse cx="594.4" cy="340.3" rx="3.6" ry="6.6" fill="#fff" stroke="#332a2a" stroke-width="0.61" transform="rotate(-38 594.4 340.3)"/>
<path d="M597.6,332 Q602,324.4 612,326 Q622.6,329.6 621.6,340 Q619,350.6 607.4,352.4 Q599,351 596.6,343 Z" fill="#fff" stroke="#332a2a" stroke-width="0.79"/>
<ellipse cx="605.4" cy="339.6" rx="6.4" ry="10.6" fill="#fff" stroke="#332a2a" stroke-width="0.73" transform="rotate(-38 605.4 339.6)"/>
<ellipse cx="605.2" cy="339.8" rx="4.2" ry="7.4" fill="#fff" stroke="#332a2a" stroke-width="0.61" transform="rotate(-38 605.2 339.8)"/>
<path d="M609,327 Q616,329 618.6,336 M613.4,326.6 Q620,330 620.8,338" fill="none" stroke="#332a2a" stroke-width="0.55" stroke-linejoin="round" stroke-linecap="round" />
<path d="M612,350.6 L617.4,345.2 M615.6,349 L620,343" fill="none" stroke="#332a2a" stroke-width="0.55" stroke-linejoin="round" stroke-linecap="round" />
<polygon points="520.3,300.4 528.0,299.7 541.9,306.6 541.9,312.0 535.6,309.0 535.6,513.0 529.2,511.8 525.0,504.4 520.7,502.6 520.3,500.0" fill="#fff" stroke="#332a2a" stroke-width="0.79" stroke-linejoin="round" />
<polyline points="524.4,302.4 524.4,504.0" fill="none" stroke="#332a2a" stroke-width="0.55" stroke-linejoin="round" stroke-linecap="round" />
<polyline points="528.9,304.6 528.9,511.6" fill="none" stroke="#332a2a" stroke-width="0.55" stroke-linejoin="round" stroke-linecap="round" />
<polyline points="519.7,300.4 523.9,302.4 531.0,301.6" fill="none" stroke="#332a2a" stroke-width="0.55" stroke-linejoin="round" stroke-linecap="round" />
<polyline points="532.0,512.4 532.0,312.0" fill="none" stroke="#332a2a" stroke-width="0.49" stroke-linejoin="round" stroke-linecap="round" />
<polygon points="535.6,340.0 562.0,354.0 562.0,533.0 535.6,519.6" fill="#fff" stroke="#332a2a" stroke-width="0.61" stroke-linejoin="round" />
<ellipse cx="550.2" cy="369.0" rx="7.6" ry="10.2" fill="#fff" stroke="#332a2a" stroke-width="0.85" transform="rotate(-12 550.2 369)"/>
<g transform="translate(518.2,528.4) rotate(-22) scale(0.92)">
<path d="M-6,-6.2 L0,-6.2 L0,6.2 L-6,6.2 A2.4,6.2 0 0 1 -6,-6.2 Z" fill="#fff" stroke="#332a2a" stroke-width="0.73"/>
<path d="M-3,-6.8 A2.6,6.8 0 0 0 -3,6.8" fill="none" stroke="#332a2a" stroke-width="0.61"/>
<path d="M8,-8.8 L15.5,-8.8 A3.2,8.8 0 0 1 15.5,8.8 L8,8.8 Z" fill="#fff" stroke="#332a2a" stroke-width="0.73"/>
<path d="M9.6,-8.8 A3.2,8.8 0 0 1 9.6,8.8" fill="none" stroke="#332a2a" stroke-width="0.55"/>
<path d="M11.4,-8.8 A3.2,8.8 0 0 1 11.4,8.8" fill="none" stroke="#332a2a" stroke-width="0.55"/>
<path d="M13.2,-8.8 A3.2,8.8 0 0 1 13.2,8.8" fill="none" stroke="#332a2a" stroke-width="0.55"/>
<path d="M15,-8.8 A3.2,8.8 0 0 1 15,8.8" fill="none" stroke="#332a2a" stroke-width="0.55"/>
<path d="M0,-9.8 L8.2,-9.8 A3.5,9.8 0 0 1 8.2,9.8 L0,9.8 A3.5,9.8 0 0 1 0,-9.8 Z" fill="#fff" stroke="#332a2a" stroke-width="0.79"/>
<ellipse cx="0" cy="0" rx="3.5" ry="9.8" fill="#fff" stroke="#332a2a" stroke-width="0.73"/>
<ellipse cx="0.3" cy="0" rx="2.4" ry="7" fill="none" stroke="#332a2a" stroke-width="0.55"/>
<path d="M4.6,-5.4 L7.6,-5.0" stroke="#2e2626" stroke-width="1.2" fill="none"/>
<path d="M4.6,-1.2 L7.6,-0.7999999999999999" stroke="#2e2626" stroke-width="1.2" fill="none"/>
<path d="M4.6,3 L7.6,3.4" stroke="#2e2626" stroke-width="1.2" fill="none"/>
<path d="M4.6,6.6 L7.6,7.0" stroke="#2e2626" stroke-width="1.2" fill="none"/>
</g>
<g transform="translate(515.6,385) rotate(-29) scale(1.0)">
<path d="M-18,-6.2 L0,-6.2 L0,6.2 L-18,6.2 A2.4,6.2 0 0 1 -18,-6.2 Z" fill="#fff" stroke="#332a2a" stroke-width="0.73"/>
<path d="M-3,-6.8 A2.6,6.8 0 0 0 -3,6.8" fill="none" stroke="#332a2a" stroke-width="0.61"/>
<path d="M8,-8.8 L15.5,-8.8 A3.2,8.8 0 0 1 15.5,8.8 L8,8.8 Z" fill="#fff" stroke="#332a2a" stroke-width="0.73"/>
<path d="M9.6,-8.8 A3.2,8.8 0 0 1 9.6,8.8" fill="none" stroke="#332a2a" stroke-width="0.55"/>
<path d="M11.4,-8.8 A3.2,8.8 0 0 1 11.4,8.8" fill="none" stroke="#332a2a" stroke-width="0.55"/>
<path d="M13.2,-8.8 A3.2,8.8 0 0 1 13.2,8.8" fill="none" stroke="#332a2a" stroke-width="0.55"/>
<path d="M15,-8.8 A3.2,8.8 0 0 1 15,8.8" fill="none" stroke="#332a2a" stroke-width="0.55"/>
<path d="M0,-9.8 L8.2,-9.8 A3.5,9.8 0 0 1 8.2,9.8 L0,9.8 A3.5,9.8 0 0 1 0,-9.8 Z" fill="#fff" stroke="#332a2a" stroke-width="0.79"/>
<ellipse cx="0" cy="0" rx="3.5" ry="9.8" fill="#fff" stroke="#332a2a" stroke-width="0.73"/>
<ellipse cx="0.3" cy="0" rx="2.4" ry="7" fill="none" stroke="#332a2a" stroke-width="0.55"/>
<path d="M4.6,-5.4 L7.6,-5.0" stroke="#2e2626" stroke-width="1.2" fill="none"/>
<path d="M4.6,-1.2 L7.6,-0.7999999999999999" stroke="#2e2626" stroke-width="1.2" fill="none"/>
<path d="M4.6,3 L7.6,3.4" stroke="#2e2626" stroke-width="1.2" fill="none"/>
<path d="M4.6,6.6 L7.6,7.0" stroke="#2e2626" stroke-width="1.2" fill="none"/>
</g>
<path d="M468,318 Q469,311.6 476,311.8 Q484.6,312.6 484.6,322 L484.6,364" fill="none" stroke="#332a2a" stroke-width="3.42" stroke-linecap="butt" stroke-linejoin="round"/>
<path d="M468,318 Q469,311.6 476,311.8 Q484.6,312.6 484.6,322 L484.6,364" fill="none" stroke="#fff" stroke-width="1.8" stroke-linecap="butt" stroke-linejoin="round"/>
<polygon points="562.0,336.4 566.8,333.0 569.4,334.0 569.4,326.6 574.0,324.4 585.5,330.4 585.5,560.0 562.0,560.0" fill="#fff" stroke="#332a2a" stroke-width="0.79" stroke-linejoin="round" />
<polyline points="566.8,333.0 566.8,560.0" fill="none" stroke="#332a2a" stroke-width="0.55" stroke-linejoin="round" stroke-linecap="round" />
<polyline points="571.0,336.0 571.0,560.0" fill="none" stroke="#332a2a" stroke-width="0.55" stroke-linejoin="round" stroke-linecap="round" />
<polyline points="574.0,334.6 574.0,560.0" fill="none" stroke="#332a2a" stroke-width="0.55" stroke-linejoin="round" stroke-linecap="round" />
<polyline points="582.0,332.6 582.0,560.0" fill="none" stroke="#332a2a" stroke-width="0.55" stroke-linejoin="round" stroke-linecap="round" />
<polyline points="569.4,334.0 574.0,334.6 582.0,332.6 585.5,330.4" fill="none" stroke="#332a2a" stroke-width="0.55" stroke-linejoin="round" stroke-linecap="round" />
<polyline points="574.0,324.4 574.0,334.6" fill="none" stroke="#332a2a" stroke-width="0.49" stroke-linejoin="round" stroke-linecap="round" />
<polygon points="528.7,310.8 537.0,308.0 571.0,324.6 562.6,328.4" fill="#fff" stroke="#332a2a" stroke-width="0.73" stroke-linejoin="round" />
<polygon points="528.7,310.8 562.6,328.4 562.6,359.3 528.7,342.0" fill="#fff" stroke="#332a2a" stroke-width="0.79" stroke-linejoin="round" />
<polygon points="556.5,417.0 606.0,392.7 606.0,398.0 556.5,423.0" fill="#fff" stroke="#332a2a" stroke-width="0.61" stroke-linejoin="round" />
<polygon points="548.5,427.3 617.7,392.7 620.5,393.8 620.5,435.4 553.5,472.3 553.5,429.6" fill="#fff" stroke="#332a2a" stroke-width="0.85" stroke-linejoin="round" />
<polyline points="553.5,429.6 620.5,393.8" fill="none" stroke="#332a2a" stroke-width="0.61" stroke-linejoin="round" stroke-linecap="round" />
<polyline points="548.5,427.3 553.5,429.6" fill="none" stroke="#332a2a" stroke-width="0.61" stroke-linejoin="round" stroke-linecap="round" />
<polygon points="548.5,471.0 553.5,472.6 555.4,474.6 555.4,479.0 548.5,479.0" fill="#fff" stroke="#332a2a" stroke-width="0.61" stroke-linejoin="round" />
<polygon points="607.4,440.6 613.0,437.6 613.0,441.4 607.4,444.4" fill="#fff" stroke="#332a2a" stroke-width="0.55" stroke-linejoin="round" />
<path d="M577.3,425.6 Q577.3,423.6 579,422.8 L597.4,413 Q599.2,412.2 599.3,414.2 L600.4,435.8 Q600.4,437.8 598.8,438.8 L581.4,449.4 Q579.6,450.4 579.5,448.4 Z" fill="#fff" stroke="#332a2a" stroke-width="0.85"/>
<polygon points="579.6,426.2 597.6,416.6 598.4,434.6 581.4,445.0" fill="#fff" stroke="#332a2a" stroke-width="0.55" stroke-linejoin="round" />
<polygon points="581.4,427.4 596.2,419.6 596.6,430.0 582.2,438.4" fill="#fff" stroke="#332a2a" stroke-width="0.49" stroke-linejoin="round" />
<path d="M584.6,430.6 L588.4,428.6 M590,427.6 L594,425.6 M585,434 L589,431.8 M590.6,431 L594.6,428.8" fill="none" stroke="#2e2626" stroke-width="0.9" stroke-linejoin="round" stroke-linecap="round" />
<circle cx="584.4" cy="443.4" r="0.6" fill="#3f3636" stroke="#332a2a" stroke-width="0.24"/>
<circle cx="588.6" cy="441.0" r="0.6" fill="#3f3636" stroke="#332a2a" stroke-width="0.24"/>
<circle cx="592.8" cy="438.6" r="0.6" fill="#3f3636" stroke="#332a2a" stroke-width="0.24"/>
<polygon points="557.4,485.4 607.0,454.6 607.0,457.4 561.5,486.6 561.5,490.8 557.4,489.4" fill="#fff" stroke="#332a2a" stroke-width="0.67" stroke-linejoin="round" />
<polygon points="561.5,490.8 607.7,459.2 607.7,456.8 561.5,487.0" fill="#fff" stroke="#332a2a" stroke-width="0.61" stroke-linejoin="round" />
<path d="M588,471 L599.6,462.4 L602.4,463 L591,471.4" fill="none" stroke="#332a2a" stroke-width="0.55" stroke-linejoin="round" stroke-linecap="round" />
<path d="M553.3,497.7 A11,10.2 0 0 0 553.3,517.7 Z" fill="#fff" stroke="#332a2a" stroke-width="0.73"/>
<polygon points="553.3,497.5 619.7,455.4 621.2,456.2 621.2,604.6 553.5,654.2" fill="#fff" stroke="#332a2a" stroke-width="0.85" stroke-linejoin="round" />
<polyline points="548.5,650.8 548.5,653.0 553.5,656.5 553.5,654.2" fill="none" stroke="#332a2a" stroke-width="0.61" stroke-linejoin="round" stroke-linecap="round" />
<polyline points="551.2,520.0 551.2,652.0 553.5,654.2" fill="none" stroke="#332a2a" stroke-width="0.55" stroke-linejoin="round" stroke-linecap="round" />
<polyline points="551.2,652.0 548.5,650.8" fill="none" stroke="#332a2a" stroke-width="0.55" stroke-linejoin="round" stroke-linecap="round" />
<polygon points="567.0,644.2 612.0,611.4 612.0,613.8 567.0,646.6" fill="#fff" stroke="#332a2a" stroke-width="0.55" stroke-linejoin="round" />
<polygon points="31.0,394.8 42.0,392.2 43.2,392.6 43.2,410.0 31.0,404.0" fill="#fff" stroke="#332a2a" stroke-width="0.67" stroke-linejoin="round" />
<polygon points="47.0,393.4 62.4,388.5 62.4,417.0 47.0,410.0" fill="#fff" stroke="#332a2a" stroke-width="0.67" stroke-linejoin="round" />
<path d="M242.4,512.2 Q243,514.4 249,513.6 Q255.4,512.2 255.8,509.4 L259.2,510.6 L259.2,731.6 Q257.6,735.4 249.6,736.6 Q244.4,737 242.6,735.8 Z" fill="#fff" stroke="#332a2a" stroke-width="0.79"/>
<polyline points="255.8,509.4 255.8,505.8" fill="none" stroke="#332a2a" stroke-width="0.61" stroke-linejoin="round" stroke-linecap="round" />
<polygon points="29.2,397.0 242.4,512.2 242.6,735.8 29.2,615.0" fill="#fff" stroke="#332a2a" stroke-width="0.92" stroke-linejoin="round" />
<polyline points="30.6,396.0 243.2,510.6" fill="none" stroke="#332a2a" stroke-width="0.55" stroke-linejoin="round" stroke-linecap="round" />
<path d="M29.2,397 Q29.4,395.4 31,394.8" fill="none" stroke="#332a2a" stroke-width="0.73" stroke-linejoin="round" stroke-linecap="round" />
<clipPath id="gc0"><polygon points="29.6,423.2 55.0,437.0 55.0,629.2 29.6,615.4"/></clipPath>
<g clip-path="url(#gc0)">
<polygon points="29.6,423.2 55.0,437.0 55.0,629.2 29.6,615.4" fill="url(#grillF)"/>
<polygon points="29.6,454.2 55.0,468.0 55.0,477.0 29.6,463.2" fill="#fff" fill-opacity="0.22"/>
<polygon points="29.6,438.8 55.0,452.6 55.0,456.6 29.6,442.8" fill="#fff" fill-opacity="0.1"/>
<polygon points="29.6,489.0 55.0,502.8 55.0,511.8 29.6,498.0" fill="#fff" fill-opacity="0.22"/>
<polygon points="29.6,473.6 55.0,487.4 55.0,491.4 29.6,477.6" fill="#fff" fill-opacity="0.1"/>
<polygon points="29.6,523.8 55.0,537.6 55.0,546.6 29.6,532.8" fill="#fff" fill-opacity="0.22"/>
<polygon points="29.6,508.4 55.0,522.2 55.0,526.2 29.6,512.4" fill="#fff" fill-opacity="0.1"/>
<polygon points="29.6,558.6 55.0,572.4 55.0,581.4 29.6,567.6" fill="#fff" fill-opacity="0.22"/>
<polygon points="29.6,543.2 55.0,557.0 55.0,561.0 29.6,547.2" fill="#fff" fill-opacity="0.1"/>
<polygon points="29.6,593.4 55.0,607.2 55.0,616.2 29.6,602.4" fill="#fff" fill-opacity="0.22"/>
<polygon points="29.6,578.0 55.0,591.8 55.0,595.8 29.6,582.0" fill="#fff" fill-opacity="0.1"/>
</g>
<clipPath id="gc1"><polygon points="58.2,438.8 85.0,453.4 85.0,645.6 58.2,631.0"/></clipPath>
<g clip-path="url(#gc1)">
<polygon points="58.2,438.8 85.0,453.4 85.0,645.6 58.2,631.0" fill="url(#grillF)"/>
<polygon points="58.2,469.8 85.0,484.4 85.0,493.4 58.2,478.8" fill="#fff" fill-opacity="0.22"/>
<polygon points="58.2,454.4 85.0,469.0 85.0,473.0 58.2,458.4" fill="#fff" fill-opacity="0.1"/>
<polygon points="58.2,504.6 85.0,519.2 85.0,528.2 58.2,513.6" fill="#fff" fill-opacity="0.22"/>
<polygon points="58.2,489.2 85.0,503.8 85.0,507.8 58.2,493.2" fill="#fff" fill-opacity="0.1"/>
<polygon points="58.2,539.4 85.0,554.0 85.0,563.0 58.2,548.4" fill="#fff" fill-opacity="0.22"/>
<polygon points="58.2,524.0 85.0,538.6 85.0,542.6 58.2,528.0" fill="#fff" fill-opacity="0.1"/>
<polygon points="58.2,574.2 85.0,588.8 85.0,597.8 58.2,583.2" fill="#fff" fill-opacity="0.22"/>
<polygon points="58.2,558.8 85.0,573.4 85.0,577.4 58.2,562.8" fill="#fff" fill-opacity="0.1"/>
<polygon points="58.2,609.0 85.0,623.6 85.0,632.6 58.2,618.0" fill="#fff" fill-opacity="0.22"/>
<polygon points="58.2,593.6 85.0,608.2 85.0,612.2 58.2,597.6" fill="#fff" fill-opacity="0.1"/>
</g>
<clipPath id="gc2"><polygon points="88.2,455.1 115.4,470.0 115.4,662.2 88.2,647.3"/></clipPath>
<g clip-path="url(#gc2)">
<polygon points="88.2,455.1 115.4,470.0 115.4,662.2 88.2,647.3" fill="url(#grillF)"/>
<polygon points="88.2,486.1 115.4,501.0 115.4,510.0 88.2,495.1" fill="#fff" fill-opacity="0.22"/>
<polygon points="88.2,470.7 115.4,485.6 115.4,489.6 88.2,474.7" fill="#fff" fill-opacity="0.1"/>
<polygon points="88.2,520.9 115.4,535.8 115.4,544.8 88.2,529.9" fill="#fff" fill-opacity="0.22"/>
<polygon points="88.2,505.5 115.4,520.4 115.4,524.4 88.2,509.5" fill="#fff" fill-opacity="0.1"/>
<polygon points="88.2,555.7 115.4,570.6 115.4,579.6 88.2,564.7" fill="#fff" fill-opacity="0.22"/>
<polygon points="88.2,540.3 115.4,555.2 115.4,559.2 88.2,544.3" fill="#fff" fill-opacity="0.1"/>
<polygon points="88.2,590.5 115.4,605.4 115.4,614.4 88.2,599.5" fill="#fff" fill-opacity="0.22"/>
<polygon points="88.2,575.1 115.4,590.0 115.4,594.0 88.2,579.1" fill="#fff" fill-opacity="0.1"/>
<polygon points="88.2,625.3 115.4,640.2 115.4,649.2 88.2,634.3" fill="#fff" fill-opacity="0.22"/>
<polygon points="88.2,609.9 115.4,624.8 115.4,628.8 88.2,613.9" fill="#fff" fill-opacity="0.1"/>
</g>
<clipPath id="gc3"><polygon points="118.6,471.7 144.6,485.9 144.6,678.1 118.6,663.9"/></clipPath>
<g clip-path="url(#gc3)">
<polygon points="118.6,471.7 144.6,485.9 144.6,678.1 118.6,663.9" fill="url(#grillF)"/>
<polygon points="118.6,502.7 144.6,516.9 144.6,525.9 118.6,511.7" fill="#fff" fill-opacity="0.22"/>
<polygon points="118.6,487.3 144.6,501.5 144.6,505.5 118.6,491.3" fill="#fff" fill-opacity="0.1"/>
<polygon points="118.6,537.5 144.6,551.7 144.6,560.7 118.6,546.5" fill="#fff" fill-opacity="0.22"/>
<polygon points="118.6,522.1 144.6,536.3 144.6,540.3 118.6,526.1" fill="#fff" fill-opacity="0.1"/>
<polygon points="118.6,572.3 144.6,586.5 144.6,595.5 118.6,581.3" fill="#fff" fill-opacity="0.22"/>
<polygon points="118.6,556.9 144.6,571.1 144.6,575.1 118.6,560.9" fill="#fff" fill-opacity="0.1"/>
<polygon points="118.6,607.1 144.6,621.3 144.6,630.3 118.6,616.1" fill="#fff" fill-opacity="0.22"/>
<polygon points="118.6,591.7 144.6,605.9 144.6,609.9 118.6,595.7" fill="#fff" fill-opacity="0.1"/>
<polygon points="118.6,641.9 144.6,656.1 144.6,665.1 118.6,650.9" fill="#fff" fill-opacity="0.22"/>
<polygon points="118.6,626.5 144.6,640.7 144.6,644.7 118.6,630.5" fill="#fff" fill-opacity="0.1"/>
</g>
<clipPath id="gc4"><polygon points="147.8,487.6 176.2,503.1 176.2,695.3 147.8,679.8"/></clipPath>
<g clip-path="url(#gc4)">
<polygon points="147.8,487.6 176.2,503.1 176.2,695.3 147.8,679.8" fill="url(#grillF)"/>
<polygon points="147.8,518.6 176.2,534.1 176.2,543.1 147.8,527.6" fill="#fff" fill-opacity="0.22"/>
<polygon points="147.8,503.2 176.2,518.7 176.2,522.7 147.8,507.2" fill="#fff" fill-opacity="0.1"/>
<polygon points="147.8,553.4 176.2,568.9 176.2,577.9 147.8,562.4" fill="#fff" fill-opacity="0.22"/>
<polygon points="147.8,538.0 176.2,553.5 176.2,557.5 147.8,542.0" fill="#fff" fill-opacity="0.1"/>
<polygon points="147.8,588.2 176.2,603.7 176.2,612.7 147.8,597.2" fill="#fff" fill-opacity="0.22"/>
<polygon points="147.8,572.8 176.2,588.3 176.2,592.3 147.8,576.8" fill="#fff" fill-opacity="0.1"/>
<polygon points="147.8,623.0 176.2,638.5 176.2,647.5 147.8,632.0" fill="#fff" fill-opacity="0.22"/>
<polygon points="147.8,607.6 176.2,623.1 176.2,627.1 147.8,611.6" fill="#fff" fill-opacity="0.1"/>
<polygon points="147.8,657.8 176.2,673.3 176.2,682.3 147.8,666.8" fill="#fff" fill-opacity="0.22"/>
<polygon points="147.8,642.4 176.2,657.9 176.2,661.9 147.8,646.4" fill="#fff" fill-opacity="0.1"/>
</g>
<rect x="55.9" y="441.5" width="1.4" height="14.6" rx="0.7" fill="#fff" stroke="#5a5252" stroke-width="0.4" />
<rect x="55.9" y="458.9" width="1.4" height="14.6" rx="0.7" fill="#fff" stroke="#5a5252" stroke-width="0.4" />
<rect x="55.9" y="476.3" width="1.4" height="14.6" rx="0.7" fill="#fff" stroke="#5a5252" stroke-width="0.4" />
<rect x="55.9" y="493.7" width="1.4" height="14.6" rx="0.7" fill="#fff" stroke="#5a5252" stroke-width="0.4" />
<rect x="55.9" y="511.1" width="1.4" height="14.6" rx="0.7" fill="#fff" stroke="#5a5252" stroke-width="0.4" />
<rect x="55.9" y="528.5" width="1.4" height="14.6" rx="0.7" fill="#fff" stroke="#5a5252" stroke-width="0.4" />
<rect x="55.9" y="545.9" width="1.4" height="14.6" rx="0.7" fill="#fff" stroke="#5a5252" stroke-width="0.4" />
<rect x="55.9" y="563.3" width="1.4" height="14.6" rx="0.7" fill="#fff" stroke="#5a5252" stroke-width="0.4" />
<rect x="55.9" y="580.7" width="1.4" height="14.6" rx="0.7" fill="#fff" stroke="#5a5252" stroke-width="0.4" />
<rect x="55.9" y="598.1" width="1.4" height="14.6" rx="0.7" fill="#fff" stroke="#5a5252" stroke-width="0.4" />
<rect x="55.9" y="615.5" width="1.4" height="14.6" rx="0.7" fill="#fff" stroke="#5a5252" stroke-width="0.4" />
<rect x="85.9" y="457.9" width="1.4" height="14.6" rx="0.7" fill="#fff" stroke="#5a5252" stroke-width="0.4" />
<rect x="85.9" y="475.3" width="1.4" height="14.6" rx="0.7" fill="#fff" stroke="#5a5252" stroke-width="0.4" />
<rect x="85.9" y="492.7" width="1.4" height="14.6" rx="0.7" fill="#fff" stroke="#5a5252" stroke-width="0.4" />
<rect x="85.9" y="510.1" width="1.4" height="14.6" rx="0.7" fill="#fff" stroke="#5a5252" stroke-width="0.4" />
<rect x="85.9" y="527.5" width="1.4" height="14.6" rx="0.7" fill="#fff" stroke="#5a5252" stroke-width="0.4" />
<rect x="85.9" y="544.9" width="1.4" height="14.6" rx="0.7" fill="#fff" stroke="#5a5252" stroke-width="0.4" />
<rect x="85.9" y="562.3" width="1.4" height="14.6" rx="0.7" fill="#fff" stroke="#5a5252" stroke-width="0.4" />
<rect x="85.9" y="579.7" width="1.4" height="14.6" rx="0.7" fill="#fff" stroke="#5a5252" stroke-width="0.4" />
<rect x="85.9" y="597.1" width="1.4" height="14.6" rx="0.7" fill="#fff" stroke="#5a5252" stroke-width="0.4" />
<rect x="85.9" y="614.5" width="1.4" height="14.6" rx="0.7" fill="#fff" stroke="#5a5252" stroke-width="0.4" />
<rect x="85.9" y="631.9" width="1.4" height="14.6" rx="0.7" fill="#fff" stroke="#5a5252" stroke-width="0.4" />
<rect x="116.3" y="474.4" width="1.4" height="14.6" rx="0.7" fill="#fff" stroke="#5a5252" stroke-width="0.4" />
<rect x="116.3" y="491.8" width="1.4" height="14.6" rx="0.7" fill="#fff" stroke="#5a5252" stroke-width="0.4" />
<rect x="116.3" y="509.2" width="1.4" height="14.6" rx="0.7" fill="#fff" stroke="#5a5252" stroke-width="0.4" />
<rect x="116.3" y="526.6" width="1.4" height="14.6" rx="0.7" fill="#fff" stroke="#5a5252" stroke-width="0.4" />
<rect x="116.3" y="544.0" width="1.4" height="14.6" rx="0.7" fill="#fff" stroke="#5a5252" stroke-width="0.4" />
<rect x="116.3" y="561.4" width="1.4" height="14.6" rx="0.7" fill="#fff" stroke="#5a5252" stroke-width="0.4" />
<rect x="116.3" y="578.8" width="1.4" height="14.6" rx="0.7" fill="#fff" stroke="#5a5252" stroke-width="0.4" />
<rect x="116.3" y="596.2" width="1.4" height="14.6" rx="0.7" fill="#fff" stroke="#5a5252" stroke-width="0.4" />
<rect x="116.3" y="613.6" width="1.4" height="14.6" rx="0.7" fill="#fff" stroke="#5a5252" stroke-width="0.4" />
<rect x="116.3" y="631.0" width="1.4" height="14.6" rx="0.7" fill="#fff" stroke="#5a5252" stroke-width="0.4" />
<rect x="116.3" y="648.4" width="1.4" height="14.6" rx="0.7" fill="#fff" stroke="#5a5252" stroke-width="0.4" />
<rect x="145.5" y="490.3" width="1.4" height="14.6" rx="0.7" fill="#fff" stroke="#5a5252" stroke-width="0.4" />
<rect x="145.5" y="507.7" width="1.4" height="14.6" rx="0.7" fill="#fff" stroke="#5a5252" stroke-width="0.4" />
<rect x="145.5" y="525.1" width="1.4" height="14.6" rx="0.7" fill="#fff" stroke="#5a5252" stroke-width="0.4" />
<rect x="145.5" y="542.5" width="1.4" height="14.6" rx="0.7" fill="#fff" stroke="#5a5252" stroke-width="0.4" />
<rect x="145.5" y="559.9" width="1.4" height="14.6" rx="0.7" fill="#fff" stroke="#5a5252" stroke-width="0.4" />
<rect x="145.5" y="577.3" width="1.4" height="14.6" rx="0.7" fill="#fff" stroke="#5a5252" stroke-width="0.4" />
<rect x="145.5" y="594.7" width="1.4" height="14.6" rx="0.7" fill="#fff" stroke="#5a5252" stroke-width="0.4" />
<rect x="145.5" y="612.1" width="1.4" height="14.6" rx="0.7" fill="#fff" stroke="#5a5252" stroke-width="0.4" />
<rect x="145.5" y="629.5" width="1.4" height="14.6" rx="0.7" fill="#fff" stroke="#5a5252" stroke-width="0.4" />
<rect x="145.5" y="646.9" width="1.4" height="14.6" rx="0.7" fill="#fff" stroke="#5a5252" stroke-width="0.4" />
<rect x="145.5" y="664.3" width="1.4" height="14.6" rx="0.7" fill="#fff" stroke="#5a5252" stroke-width="0.4" />
<line x1="176.6" y1="503.3" x2="176.6" y2="695.5" stroke="#5a5252" stroke-width="0.4"/>
<rect x="28.5" y="762.8" width="264.5" height="109.6" rx="0" fill="none" stroke="#4a4545" stroke-width="0.7" />
<polyline points="298.3,877.8 22.8,877.8 22.8,768.7 298.3,768.7 298.3,877.8 405.5,877.8 405.5,819.2 298.3,819.2" fill="none" stroke="#4a4545" stroke-width="0.7" stroke-linejoin="round" stroke-linecap="round" />
<polyline points="293.0,813.8 400.0,813.8 400.0,872.4 22.8,872.4" fill="none" stroke="#4a4545" stroke-width="0.7" stroke-linejoin="round" stroke-linecap="round" />
<polyline points="56.3,872.4 56.3,858.0 269.5,858.0 269.5,872.4" fill="none" stroke="#4a4545" stroke-width="0.6" stroke-linejoin="round" stroke-linecap="round" />
<rect x="60.0" y="779.3" width="102.6" height="74.7" rx="0" fill="#fff" stroke="#4a4545" stroke-width="0.7" />
<circle cx="63.7" cy="781.8" r="0.9" fill="#fff" stroke="#4a4545" stroke-width="0.45"/>
<circle cx="159.0" cy="781.8" r="0.9" fill="#fff" stroke="#4a4545" stroke-width="0.45"/>
<circle cx="63.7" cy="850.2" r="0.9" fill="#fff" stroke="#4a4545" stroke-width="0.45"/>
<circle cx="159.0" cy="850.2" r="0.9" fill="#fff" stroke="#4a4545" stroke-width="0.45"/>
<circle cx="74.0" cy="789.6" r="5.3" fill="#fff" stroke="#4a4545" stroke-width="0.55"/>
<circle cx="74.0" cy="789.6" r="3.9" fill="#fff" stroke="#4a4545" stroke-width="0.45"/>
<line x1="70.1" y1="789.6" x2="77.9" y2="789.6" stroke="#4a4545" stroke-width="0.4"/>
<line x1="74.0" y1="785.7" x2="74.0" y2="793.5" stroke="#4a4545" stroke-width="0.4"/>
<line x1="72.0" y1="786.4" x2="72.0" y2="792.8" stroke="#4a4545" stroke-width="0.3"/>
<line x1="76.0" y1="786.4" x2="76.0" y2="792.8" stroke="#4a4545" stroke-width="0.3"/>
<ellipse cx="82.6" cy="783.0" rx="2.4" ry="0.9" fill="#fff" stroke="#4a4545" stroke-width="0.45" />
<rect x="61.0" y="786.7" width="3.4" height="6.1" rx="0" fill="#fff" stroke="#4a4545" stroke-width="0.5" />
<rect x="61.0" y="793.6" width="3.6" height="9.1" rx="0" fill="#fff" stroke="#4a4545" stroke-width="0.5" />
<rect x="61.0" y="812.5" width="3.6" height="8.7" rx="0" fill="#fff" stroke="#4a4545" stroke-width="0.5" />
<rect x="95.0" y="786.0" width="9.8" height="11.8" rx="0" fill="#fff" stroke="#4a4545" stroke-width="0.5" />
<line x1="97.4" y1="786.0" x2="97.4" y2="797.8" stroke="#4a4545" stroke-width="0.35"/>
<line x1="99.9" y1="786.0" x2="99.9" y2="797.8" stroke="#4a4545" stroke-width="0.35"/>
<line x1="102.4" y1="786.0" x2="102.4" y2="797.8" stroke="#4a4545" stroke-width="0.35"/>
<ellipse cx="108.5" cy="794.4" rx="0.8" ry="3.4" fill="#fff" stroke="#4a4545" stroke-width="0.45" />
<rect x="111.7" y="780.5" width="3.1" height="5.0" rx="0" fill="#fff" stroke="#4a4545" stroke-width="0.45" />
<circle cx="113.2" cy="787.8" r="1.0" fill="#fff" stroke="#3a3535" stroke-width="0.6"/>
<rect x="115.7" y="780.5" width="3.1" height="5.0" rx="0" fill="#fff" stroke="#4a4545" stroke-width="0.45" />
<circle cx="117.2" cy="787.8" r="1.0" fill="#fff" stroke="#3a3535" stroke-width="0.6"/>
<rect x="119.6" y="780.5" width="3.1" height="5.0" rx="0" fill="#fff" stroke="#4a4545" stroke-width="0.45" />
<circle cx="121.2" cy="787.8" r="1.0" fill="#fff" stroke="#3a3535" stroke-width="0.6"/>
<rect x="123.6" y="780.5" width="3.1" height="5.0" rx="0" fill="#fff" stroke="#4a4545" stroke-width="0.45" />
<circle cx="125.1" cy="787.8" r="1.0" fill="#fff" stroke="#3a3535" stroke-width="0.6"/>
<rect x="127.5" y="780.5" width="3.1" height="5.0" rx="0" fill="#fff" stroke="#4a4545" stroke-width="0.45" />
<circle cx="129.1" cy="787.8" r="1.0" fill="#fff" stroke="#3a3535" stroke-width="0.6"/>
<rect x="131.4" y="780.5" width="3.1" height="5.0" rx="0" fill="#fff" stroke="#4a4545" stroke-width="0.45" />
<circle cx="133.0" cy="787.8" r="1.0" fill="#fff" stroke="#3a3535" stroke-width="0.6"/>
<rect x="135.4" y="780.5" width="3.1" height="5.0" rx="0" fill="#fff" stroke="#4a4545" stroke-width="0.45" />
<circle cx="137.0" cy="787.8" r="1.0" fill="#fff" stroke="#3a3535" stroke-width="0.6"/>
<rect x="139.3" y="780.5" width="3.1" height="5.0" rx="0" fill="#fff" stroke="#4a4545" stroke-width="0.45" />
<circle cx="140.9" cy="787.8" r="1.0" fill="#fff" stroke="#3a3535" stroke-width="0.6"/>
<rect x="143.3" y="780.5" width="3.1" height="5.0" rx="0" fill="#fff" stroke="#4a4545" stroke-width="0.45" />
<circle cx="144.9" cy="787.8" r="1.0" fill="#fff" stroke="#3a3535" stroke-width="0.6"/>
<rect x="156.5" y="786.2" width="3.7" height="9.1" rx="0" fill="#fff" stroke="#4a4545" stroke-width="0.5" />
<rect x="156.5" y="804.0" width="4.2" height="17.0" rx="0" fill="#fff" stroke="#4a4545" stroke-width="0.5" />
<rect x="157.0" y="805.0" width="3.2" height="2.2" rx="0" fill="#3a3535" stroke="none" stroke-width="0.0" />
<rect x="157.0" y="808.3" width="3.2" height="2.2" rx="0" fill="#3a3535" stroke="none" stroke-width="0.0" />
<rect x="157.0" y="811.6" width="3.2" height="2.2" rx="0" fill="#3a3535" stroke="none" stroke-width="0.0" />
<rect x="157.0" y="814.9" width="3.2" height="2.2" rx="0" fill="#3a3535" stroke="none" stroke-width="0.0" />
<rect x="157.0" y="818.2" width="3.2" height="2.2" rx="0" fill="#3a3535" stroke="none" stroke-width="0.0" />
<rect x="157.2" y="827.3" width="3.5" height="11.1" rx="0" fill="#fff" stroke="#4a4545" stroke-width="0.5" />
<line x1="157.2" y1="832.8" x2="160.7" y2="832.8" stroke="#4a4545" stroke-width="0.35"/>
<rect x="157.7" y="840.0" width="3.0" height="3.0" rx="0" fill="#fff" stroke="#4a4545" stroke-width="0.4" />
<circle cx="117.0" cy="794.0" r="1.6" fill="#fff" stroke="#3a3535" stroke-width="0.7"/>
<circle cx="117.0" cy="794.0" r="0.7" fill="#fff" stroke="#4a4545" stroke-width="0.35"/>
<circle cx="71.0" cy="804.4" r="1.2" fill="#fff" stroke="#3a3535" stroke-width="0.7"/>
<circle cx="83.8" cy="802.0" r="2.2" fill="#fff" stroke="#3a3535" stroke-width="0.7"/>
<circle cx="83.8" cy="802.0" r="1.0" fill="#fff" stroke="#4a4545" stroke-width="0.35"/>
<circle cx="72.8" cy="817.5" r="2.2" fill="#fff" stroke="#3a3535" stroke-width="0.7"/>
<circle cx="72.8" cy="817.5" r="1.0" fill="#fff" stroke="#4a4545" stroke-width="0.35"/>
<circle cx="82.6" cy="818.0" r="1.6" fill="#fff" stroke="#3a3535" stroke-width="0.7"/>
<circle cx="82.6" cy="818.0" r="0.7" fill="#fff" stroke="#4a4545" stroke-width="0.35"/>
<circle cx="93.7" cy="820.0" r="1.6" fill="#fff" stroke="#3a3535" stroke-width="0.7"/>
<circle cx="93.7" cy="820.0" r="0.7" fill="#fff" stroke="#4a4545" stroke-width="0.35"/>
<circle cx="117.0" cy="810.0" r="1.6" fill="#fff" stroke="#3a3535" stroke-width="0.7"/>
<circle cx="117.0" cy="810.0" r="0.7" fill="#fff" stroke="#4a4545" stroke-width="0.35"/>
<circle cx="129.4" cy="808.0" r="1.6" fill="#fff" stroke="#3a3535" stroke-width="0.7"/>
<circle cx="129.4" cy="808.0" r="0.7" fill="#fff" stroke="#4a4545" stroke-width="0.35"/>
<rect x="74.5" y="797.8" width="3.2" height="4.9" rx="0" fill="#fff" stroke="#4a4545" stroke-width="0.45" />
<rect x="113.4" y="799.5" width="6.9" height="5.7" rx="0" fill="#fff" stroke="#3a3535" stroke-width="1.0" />
<rect x="114.6" y="800.7" width="4.5" height="3.3" rx="0" fill="#fff" stroke="#3a3535" stroke-width="0.4" />
<path d="M113.2,798.6 L120.4,798.6 M113.2,806 L120.4,806" fill="none" stroke="#3a3535" stroke-width="0.8" stroke-linejoin="round" stroke-linecap="round" stroke-dasharray="1 0.8"/>
<rect x="131.8" y="795.3" width="5.0" height="5.3" rx="0" fill="#fff" stroke="#3a3535" stroke-width="1.0" />
<rect x="133.0" y="796.5" width="2.6" height="2.9" rx="0" fill="#fff" stroke="#3a3535" stroke-width="0.4" />
<rect x="145.4" y="811.3" width="4.9" height="5.1" rx="0" fill="#fff" stroke="#3a3535" stroke-width="1.0" />
<rect x="146.6" y="812.5" width="2.5" height="2.7" rx="0" fill="#fff" stroke="#3a3535" stroke-width="0.4" />
<rect x="140.5" y="804.0" width="6.1" height="4.4" rx="0" fill="#fff" stroke="#4a4545" stroke-width="0.45" />
<rect x="141.6" y="805.2" width="3.8" height="1.6" rx="0" fill="#888" stroke="none" stroke-width="0.0" />
<polygon points="126.0,813.6 132.0,813.6 134.4,816.0 134.4,821.0 132.0,823.2 126.0,823.2 123.6,821.0 123.6,816.0" fill="#fff" stroke="#3a3535" stroke-width="1.3" stroke-linejoin="round" />
<rect x="126.2" y="816.0" width="5.6" height="5.0" rx="0" fill="#fff" stroke="#3a3535" stroke-width="0.4" />
<rect x="107.2" y="807.0" width="3.8" height="13.0" rx="0" fill="#6a6565" stroke="#3a3535" stroke-width="0.4" />
<rect x="99.0" y="808.4" width="4.0" height="3.2" rx="0" fill="#fff" stroke="#4a4545" stroke-width="0.4" />
<rect x="99.0" y="813.2" width="4.0" height="3.2" rx="0" fill="#fff" stroke="#4a4545" stroke-width="0.4" />
<rect x="99.0" y="818.0" width="4.0" height="3.2" rx="0" fill="#fff" stroke="#4a4545" stroke-width="0.4" />
<rect x="66.0" y="824.0" width="13.7" height="12.4" rx="0" fill="#fff" stroke="#4a4545" stroke-width="0.55" />
<circle cx="72.9" cy="830.2" r="4.0" fill="#fff" stroke="#4a4545" stroke-width="0.5"/>
<rect x="91.2" y="828.5" width="8.2" height="3.2" rx="0" fill="#fff" stroke="#4a4545" stroke-width="0.45" />
<rect x="110.4" y="827.3" width="5.4" height="4.4" rx="1.4" fill="#fff" stroke="#3a3535" stroke-width="1.0" />
<rect x="124.5" y="827.3" width="6.1" height="4.4" rx="1.4" fill="#fff" stroke="#3a3535" stroke-width="1.0" />
<rect x="118.3" y="828.0" width="3.7" height="3.0" rx="0" fill="#fff" stroke="#4a4545" stroke-width="0.4" />
<rect x="135.6" y="830.5" width="8.6" height="3.0" rx="0" fill="#fff" stroke="#4a4545" stroke-width="0.45" />
<rect x="71.5" y="838.9" width="4.5" height="11.3" rx="1.5" fill="#fff" stroke="#4a4545" stroke-width="0.5" />
<rect x="83.4" y="837.0" width="6.6" height="11.7" rx="0" fill="#fff" stroke="#4a4545" stroke-width="0.5" />
<rect x="92.5" y="839.6" width="7.4" height="9.9" rx="0" fill="#fff" stroke="#4a4545" stroke-width="0.5" />
<rect x="99.9" y="839.6" width="7.4" height="9.9" rx="0" fill="#fff" stroke="#4a4545" stroke-width="0.5" />
<rect x="107.3" y="839.6" width="7.4" height="9.9" rx="0" fill="#fff" stroke="#4a4545" stroke-width="0.5" />
<rect x="114.7" y="839.6" width="7.4" height="9.9" rx="0" fill="#fff" stroke="#4a4545" stroke-width="0.5" />
<rect x="122.1" y="839.6" width="7.4" height="9.9" rx="0" fill="#fff" stroke="#4a4545" stroke-width="0.5" />
<rect x="129.5" y="839.6" width="7.4" height="9.9" rx="0" fill="#fff" stroke="#4a4545" stroke-width="0.5" />
<rect x="139.2" y="835.4" width="13.1" height="15.3" rx="0" fill="#fff" stroke="#4a4545" stroke-width="0.55" />
<polygon points="193.2,777.3 273.2,777.3 280.6,784.7 280.6,843.3 273.2,850.7 193.2,850.7 185.8,843.3 185.8,784.7" fill="#fff" stroke="#4a4545" stroke-width="0.7" stroke-linejoin="round" />
<circle cx="185.0" cy="779.3" r="1.5" fill="#777" stroke="#3a3535" stroke-width="0.6"/>
<circle cx="279.0" cy="779.3" r="1.5" fill="#777" stroke="#3a3535" stroke-width="0.6"/>
<circle cx="185.0" cy="850.0" r="1.5" fill="#777" stroke="#3a3535" stroke-width="0.6"/>
<circle cx="279.0" cy="850.0" r="1.5" fill="#777" stroke="#3a3535" stroke-width="0.6"/>
<rect x="189.0" y="783.0" width="79.3" height="61.5" rx="3" fill="#fff" stroke="#4a4545" stroke-width="0.6" />
<circle cx="191.5" cy="788.0" r="1.1" fill="#555" stroke="#3a3535" stroke-width="0.4"/>
<circle cx="265.8" cy="788.0" r="1.1" fill="#555" stroke="#3a3535" stroke-width="0.4"/>
<circle cx="191.5" cy="814.3" r="1.1" fill="#555" stroke="#3a3535" stroke-width="0.4"/>
<circle cx="191.5" cy="840.8" r="1.1" fill="#555" stroke="#3a3535" stroke-width="0.4"/>
<circle cx="265.8" cy="840.8" r="1.1" fill="#555" stroke="#3a3535" stroke-width="0.4"/>
<rect x="190.8" y="792.0" width="17.2" height="6.5" rx="1.5" fill="#fff" stroke="#4a4545" stroke-width="0.5" />
<rect x="211.2" y="791.0" width="4.2" height="8.0" rx="0" fill="#fff" stroke="#4a4545" stroke-width="0.5" />
<circle cx="227.7" cy="795.3" r="10.3" fill="#fff" stroke="#4a4545" stroke-width="0.6"/>
<circle cx="227.7" cy="795.3" r="8.8" fill="#fff" stroke="#4a4545" stroke-width="0.5"/>
<circle cx="253.0" cy="795.3" r="10.3" fill="#fff" stroke="#4a4545" stroke-width="0.6"/>
<circle cx="253.0" cy="795.3" r="8.8" fill="#fff" stroke="#4a4545" stroke-width="0.5"/>
<circle cx="199.4" cy="813.3" r="1.5" fill="#fff" stroke="#4a4545" stroke-width="0.45"/>
<circle cx="203.1" cy="813.3" r="1.5" fill="#fff" stroke="#4a4545" stroke-width="0.45"/>
<circle cx="206.8" cy="813.3" r="1.5" fill="#fff" stroke="#4a4545" stroke-width="0.45"/>
<circle cx="206.8" cy="820.0" r="1.3" fill="#fff" stroke="#4a4545" stroke-width="0.45"/>
<circle cx="201.4" cy="822.9" r="1.3" fill="#fff" stroke="#4a4545" stroke-width="0.45"/>
<circle cx="212.2" cy="835.2" r="1.3" fill="#fff" stroke="#4a4545" stroke-width="0.45"/>
<circle cx="226.0" cy="831.7" r="1.3" fill="#fff" stroke="#4a4545" stroke-width="0.45"/>
<rect x="216.0" y="810.6" width="13.7" height="3.9" rx="0" fill="#fff" stroke="#4a4545" stroke-width="0.5" />
<path d="M218,823 L223.4,823 M218,824.6 L223.4,824.6 M218,826.2 L223.4,826.2" fill="none" stroke="#3a3535" stroke-width="0.7" stroke-linejoin="round" stroke-linecap="round" stroke-dasharray="0.8 0.7"/>
<circle cx="246.6" cy="814.5" r="2.4" fill="#fff" stroke="#3a3535" stroke-width="0.8"/>
<line x1="244.6" y1="814.5" x2="248.6" y2="814.5" stroke="#3a3535" stroke-width="0.5"/>
<line x1="246.6" y1="812.5" x2="246.6" y2="816.5" stroke="#3a3535" stroke-width="0.5"/>
<rect x="256.0" y="812.5" width="3.7" height="8.7" rx="0" fill="#fff" stroke="#4a4545" stroke-width="0.5" />
<rect x="262.2" y="815.0" width="3.6" height="8.0" rx="0" fill="#fff" stroke="#4a4545" stroke-width="0.5" />
<rect x="251.6" y="825.6" width="13.8" height="5.4" rx="0" fill="#fff" stroke="#4a4545" stroke-width="0.5" />
<polygon points="199.6,827.8 204.8,827.8 207.4,830.4 207.4,836.0 204.8,838.6 199.6,838.6 197.0,836.0 197.0,830.4" fill="#fff" stroke="#3a3535" stroke-width="1.3" stroke-linejoin="round" />
<rect x="199.6" y="830.6" width="5.2" height="5.2" rx="0" fill="#fff" stroke="#3a3535" stroke-width="0.4" />
<polyline points="231.9,825.6 247.4,825.6 247.4,843.3 231.9,843.3 231.9,825.6" fill="none" stroke="#4a4545" stroke-width="0.55" stroke-linejoin="round" stroke-linecap="round" />
<polyline points="233.6,832.0 227.0,832.0 227.0,843.0 231.9,843.0" fill="none" stroke="#4a4545" stroke-width="0.5" stroke-linejoin="round" stroke-linecap="round" />
<line x1="229.4" y1="834.0" x2="229.4" y2="843.0" stroke="#4a4545" stroke-width="0.35"/>
<rect x="246.2" y="834.0" width="8.6" height="8.6" rx="0" fill="#fff" stroke="#4a4545" stroke-width="0.5" />
<circle cx="250.5" cy="838.3" r="2.0" fill="#fff" stroke="#4a4545" stroke-width="0.45"/>
<rect x="258.0" y="834.2" width="4.2" height="6.2" rx="1.2" fill="#fff" stroke="#4a4545" stroke-width="0.45" />
<line x1="256.6" y1="837.3" x2="263.6" y2="837.3" stroke="#4a4545" stroke-width="0.35"/>
<rect x="271.3" y="786.2" width="6.4" height="36.2" rx="0" fill="#fff" stroke="#4a4545" stroke-width="0.55" />
<rect x="272.4" y="787.4" width="4.2" height="33.8" rx="0" fill="#fff" stroke="#4a4545" stroke-width="0.35" />
<circle cx="274.5" cy="789.8" r="0.9" fill="#444" stroke="#3a3535" stroke-width="0.3"/>
<circle cx="274.5" cy="804.4" r="0.9" fill="#444" stroke="#3a3535" stroke-width="0.3"/>
<circle cx="274.5" cy="818.7" r="0.9" fill="#444" stroke="#3a3535" stroke-width="0.3"/>
<rect x="311.5" y="821.6" width="80.5" height="47.6" rx="0" fill="#fff" stroke="#4a4545" stroke-width="0.65" />
<circle cx="315.7" cy="826.8" r="1.5" fill="#fff" stroke="#3a3535" stroke-width="0.55"/>
<line x1="314.3" y1="826.8" x2="317.1" y2="826.8" stroke="#3a3535" stroke-width="0.4"/>
<line x1="315.7" y1="825.4" x2="315.7" y2="828.2" stroke="#3a3535" stroke-width="0.4"/>
<circle cx="351.4" cy="826.8" r="1.5" fill="#fff" stroke="#3a3535" stroke-width="0.55"/>
<line x1="350.0" y1="826.8" x2="352.8" y2="826.8" stroke="#3a3535" stroke-width="0.4"/>
<line x1="351.4" y1="825.4" x2="351.4" y2="828.2" stroke="#3a3535" stroke-width="0.4"/>
<circle cx="387.0" cy="826.8" r="1.5" fill="#fff" stroke="#3a3535" stroke-width="0.55"/>
<line x1="385.6" y1="826.8" x2="388.4" y2="826.8" stroke="#3a3535" stroke-width="0.4"/>
<line x1="387.0" y1="825.4" x2="387.0" y2="828.2" stroke="#3a3535" stroke-width="0.4"/>
<circle cx="315.7" cy="864.2" r="1.5" fill="#fff" stroke="#3a3535" stroke-width="0.55"/>
<line x1="314.3" y1="864.2" x2="317.1" y2="864.2" stroke="#3a3535" stroke-width="0.4"/>
<line x1="315.7" y1="862.8" x2="315.7" y2="865.6" stroke="#3a3535" stroke-width="0.4"/>
<circle cx="351.4" cy="864.2" r="1.5" fill="#fff" stroke="#3a3535" stroke-width="0.55"/>
<line x1="350.0" y1="864.2" x2="352.8" y2="864.2" stroke="#3a3535" stroke-width="0.4"/>
<line x1="351.4" y1="862.8" x2="351.4" y2="865.6" stroke="#3a3535" stroke-width="0.4"/>
<circle cx="387.0" cy="864.2" r="1.5" fill="#fff" stroke="#3a3535" stroke-width="0.55"/>
<line x1="385.6" y1="864.2" x2="388.4" y2="864.2" stroke="#3a3535" stroke-width="0.4"/>
<line x1="387.0" y1="862.8" x2="387.0" y2="865.6" stroke="#3a3535" stroke-width="0.4"/>
<rect x="356.3" y="824.0" width="18.5" height="5.8" rx="0" fill="#fff" stroke="#4a4545" stroke-width="0.5" />
<line x1="360.0" y1="824.0" x2="360.0" y2="829.8" stroke="#4a4545" stroke-width="0.4"/>
<line x1="371.0" y1="824.0" x2="371.0" y2="829.8" stroke="#4a4545" stroke-width="0.4"/>
<line x1="360.0" y1="826.9" x2="371.0" y2="826.9" stroke="#4a4545" stroke-width="0.35"/>
<rect x="317.0" y="837.2" width="7.3" height="17.7" rx="0" fill="#fff" stroke="#4a4545" stroke-width="0.5" />
<rect x="379.2" y="837.2" width="7.4" height="17.8" rx="0" fill="#fff" stroke="#4a4545" stroke-width="0.5" />
<rect x="343.5" y="839.6" width="5.5" height="11.2" rx="0" fill="#fff" stroke="#4a4545" stroke-width="0.5" />
<rect x="348.6" y="837.2" width="7.2" height="16.0" rx="0" fill="#fff" stroke="#4a4545" stroke-width="0.5" />
<rect x="327.3" y="834.7" width="12.3" height="22.6" rx="0" fill="#fff" stroke="#4a4545" stroke-width="0.55" />
<rect x="328.9" y="836.4" width="9.1" height="19.2" rx="0" fill="#fff" stroke="#4a4545" stroke-width="0.35" />
<rect x="329.5" y="837.4" width="7.9" height="1.0" rx="0" fill="#3a3535" stroke="none" stroke-width="0.0" />
<rect x="329.5" y="847.0" width="7.9" height="1.0" rx="0" fill="#3a3535" stroke="none" stroke-width="0.0" />
<rect x="329.5" y="839.1" width="7.9" height="1.0" rx="0" fill="#3a3535" stroke="none" stroke-width="0.0" />
<rect x="329.5" y="848.8" width="7.9" height="1.0" rx="0" fill="#3a3535" stroke="none" stroke-width="0.0" />
<rect x="329.5" y="840.9" width="7.9" height="1.0" rx="0" fill="#3a3535" stroke="none" stroke-width="0.0" />
<rect x="329.5" y="850.5" width="7.9" height="1.0" rx="0" fill="#3a3535" stroke="none" stroke-width="0.0" />
<rect x="329.5" y="842.6" width="7.9" height="1.0" rx="0" fill="#3a3535" stroke="none" stroke-width="0.0" />
<rect x="329.5" y="852.2" width="7.9" height="1.0" rx="0" fill="#3a3535" stroke="none" stroke-width="0.0" />
<rect x="329.5" y="844.4" width="7.9" height="1.0" rx="0" fill="#3a3535" stroke="none" stroke-width="0.0" />
<rect x="329.5" y="854.0" width="7.9" height="1.0" rx="0" fill="#3a3535" stroke="none" stroke-width="0.0" />
<line x1="327.3" y1="846.0" x2="339.6" y2="846.0" stroke="#4a4545" stroke-width="0.4"/>
<rect x="360.5" y="834.7" width="14.3" height="22.6" rx="0" fill="#fff" stroke="#4a4545" stroke-width="0.55" />
<rect x="362.1" y="836.4" width="11.1" height="19.2" rx="0" fill="#fff" stroke="#4a4545" stroke-width="0.35" />
<rect x="362.7" y="837.4" width="9.9" height="1.0" rx="0" fill="#3a3535" stroke="none" stroke-width="0.0" />
<rect x="362.7" y="847.0" width="9.9" height="1.0" rx="0" fill="#3a3535" stroke="none" stroke-width="0.0" />
<rect x="362.7" y="839.1" width="9.9" height="1.0" rx="0" fill="#3a3535" stroke="none" stroke-width="0.0" />
<rect x="362.7" y="848.8" width="9.9" height="1.0" rx="0" fill="#3a3535" stroke="none" stroke-width="0.0" />
<rect x="362.7" y="840.9" width="9.9" height="1.0" rx="0" fill="#3a3535" stroke="none" stroke-width="0.0" />
<rect x="362.7" y="850.5" width="9.9" height="1.0" rx="0" fill="#3a3535" stroke="none" stroke-width="0.0" />
<rect x="362.7" y="842.6" width="9.9" height="1.0" rx="0" fill="#3a3535" stroke="none" stroke-width="0.0" />
<rect x="362.7" y="852.2" width="9.9" height="1.0" rx="0" fill="#3a3535" stroke="none" stroke-width="0.0" />
<rect x="362.7" y="844.4" width="9.9" height="1.0" rx="0" fill="#3a3535" stroke="none" stroke-width="0.0" />
<rect x="362.7" y="854.0" width="9.9" height="1.0" rx="0" fill="#3a3535" stroke="none" stroke-width="0.0" />
<line x1="360.5" y1="846.0" x2="374.8" y2="846.0" stroke="#4a4545" stroke-width="0.4"/>
<text x="86.4" y="749.9" font-size="8.6" fill="#6e6868">2</text>
<text x="200.2" y="749.9" font-size="8.6" fill="#6e6868">1</text>
<text x="363.1" y="749.9" font-size="8.6" fill="#6e6868">4</text>
<line x1="88.8" y1="752.7" x2="88.8" y2="797.8" stroke="#8a8484" stroke-width="0.5"/>
<line x1="202.3" y1="752.7" x2="202.3" y2="788.0" stroke="#8a8484" stroke-width="0.5"/>
<line x1="365.4" y1="752.7" x2="365.4" y2="827.3" stroke="#8a8484" stroke-width="0.5"/>
<text x="224.7" y="44.8" font-size="8.7" fill="#6e6868">22</text>
<line x1="223.5" y1="46.5" x2="235.8" y2="46.5" stroke="#807a7a" stroke-width="0.42"/>
<line x1="235.8" y1="46.5" x2="246.2" y2="65.0" stroke="#807a7a" stroke-width="0.42"/>
<text x="82.6" y="170.2" font-size="8.7" fill="#6e6868">29</text>
<line x1="81.0" y1="171.9" x2="93.2" y2="171.9" stroke="#807a7a" stroke-width="0.42"/>
<line x1="93.2" y1="171.9" x2="100.6" y2="195.5" stroke="#807a7a" stroke-width="0.42"/>
<text x="170.0" y="187.0" font-size="8.7" fill="#6e6868">28</text>
<line x1="169.0" y1="188.7" x2="180.6" y2="188.7" stroke="#807a7a" stroke-width="0.42"/>
<line x1="180.6" y1="188.7" x2="186.0" y2="206.6" stroke="#807a7a" stroke-width="0.42"/>
<text x="275.2" y="221.6" font-size="8.7" fill="#6e6868">13</text>
<line x1="273.5" y1="223.3" x2="285.0" y2="223.3" stroke="#807a7a" stroke-width="0.42"/>
<line x1="285.0" y1="223.3" x2="292.5" y2="240.6" stroke="#807a7a" stroke-width="0.42"/>
<text x="207.9" y="349.8" font-size="8.7" fill="#6e6868">9</text>
<line x1="203.3" y1="351.5" x2="213.8" y2="351.5" stroke="#807a7a" stroke-width="0.42"/>
<line x1="213.8" y1="351.5" x2="228.0" y2="366.0" stroke="#807a7a" stroke-width="0.42"/>
<text x="160.4" y="383.4" font-size="8.7" fill="#6e6868">19</text>
<line x1="159.0" y1="385.1" x2="170.0" y2="385.1" stroke="#807a7a" stroke-width="0.42"/>
<line x1="170.0" y1="385.1" x2="188.5" y2="462.0" stroke="#807a7a" stroke-width="0.42"/>
<text x="14.4" y="391.0" font-size="8.7" fill="#6e6868">23</text>
<line x1="12.5" y1="392.7" x2="24.3" y2="392.7" stroke="#807a7a" stroke-width="0.42"/>
<line x1="24.3" y1="392.7" x2="32.6" y2="418.0" stroke="#807a7a" stroke-width="0.42"/>
<text x="480.9" y="310.5" font-size="8.7" fill="#6e6868">6</text>
<line x1="477.8" y1="312.2" x2="489.0" y2="312.2" stroke="#807a7a" stroke-width="0.42"/>
<line x1="477.8" y1="312.2" x2="460.6" y2="375.7" stroke="#807a7a" stroke-width="0.42"/>
<text x="506.3" y="310.9" font-size="8.7" fill="#6e6868">8</text>
<line x1="503.5" y1="312.6" x2="513.4" y2="312.6" stroke="#807a7a" stroke-width="0.42"/>
<line x1="503.5" y1="312.6" x2="493.0" y2="362.0" stroke="#807a7a" stroke-width="0.42"/>
<text x="434.2" y="384.2" font-size="8.7" fill="#6e6868">7</text>
<line x1="431.0" y1="385.9" x2="441.0" y2="385.9" stroke="#807a7a" stroke-width="0.42"/>
<line x1="441.0" y1="385.9" x2="445.4" y2="417.0" stroke="#807a7a" stroke-width="0.42"/>
<text x="604.3" y="270.3" font-size="8.7" fill="#6e6868">26</text>
<line x1="602.7" y1="272.0" x2="614.2" y2="272.0" stroke="#807a7a" stroke-width="0.42"/>
<line x1="602.7" y1="272.0" x2="578.5" y2="338.5" stroke="#807a7a" stroke-width="0.42"/>
<text x="597.8" y="371.6" font-size="8.7" fill="#6e6868">18</text>
<line x1="595.8" y1="373.3" x2="606.6" y2="373.3" stroke="#807a7a" stroke-width="0.42"/>
<line x1="595.8" y1="373.3" x2="587.7" y2="359.0" stroke="#807a7a" stroke-width="0.42"/>
<text x="620.0" y="371.6" font-size="8.7" fill="#6e6868">17</text>
<line x1="618.8" y1="373.3" x2="629.2" y2="373.3" stroke="#807a7a" stroke-width="0.42"/>
<line x1="618.8" y1="373.3" x2="603.8" y2="353.5" stroke="#807a7a" stroke-width="0.42"/>
<line x1="618.8" y1="373.3" x2="615.4" y2="350.0" stroke="#8a8484" stroke-width="0.5"/>
<text x="627.5" y="446.4" font-size="8.7" fill="#6e6868">24</text>
<line x1="625.8" y1="448.1" x2="637.3" y2="448.1" stroke="#807a7a" stroke-width="0.42"/>
<line x1="625.8" y1="448.1" x2="613.0" y2="426.0" stroke="#807a7a" stroke-width="0.42"/>
<text x="629.0" y="473.6" font-size="8.7" fill="#6e6868">3</text>
<line x1="625.8" y1="475.3" x2="636.0" y2="475.3" stroke="#807a7a" stroke-width="0.42"/>
<line x1="625.8" y1="475.3" x2="597.0" y2="434.0" stroke="#807a7a" stroke-width="0.42"/>
<text x="598.8" y="645.8" font-size="8.7" fill="#6e6868">25</text>
<line x1="597.0" y1="647.5" x2="607.3" y2="647.5" stroke="#807a7a" stroke-width="0.42"/>
<line x1="597.0" y1="647.5" x2="582.0" y2="616.0" stroke="#807a7a" stroke-width="0.42"/>
<text x="319.4" y="619.0" font-size="8.7" fill="#6e6868">5</text>
<line x1="317.5" y1="620.7" x2="327.7" y2="620.7" stroke="#807a7a" stroke-width="0.42"/>
<line x1="327.7" y1="620.7" x2="390.0" y2="376.0" stroke="#807a7a" stroke-width="0.42"/>
<text x="353.8" y="619.0" font-size="8.7" fill="#6e6868">14</text>
<line x1="353.0" y1="620.7" x2="365.2" y2="620.7" stroke="#807a7a" stroke-width="0.42"/>
<line x1="365.2" y1="620.7" x2="402.6" y2="452.0" stroke="#807a7a" stroke-width="0.42"/>
<text x="385.2" y="619.0" font-size="8.7" fill="#6e6868">11</text>
<line x1="383.7" y1="620.7" x2="393.8" y2="620.7" stroke="#807a7a" stroke-width="0.42"/>
<line x1="393.8" y1="620.7" x2="413.0" y2="512.0" stroke="#807a7a" stroke-width="0.42"/>
<text x="412.3" y="619.0" font-size="8.7" fill="#6e6868">15</text>
<line x1="411.4" y1="620.7" x2="421.5" y2="620.7" stroke="#807a7a" stroke-width="0.42"/>
<line x1="421.5" y1="620.7" x2="449.0" y2="530.0" stroke="#807a7a" stroke-width="0.42"/>
<text x="449.0" y="619.0" font-size="8.7" fill="#6e6868">12</text>
<line x1="448.3" y1="620.7" x2="459.4" y2="620.7" stroke="#807a7a" stroke-width="0.42"/>
<line x1="459.4" y1="620.7" x2="479.0" y2="552.0" stroke="#807a7a" stroke-width="0.42"/>
<text x="473.8" y="619.0" font-size="8.7" fill="#6e6868">27</text>
<line x1="472.3" y1="620.7" x2="483.0" y2="620.7" stroke="#807a7a" stroke-width="0.42"/>
<line x1="483.0" y1="620.7" x2="492.3" y2="586.0" stroke="#807a7a" stroke-width="0.42"/>
<text x="419.4" y="641.3" font-size="8.7" fill="#6e6868">16</text>
<line x1="417.8" y1="643.0" x2="427.7" y2="643.0" stroke="#807a7a" stroke-width="0.42"/>
<line x1="427.7" y1="643.0" x2="456.0" y2="538.0" stroke="#807a7a" stroke-width="0.42"/>
<circle cx="439.7" cy="739.2" r="4.9" fill="#fff" stroke="#7a7474" stroke-width="0.5"/>
<text x="439.7" y="741.6" font-size="7.0" text-anchor="middle" fill="#6e6868">6</text>
<circle cx="479.0" cy="739.2" r="4.9" fill="#fff" stroke="#7a7474" stroke-width="0.5"/>
<text x="479.0" y="741.6" font-size="6.6" text-anchor="middle" fill="#6e6868">13</text>
<circle cx="537.7" cy="739.2" r="4.9" fill="#fff" stroke="#7a7474" stroke-width="0.5"/>
<text x="537.7" y="741.6" font-size="6.6" text-anchor="middle" fill="#6e6868">10</text>
<circle cx="440.2" cy="815.4" r="4.9" fill="#fff" stroke="#7a7474" stroke-width="0.5"/>
<text x="440.2" y="817.8" font-size="6.6" text-anchor="middle" fill="#6e6868">16</text>
<circle cx="523.6" cy="815.4" r="4.9" fill="#fff" stroke="#7a7474" stroke-width="0.5"/>
<text x="523.6" y="817.8" font-size="6.6" text-anchor="middle" fill="#6e6868">20</text>
<circle cx="605.8" cy="815.4" r="4.9" fill="#fff" stroke="#7a7474" stroke-width="0.5"/>
<text x="605.8" y="817.8" font-size="6.6" text-anchor="middle" fill="#6e6868">21</text>
<path d="M426.6,788.6 L426.6,770 Q426.6,765.6 431,765.6 L436,765.6" fill="none" stroke="#332a2a" stroke-width="3.17" stroke-linecap="butt" stroke-linejoin="round"/>
<path d="M426.6,788.6 L426.6,770 Q426.6,765.6 431,765.6 L436,765.6" fill="none" stroke="#fff" stroke-width="1.6" stroke-linecap="butt" stroke-linejoin="round"/>
<path d="M438.6,766 L438.6,789" fill="none" stroke="#332a2a" stroke-width="3.17" stroke-linecap="butt" stroke-linejoin="round"/>
<path d="M438.6,766 L438.6,789" fill="none" stroke="#fff" stroke-width="1.6" stroke-linecap="butt" stroke-linejoin="round"/>
<polygon points="432.4,753.4 436.4,752.4 446.6,754.2 449.2,756.4 449.2,762.4 445.6,764.6 435.4,764.0 432.4,761.4" fill="#fff" stroke="#332a2a" stroke-width="0.67" stroke-linejoin="round" />
<path d="M432.4,756.4 L436,757.6 L449.2,756.6 M436,757.6 L436,764" fill="none" stroke="#332a2a" stroke-width="0.49" stroke-linejoin="round" stroke-linecap="round" />
<polygon points="437.6,752.4 438.8,749.4 440.6,748.6 442.4,749.6 443.4,753.4" fill="#fff" stroke="#332a2a" stroke-width="0.61" stroke-linejoin="round" />
<polygon points="436.4,764.0 441.4,764.4 441.0,768.4 436.8,768.0" fill="#fff" stroke="#332a2a" stroke-width="0.55" stroke-linejoin="round" />
<polygon points="474.0,750.4 478.0,749.2 483.6,750.6 483.6,763.0 480.0,766.0 474.0,764.0" fill="#fff" stroke="#332a2a" stroke-width="0.67" stroke-linejoin="round" />
<path d="M475.6,752 L475.6,763 M477.4,753.6 L477.4,762.4 M480,752.4 L480,764 M482,752 L482,763" fill="none" stroke="#332a2a" stroke-width="0.49" stroke-linejoin="round" stroke-linecap="round" />
<path d="M477.4,753.6 L480,752.4" fill="none" stroke="#332a2a" stroke-width="0.49" stroke-linejoin="round" stroke-linecap="round" />
<ellipse cx="479.0" cy="767.0" rx="7.2" ry="2.6" fill="#fff" stroke="#332a2a" stroke-width="0.67" />
<path d="M471.8,767 L471.8,770.6 Q479,775 486.2,770.6 L486.2,767" fill="none" stroke="#332a2a" stroke-width="0.67" stroke-linejoin="round" stroke-linecap="round" />
<polygon points="475.6,772.4 482.4,772.4 481.4,776.4 476.6,776.4" fill="#fff" stroke="#332a2a" stroke-width="0.55" stroke-linejoin="round" />
<polygon points="478.0,776.4 480.0,776.4 480.0,788.4 478.4,791.4 478.0,788.0" fill="#fff" stroke="#332a2a" stroke-width="0.55" stroke-linejoin="round" />
<rect x="509.6" y="749.8" width="3.0" height="13.2" rx="0" fill="#fff" stroke="#332a2a" stroke-width="0.61" />
<path d="M511.1,763 Q512.0,772 508.4,778 Q505.0,784 504.8,790.4" fill="none" stroke="#332a2a" stroke-width="1.83" stroke-linejoin="round" stroke-linecap="round" />
<path d="M511.1,763 Q512.0,772 508.4,778 Q505.0,784 504.8,790.4" fill="none" stroke="#fff" stroke-width="0.75" stroke-linejoin="round" stroke-linecap="round" />
<rect x="519.1" y="749.8" width="3.0" height="13.2" rx="0" fill="#fff" stroke="#332a2a" stroke-width="0.61" />
<path d="M520.6,763 Q521.5,772 517.9,778 Q514.5,784 514.3,790.4" fill="none" stroke="#332a2a" stroke-width="1.83" stroke-linejoin="round" stroke-linecap="round" />
<path d="M520.6,763 Q521.5,772 517.9,778 Q514.5,784 514.3,790.4" fill="none" stroke="#fff" stroke-width="0.75" stroke-linejoin="round" stroke-linecap="round" />
<rect x="528.6" y="749.8" width="3.0" height="13.2" rx="0" fill="#fff" stroke="#332a2a" stroke-width="0.61" />
<path d="M530.1,763 Q531.0,772 527.4,778 Q524.0,784 523.8,790.4" fill="none" stroke="#332a2a" stroke-width="1.83" stroke-linejoin="round" stroke-linecap="round" />
<path d="M530.1,763 Q531.0,772 527.4,778 Q524.0,784 523.8,790.4" fill="none" stroke="#fff" stroke-width="0.75" stroke-linejoin="round" stroke-linecap="round" />
<rect x="538.1" y="749.8" width="3.0" height="13.2" rx="0" fill="#fff" stroke="#332a2a" stroke-width="0.61" />
<path d="M539.6,763 Q540.5,772 536.9,778 Q533.5,784 533.3,790.4" fill="none" stroke="#332a2a" stroke-width="1.83" stroke-linejoin="round" stroke-linecap="round" />
<path d="M539.6,763 Q540.5,772 536.9,778 Q533.5,784 533.3,790.4" fill="none" stroke="#fff" stroke-width="0.75" stroke-linejoin="round" stroke-linecap="round" />
<rect x="547.6" y="749.8" width="3.0" height="13.2" rx="0" fill="#fff" stroke="#332a2a" stroke-width="0.61" />
<path d="M549.1,763 Q550.0,772 546.4,778 Q543.0,784 542.8,790.4" fill="none" stroke="#332a2a" stroke-width="1.83" stroke-linejoin="round" stroke-linecap="round" />
<path d="M549.1,763 Q550.0,772 546.4,778 Q543.0,784 542.8,790.4" fill="none" stroke="#fff" stroke-width="0.75" stroke-linejoin="round" stroke-linecap="round" />
<rect x="557.1" y="749.8" width="3.0" height="13.2" rx="0" fill="#fff" stroke="#332a2a" stroke-width="0.61" />
<path d="M558.6,763 Q559.5,772 555.9,778 Q552.5,784 552.3,790.4" fill="none" stroke="#332a2a" stroke-width="1.83" stroke-linejoin="round" stroke-linecap="round" />
<path d="M558.6,763 Q559.5,772 555.9,778 Q552.5,784 552.3,790.4" fill="none" stroke="#fff" stroke-width="0.75" stroke-linejoin="round" stroke-linecap="round" />
<rect x="566.6" y="749.8" width="3.0" height="13.2" rx="0" fill="#fff" stroke="#332a2a" stroke-width="0.61" />
<path d="M568.1,763 Q569.0,772 565.4,778 Q562.0,784 561.8,790.4" fill="none" stroke="#332a2a" stroke-width="1.83" stroke-linejoin="round" stroke-linecap="round" />
<path d="M568.1,763 Q569.0,772 565.4,778 Q562.0,784 561.8,790.4" fill="none" stroke="#fff" stroke-width="0.75" stroke-linejoin="round" stroke-linecap="round" />
<polygon points="435.4,838.6 440.6,838.6 440.6,841.0 435.4,841.0" fill="#fff" stroke="#332a2a" stroke-width="0.55" stroke-linejoin="round" />
<rect x="432.6" y="841.0" width="11.0" height="6.4" rx="1.4" fill="#fff" stroke="#332a2a" stroke-width="0.67" />
<path d="M434.6,841 L434.6,847.4 M437.2,841 L437.2,847.4 M439.6,841 L439.6,847.4 M441.6,841 L441.6,847.4" fill="none" stroke="#332a2a" stroke-width="0.43" stroke-linejoin="round" stroke-linecap="round" />
<rect x="434.4" y="847.4" width="7.4" height="2.2" rx="0" fill="#fff" stroke="#332a2a" stroke-width="0.55" />
<rect x="435.2" y="849.6" width="5.8" height="5.2" rx="0" fill="#fff" stroke="#332a2a" stroke-width="0.55" />
<path d="M435.2,851 L441,851 M435.2,852.6 L441,852.6" fill="none" stroke="#332a2a" stroke-width="0.43" stroke-linejoin="round" stroke-linecap="round" />
<rect x="437.0" y="854.8" width="2.2" height="7.8" rx="1" fill="#fff" stroke="#332a2a" stroke-width="0.55" />
<ellipse cx="495.6" cy="849.4" rx="9.6" ry="6.4" fill="#fff" stroke="#332a2a" stroke-width="0.73" />
<ellipse cx="495.6" cy="849.2" rx="7.2" ry="4.6" fill="#fff" stroke="#332a2a" stroke-width="0.55" />
<ellipse cx="495.8" cy="849.0" rx="4.2" ry="2.6" fill="#fff" stroke="#332a2a" stroke-width="0.55" />
<path d="M492.4,848 L499.4,848 M492.8,850 L499,850 M494.4,846.8 L494.4,851.4 M496.8,846.8 L496.8,851.4" fill="none" stroke="#332a2a" stroke-width="0.43" stroke-linejoin="round" stroke-linecap="round" />
<polygon points="503.0,852.6 508.4,850.4 515.4,853.2 515.4,856.4 509.4,858.6 502.6,855.6" fill="#fff" stroke="#332a2a" stroke-width="0.61" stroke-linejoin="round" />
<path d="M508.4,850.4 L508.4,855.6 M511,851.4 L511,857.6 M513.4,852.4 L513.4,857" fill="none" stroke="#332a2a" stroke-width="0.43" stroke-linejoin="round" stroke-linecap="round" />
<text x="516.6" y="857" font-size="8" fill="#6e6868">+</text>
<ellipse cx="541.6" cy="852.2" rx="15.0" ry="16.2" fill="none" stroke="#332a2a" stroke-width="2.44" />
<ellipse cx="541.6" cy="852.2" rx="15.0" ry="16.2" fill="none" stroke="#fff" stroke-width="1.2" />
<ellipse cx="542.4" cy="851.6" rx="12.0" ry="13.4" fill="none" stroke="#332a2a" stroke-width="2.44" />
<ellipse cx="542.4" cy="851.6" rx="12.0" ry="13.4" fill="none" stroke="#fff" stroke-width="1.2" />
<ellipse cx="540.8" cy="853.0" rx="9.4" ry="10.6" fill="none" stroke="#332a2a" stroke-width="2.44" />
<ellipse cx="540.8" cy="853.0" rx="9.4" ry="10.6" fill="none" stroke="#fff" stroke-width="1.2" />
<ellipse cx="543.0" cy="853.8" rx="13.4" ry="11.6" fill="none" stroke="#332a2a" stroke-width="2.44" />
<ellipse cx="543.0" cy="853.8" rx="13.4" ry="11.6" fill="none" stroke="#fff" stroke-width="1.2" />
<path d="M579,845 Q579,839.6 583.6,838.6 L583.8,833 Q583.6,831.2 586,831.2 Q588.4,831.2 588.2,833 L588.4,838.6 Q594,839.6 594,845 L594,864.6 Q590,868 586.4,867.6 Q581.6,867.4 579.4,864.4 Z" fill="#1b1c1c"/>
<path d="M579.2,854.6 Q586,858 594,855 L594,858 Q586,861.2 579.2,857.6 Z" fill="#c8c4c0"/>
<path d="M594,839.4 Q594.4,834.6 607,834.2 Q620,834.6 620.6,839.4 L616.8,866 Q612,868.8 610.4,868.8 L610.4,873.6 L602,873.6 L602,868.8 Q598,868.4 595.6,866 Z" fill="#1b1c1c"/>
<ellipse cx="607.2" cy="838.4" rx="12.6" ry="3.6" fill="#39423f" stroke="#6f7a76" stroke-width="0.5" />
<ellipse cx="607.4" cy="838.2" rx="5.6" ry="1.5" fill="#1f2222" stroke="none" stroke-width="0.0" />
<rect x="600.4" y="843.4" width="8.6" height="5.2" rx="0" fill="#262828" stroke="#3a3d3d" stroke-width="0.4" />
<rect x="603.0" y="870.4" width="6.4" height="3.0" rx="0" fill="#3a3c3c" stroke="none" stroke-width="0.0" />
<text x="535.6" y="901.6" fill="#29a9e0" style="font-family:'Liberation Serif',serif" font-size="26" textLength="102" lengthAdjust="spacingAndGlyphs">A<tspan font-size="20">QUA</tspan>P<tspan font-size="20">OND</tspan></text>
</svg>
</body></html>
